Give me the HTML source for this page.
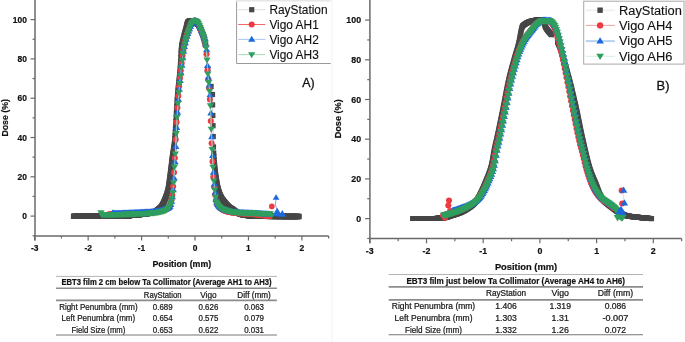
<!DOCTYPE html><html><head><meta charset="utf-8"><style>html,body{margin:0;padding:0;background:#fff;overflow:hidden}svg{display:block;will-change:transform}text{font-family:"Liberation Sans", sans-serif;fill:#111}.tb text{stroke:#222;stroke-width:0.22px}.ax text,.axl{stroke:#111;stroke-width:0.2px}.lb{stroke:#111;stroke-width:0.3px}.lg{stroke:#111;stroke-width:0.12px}</style></head><body>
<svg width="685" height="342" viewBox="0 0 685 342">
<rect width="685" height="342" fill="#fff"/>
<line x1="332" y1="0" x2="332" y2="342" stroke="#f2f2f2" stroke-width="1"/>
<g class="ax"><line x1="35" y1="0" x2="35" y2="240.5" stroke="#6a6a6a" stroke-width="1.5"/><line x1="34.25" y1="236" x2="328.62" y2="236" stroke="#6a6a6a" stroke-width="1.5"/><line x1="30.5" y1="216.1" x2="35" y2="216.1" stroke="#6a6a6a" stroke-width="1.2"/><text x="26.9" y="219.1" font-size="9" font-weight="bold" text-anchor="end" textLength="4.7" lengthAdjust="spacingAndGlyphs">0</text><line x1="30.5" y1="176.8" x2="35" y2="176.8" stroke="#6a6a6a" stroke-width="1.2"/><text x="26.9" y="179.8" font-size="9" font-weight="bold" text-anchor="end" textLength="9.41" lengthAdjust="spacingAndGlyphs">20</text><line x1="30.5" y1="137.5" x2="35" y2="137.5" stroke="#6a6a6a" stroke-width="1.2"/><text x="26.9" y="140.5" font-size="9" font-weight="bold" text-anchor="end" textLength="9.41" lengthAdjust="spacingAndGlyphs">40</text><line x1="30.5" y1="98.2" x2="35" y2="98.2" stroke="#6a6a6a" stroke-width="1.2"/><text x="26.9" y="101.2" font-size="9" font-weight="bold" text-anchor="end" textLength="9.41" lengthAdjust="spacingAndGlyphs">60</text><line x1="30.5" y1="58.9" x2="35" y2="58.9" stroke="#6a6a6a" stroke-width="1.2"/><text x="26.9" y="61.9" font-size="9" font-weight="bold" text-anchor="end" textLength="9.41" lengthAdjust="spacingAndGlyphs">80</text><line x1="30.5" y1="19.6" x2="35" y2="19.6" stroke="#6a6a6a" stroke-width="1.2"/><text x="26.9" y="22.6" font-size="9" font-weight="bold" text-anchor="end" textLength="14.11" lengthAdjust="spacingAndGlyphs">100</text><line x1="32.5" y1="235.75" x2="35" y2="235.75" stroke="#6a6a6a" stroke-width="1.2"/><line x1="32.5" y1="196.45" x2="35" y2="196.45" stroke="#6a6a6a" stroke-width="1.2"/><line x1="32.5" y1="157.15" x2="35" y2="157.15" stroke="#6a6a6a" stroke-width="1.2"/><line x1="32.5" y1="117.85" x2="35" y2="117.85" stroke="#6a6a6a" stroke-width="1.2"/><line x1="32.5" y1="78.55" x2="35" y2="78.55" stroke="#6a6a6a" stroke-width="1.2"/><line x1="32.5" y1="39.25" x2="35" y2="39.25" stroke="#6a6a6a" stroke-width="1.2"/><line x1="34.7" y1="236" x2="34.7" y2="240.5" stroke="#6a6a6a" stroke-width="1.2"/><text x="34.7" y="250.7" font-size="9" font-weight="bold" text-anchor="middle" textLength="7.52" lengthAdjust="spacingAndGlyphs">-3</text><line x1="88.14" y1="236" x2="88.14" y2="240.5" stroke="#6a6a6a" stroke-width="1.2"/><text x="88.14" y="250.7" font-size="9" font-weight="bold" text-anchor="middle" textLength="7.52" lengthAdjust="spacingAndGlyphs">-2</text><line x1="141.58" y1="236" x2="141.58" y2="240.5" stroke="#6a6a6a" stroke-width="1.2"/><text x="141.58" y="250.7" font-size="9" font-weight="bold" text-anchor="middle" textLength="7.52" lengthAdjust="spacingAndGlyphs">-1</text><line x1="195.02" y1="236" x2="195.02" y2="240.5" stroke="#6a6a6a" stroke-width="1.2"/><text x="195.02" y="250.7" font-size="9" font-weight="bold" text-anchor="middle" textLength="4.7" lengthAdjust="spacingAndGlyphs">0</text><line x1="248.46" y1="236" x2="248.46" y2="240.5" stroke="#6a6a6a" stroke-width="1.2"/><text x="248.46" y="250.7" font-size="9" font-weight="bold" text-anchor="middle" textLength="4.7" lengthAdjust="spacingAndGlyphs">1</text><line x1="301.9" y1="236" x2="301.9" y2="240.5" stroke="#6a6a6a" stroke-width="1.2"/><text x="301.9" y="250.7" font-size="9" font-weight="bold" text-anchor="middle" textLength="4.7" lengthAdjust="spacingAndGlyphs">2</text><line x1="61.42" y1="236" x2="61.42" y2="238.5" stroke="#6a6a6a" stroke-width="1.2"/><line x1="114.86" y1="236" x2="114.86" y2="238.5" stroke="#6a6a6a" stroke-width="1.2"/><line x1="168.3" y1="236" x2="168.3" y2="238.5" stroke="#6a6a6a" stroke-width="1.2"/><line x1="221.74" y1="236" x2="221.74" y2="238.5" stroke="#6a6a6a" stroke-width="1.2"/><line x1="275.18" y1="236" x2="275.18" y2="238.5" stroke="#6a6a6a" stroke-width="1.2"/><line x1="328.62" y1="236" x2="328.62" y2="238.5" stroke="#6a6a6a" stroke-width="1.2"/></g>
<path d="M73.5 216.39 L73.71 216.39 L73.92 216.39 L74.14 216.39 L74.35 216.39 L74.57 216.39 L74.78 216.39 L74.99 216.39 L75.21 216.39 L75.42 216.39 L75.64 216.39 L75.85 216.39 L76.06 216.39 L76.28 216.39 L76.49 216.39 L76.7 216.39 L76.92 216.39 L77.13 216.39 L77.35 216.39 L77.56 216.39 L77.77 216.39 L77.99 216.39 L78.2 216.39 L78.41 216.39 L78.63 216.39 L78.84 216.39 L79.06 216.39 L79.27 216.39 L79.48 216.39 L79.7 216.39 L79.91 216.39 L80.12 216.39 L80.34 216.39 L80.55 216.39 L80.77 216.39 L80.98 216.39 L81.19 216.39 L81.41 216.39 L81.62 216.39 L81.83 216.39 L82.05 216.39 L82.26 216.39 L82.48 216.39 L82.69 216.39 L82.9 216.39 L83.12 216.39 L83.33 216.39 L83.54 216.39 L83.76 216.39 L83.97 216.39 L84.19 216.39 L84.4 216.39 L84.61 216.39 L84.83 216.39 L85.04 216.39 L85.25 216.39 L85.47 216.39 L85.68 216.39 L85.9 216.39 L86.11 216.39 L86.32 216.39 L86.54 216.39 L86.75 216.39 L86.96 216.39 L87.18 216.39 L87.39 216.39 L87.61 216.39 L87.82 216.39 L88.03 216.39 L88.25 216.39 L88.46 216.39 L88.67 216.39 L88.89 216.39 L89.1 216.39 L89.32 216.39 L89.53 216.39 L89.74 216.39 L89.96 216.39 L90.17 216.39 L90.38 216.39 L90.6 216.39 L90.81 216.39 L91.03 216.39 L91.24 216.39 L91.45 216.39 L91.67 216.39 L91.88 216.39 L92.09 216.39 L92.31 216.39 L92.52 216.39 L92.74 216.39 L92.95 216.39 L93.16 216.39 L93.38 216.39 L93.59 216.39 L93.8 216.39 L94.02 216.39 L94.23 216.39 L94.45 216.39 L94.66 216.39 L94.87 216.39 L95.09 216.39 L95.3 216.38 L95.51 216.38 L95.73 216.38 L95.94 216.38 L96.16 216.38 L96.37 216.38 L96.58 216.38 L96.8 216.38 L97.01 216.38 L97.22 216.38 L97.44 216.38 L97.65 216.38 L97.87 216.38 L98.08 216.38 L98.29 216.38 L98.51 216.38 L98.72 216.38 L98.93 216.38 L99.15 216.38 L99.36 216.38 L99.58 216.38 L99.79 216.38 L100 216.38 L100.22 216.38 L100.43 216.38 L100.64 216.38 L100.86 216.38 L101.07 216.38 L101.29 216.38 L101.5 216.38 L101.71 216.38 L101.93 216.38 L102.14 216.37 L102.36 216.37 L102.57 216.37 L102.78 216.37 L103 216.37 L103.21 216.37 L103.42 216.37 L103.64 216.37 L103.85 216.37 L104.07 216.37 L104.28 216.37 L104.49 216.37 L104.71 216.37 L104.92 216.37 L105.13 216.37 L105.35 216.37 L105.56 216.37 L105.78 216.37 L105.99 216.37 L106.2 216.37 L106.42 216.37 L106.63 216.37 L106.84 216.36 L107.06 216.36 L107.27 216.36 L107.49 216.36 L107.7 216.36 L107.91 216.36 L108.13 216.36 L108.34 216.36 L108.55 216.36 L108.77 216.36 L108.98 216.36 L109.2 216.36 L109.41 216.36 L109.62 216.36 L109.84 216.36 L110.05 216.36 L110.26 216.36 L110.48 216.36 L110.69 216.36 L110.91 216.35 L111.12 216.35 L111.33 216.35 L111.55 216.35 L111.76 216.35 L111.97 216.35 L112.19 216.35 L112.4 216.35 L112.62 216.35 L112.83 216.35 L113.04 216.35 L113.26 216.35 L113.47 216.35 L113.68 216.35 L113.9 216.35 L114.11 216.34 L114.33 216.34 L114.54 216.34 L114.75 216.34 L114.97 216.34 L115.18 216.34 L115.39 216.34 L115.61 216.34 L115.82 216.34 L116.04 216.34 L116.25 216.34 L116.46 216.34 L116.68 216.34 L116.89 216.33 L117.1 216.33 L117.32 216.33 L117.53 216.33 L117.75 216.33 L117.96 216.33 L118.17 216.33 L118.39 216.33 L118.6 216.33 L118.81 216.33 L119.03 216.33 L119.24 216.33 L119.46 216.32 L119.67 216.32 L119.88 216.32 L120.1 216.32 L120.31 216.32 L120.52 216.32 L120.74 216.32 L120.95 216.32 L121.17 216.32 L121.38 216.32 L121.59 216.32 L121.81 216.31 L122.02 216.31 L122.23 216.31 L122.45 216.31 L122.66 216.31 L122.88 216.31 L123.09 216.31 L123.3 216.31 L123.52 216.31 L123.73 216.31 L123.94 216.3 L124.16 216.3 L124.37 216.3 L124.59 216.3 L124.8 216.3 L125.01 216.3 L125.23 216.3 L125.44 216.3 L125.65 216.29 L125.87 216.29 L126.08 216.27 L126.3 216.25 L126.51 216.22 L126.72 216.19 L126.94 216.15 L127.15 216.11 L127.36 216.07 L127.58 216.02 L127.79 215.97 L128.01 215.92 L128.22 215.87 L128.43 215.82 L128.65 215.77 L128.86 215.72 L129.08 215.67 L129.29 215.63 L129.5 215.59 L129.72 215.55 L129.93 215.52 L130.14 215.49 L130.36 215.46 L130.57 215.43 L130.79 215.4 L131 215.38 L131.21 215.35 L131.43 215.33 L131.64 215.3 L131.85 215.28 L132.07 215.25 L132.28 215.23 L132.5 215.2 L132.71 215.18 L132.92 215.16 L133.14 215.14 L133.35 215.12 L133.56 215.1 L133.78 215.07 L133.99 215.05 L134.21 215.03 L134.42 215.01 L134.63 214.99 L134.85 214.97 L135.06 214.96 L135.27 214.94 L135.49 214.92 L135.7 214.9 L135.92 214.88 L136.13 214.86 L136.34 214.84 L136.56 214.82 L136.77 214.81 L136.98 214.79 L137.2 214.77 L137.41 214.75 L137.63 214.73 L137.84 214.72 L138.05 214.7 L138.27 214.68 L138.48 214.66 L138.69 214.64 L138.91 214.62 L139.12 214.6 L139.34 214.58 L139.55 214.56 L139.76 214.55 L139.98 214.53 L140.19 214.51 L140.4 214.48 L140.62 214.46 L140.83 214.44 L141.05 214.42 L141.26 214.4 L141.47 214.38 L141.69 214.36 L141.9 214.33 L142.11 214.31 L142.33 214.28 L142.54 214.26 L142.76 214.24 L142.97 214.21 L143.18 214.18 L143.4 214.16 L143.61 214.13 L143.82 214.1 L144.04 214.07 L144.25 214.05 L144.47 214.02 L144.68 213.99 L144.89 213.95 L145.11 213.92 L145.32 213.89 L145.53 213.86 L145.75 213.82 L145.96 213.79 L146.18 213.76 L146.39 213.72 L146.6 213.69 L146.82 213.65 L147.03 213.62 L147.24 213.58 L147.46 213.54 L147.67 213.5 L147.89 213.46 L148.1 213.43 L148.31 213.38 L148.53 213.34 L148.74 213.3 L148.95 213.26 L149.17 213.22 L149.38 213.17 L149.6 213.12 L149.81 213.08 L150.02 213.03 L150.24 212.98 L150.45 212.93 L150.66 212.88 L150.88 212.83 L151.09 212.78 L151.31 212.72 L151.52 212.67 L151.73 212.61 L151.95 212.55 L152.16 212.5 L152.37 212.44 L152.59 212.37 L152.8 212.31 L153.02 212.25 L153.23 212.18 L153.44 212.11 L153.66 212.04 L153.87 211.97 L154.08 211.9 L154.3 211.83 L154.51 211.75 L154.73 211.68 L154.94 211.6 L155.15 211.52 L155.37 211.43 L155.58 211.33 L155.8 211.22 L156.01 211.1 L156.22 210.98 L156.44 210.85 L156.65 210.71 L156.86 210.57 L157.08 210.42 L157.29 210.27 L157.51 210.12 L157.72 209.96 L157.93 209.8 L158.15 209.63 L158.36 209.47 L158.57 209.31 L158.79 209.14 L159 208.97 L159.22 208.8 L159.43 208.63 L159.64 208.44 L159.86 208.26 L160.07 208.06 L160.28 207.86 L160.5 207.64 L160.71 207.42 L160.93 207.18 L161.14 206.93 L161.35 206.67 L161.57 206.38 L161.78 206.08 L161.99 205.75 L162.21 205.39 L162.42 205.02 L162.64 204.63 L162.85 204.22 L163.06 203.79 L163.28 203.35 L163.49 202.9 L163.7 202.43 L163.92 201.95 L164.13 201.45 L164.35 200.95 L164.56 200.44 L164.77 199.92 L164.99 199.4 L165.2 198.87 L165.41 198.33 L165.63 197.79 L165.84 197.23 L166.06 196.65 L166.27 196.05 L166.48 195.42 L166.7 194.76 L166.91 194.07 L167.12 193.34 L167.34 192.57 L167.55 191.75 L167.77 190.89 L167.98 189.97 L168.19 188.92 L168.41 187.7 L168.62 186.34 L168.83 184.86 L169.05 183.3 L169.26 181.68 L169.48 180.04 L169.69 178.4 L169.9 176.8 L170.12 175.19 L170.33 173.52 L170.54 171.79 L170.76 170.04 L170.97 168.26 L171.19 166.48 L171.4 164.7 L171.61 162.95 L171.83 161.22 L172.04 159.55 L172.25 157.93 L172.47 156.43 L172.68 155.02 L172.9 153.67 L173.11 152.36 L173.32 151.03 L173.54 149.67 L173.75 148.23 L173.96 146.68 L174.18 144.98 L174.39 143.11 L174.61 140.96 L174.82 138.39 L175.03 135.45 L175.25 132.21 L175.46 128.73 L175.67 125.07 L175.89 121.3 L176.1 117.48 L176.32 113.67 L176.53 109.93 L176.74 106.34 L176.96 102.95 L177.17 99.82 L177.38 97.02 L177.6 94.52 L177.81 92.2 L178.03 90.04 L178.24 88 L178.45 86.03 L178.67 84.1 L178.88 82.17 L179.09 80.21 L179.31 78.17 L179.52 76.02 L179.74 73.72 L179.95 71.23 L180.16 68.43 L180.38 64.93 L180.59 60.99 L180.8 56.99 L181.02 53.29 L181.23 50.28 L181.45 48.27 L181.66 46.77 L181.87 45.45 L182.09 44.29 L182.3 43.26 L182.52 42.32 L182.73 41.45 L182.94 40.62 L183.16 39.79 L183.37 38.94 L183.58 38.04 L183.8 37.14 L184.01 36.26 L184.23 35.4 L184.44 34.57 L184.65 33.75 L184.87 32.94 L185.08 32.15 L185.29 31.37 L185.51 30.59 L185.72 29.82 L185.94 29 L186.15 28.12 L186.36 27.22 L186.58 26.32 L186.79 25.44 L187 24.6 L187.22 23.84 L187.43 23.16 L187.65 22.61 L187.86 22.2 L188.07 21.96 L188.29 21.81 L188.5 21.67 L188.71 21.54 L188.93 21.42 L189.14 21.3 L189.36 21.19 L189.57 21.09 L189.78 21 L190 20.92 L190.21 20.85 L190.42 20.78 L190.64 20.73 L190.85 20.68 L191.07 20.64 L191.28 20.61 L191.49 20.59 L191.71 20.58 L191.92 20.58 L192.13 20.6 L192.35 20.62 L192.56 20.66 L192.78 20.7 L192.99 20.76 L193.2 20.82 L193.42 20.89 L193.63 20.97 L193.84 21.05 L194.06 21.14 L194.27 21.23 L194.49 21.32 L194.7 21.42 L194.91 21.52 L195.13 21.62 L195.34 21.73 L195.55 21.86 L195.77 22 L195.98 22.16 L196.2 22.33 L196.41 22.52 L196.62 22.71 L196.84 22.92 L197.05 23.14 L197.26 23.37 L197.48 23.61 L197.69 23.86 L197.91 24.11 L198.12 24.38 L198.33 24.65 L198.55 24.95 L198.76 25.28 L198.97 25.63 L199.19 26.01 L199.4 26.42 L199.62 26.84 L199.83 27.28 L200.04 27.74 L200.26 28.22 L200.47 28.72 L200.68 29.22 L200.9 29.74 L201.11 30.27 L201.33 30.81 L201.54 31.34 L201.75 31.87 L201.97 32.4 L202.18 32.94 L202.39 33.48 L202.61 34.04 L202.82 34.61 L203.04 35.21 L203.25 35.82 L203.46 36.46 L203.68 37.13 L203.89 37.83 L204.1 38.57 L204.32 39.35 L204.53 40.17 L204.75 41.04 L204.96 41.95 L205.17 42.92 L205.39 43.95 L205.6 45.03 L207.85 68.72 L211.05 86.41 L212.49 94.47 L212.6 104.88 L212.82 115.49 L213.03 125.71 L213.24 136.52 L213.46 146.93 L213.72 152.94 L213.94 156.32 L214.15 159.59 L214.37 162.52 L214.58 165.01 L214.79 167.19 L215.01 169.22 L215.22 171.12 L215.43 172.9 L215.65 174.57 L215.86 176.15 L216.08 177.64 L216.29 179.06 L216.5 180.42 L216.72 181.75 L216.93 183.02 L217.14 184.25 L217.36 185.42 L217.57 186.53 L217.79 187.56 L218 188.51 L218.21 189.37 L218.43 190.15 L218.64 190.88 L218.85 191.59 L219.07 192.26 L219.28 192.9 L219.5 193.51 L219.71 194.09 L219.92 194.64 L220.14 195.17 L220.35 195.67 L220.56 196.15 L220.78 196.6 L220.99 197.03 L221.21 197.43 L221.42 197.82 L221.63 198.19 L221.85 198.54 L222.06 198.87 L222.27 199.19 L222.49 199.5 L222.7 199.8 L222.92 200.08 L223.13 200.36 L223.34 200.64 L223.56 200.9 L223.77 201.17 L223.98 201.43 L224.2 201.69 L224.41 201.95 L224.63 202.21 L224.84 202.48 L225.05 202.74 L225.27 203 L225.48 203.26 L225.69 203.52 L225.91 203.77 L226.12 204.02 L226.34 204.27 L226.55 204.52 L226.76 204.76 L226.98 204.99 L227.19 205.22 L227.4 205.45 L227.62 205.67 L227.83 205.88 L228.05 206.09 L228.26 206.29 L228.47 206.48 L228.69 206.67 L228.9 206.85 L229.11 207.02 L229.33 207.18 L229.54 207.34 L229.76 207.5 L229.97 207.65 L230.18 207.8 L230.4 207.94 L230.61 208.09 L230.82 208.23 L231.04 208.36 L231.25 208.5 L231.47 208.64 L231.68 208.77 L231.89 208.91 L232.11 209.05 L232.32 209.19 L232.53 209.33 L232.75 209.47 L232.96 209.62 L233.18 209.77 L233.39 209.92 L233.6 210.08 L233.82 210.24 L234.03 210.41 L234.24 210.57 L234.46 210.74 L234.67 210.91 L234.89 211.07 L235.1 211.24 L235.31 211.4 L235.53 211.57 L235.74 211.73 L235.96 211.88 L236.17 212.03 L236.38 212.18 L236.6 212.32 L236.81 212.45 L237.02 212.58 L237.24 212.7 L237.45 212.81 L237.67 212.91 L237.88 213 L238.09 213.09 L238.31 213.18 L238.52 213.27 L238.73 213.36 L238.95 213.44 L239.16 213.53 L239.38 213.61 L239.59 213.7 L239.8 213.78 L240.02 213.86 L240.23 213.94 L240.44 214.01 L240.66 214.09 L240.87 214.16 L241.09 214.23 L241.3 214.3 L241.51 214.37 L241.73 214.44 L241.94 214.51 L242.15 214.57 L242.37 214.63 L242.58 214.69 L242.8 214.75 L243.01 214.8 L243.22 214.86 L243.44 214.91 L243.65 214.96 L243.86 215 L244.08 215.05 L244.29 215.09 L244.51 215.13 L244.72 215.17 L244.93 215.2 L245.15 215.23 L245.36 215.26 L245.57 215.29 L245.79 215.31 L246 215.34 L246.22 215.36 L246.43 215.38 L246.64 215.4 L246.86 215.42 L247.07 215.45 L247.28 215.47 L247.5 215.49 L247.71 215.51 L247.93 215.53 L248.14 215.55 L248.35 215.57 L248.57 215.59 L248.78 215.61 L248.99 215.63 L249.21 215.65 L249.42 215.67 L249.64 215.69 L249.85 215.7 L250.06 215.72 L250.28 215.74 L250.49 215.76 L250.7 215.78 L250.92 215.79 L251.13 215.81 L251.35 215.83 L251.56 215.84 L251.77 215.86 L251.99 215.88 L252.2 215.89 L252.41 215.91 L252.63 215.92 L252.84 215.94 L253.06 215.95 L253.27 215.97 L253.48 215.98 L253.7 216 L253.91 216.01 L254.12 216.03 L254.34 216.04 L254.55 216.05 L254.77 216.07 L254.98 216.08 L255.19 216.09 L255.41 216.1 L255.62 216.12 L255.83 216.13 L256.05 216.14 L256.26 216.15 L256.48 216.16 L256.69 216.17 L256.9 216.18 L257.12 216.19 L257.33 216.2 L257.54 216.21 L257.76 216.22 L257.97 216.23 L258.19 216.24 L258.4 216.25 L258.61 216.26 L258.83 216.27 L259.04 216.28 L259.25 216.28 L259.47 216.29 L259.68 216.3 L259.9 216.31 L260.11 216.31 L260.32 216.32 L260.54 216.33 L260.75 216.33 L260.96 216.34 L261.18 216.34 L261.39 216.35 L261.61 216.35 L261.82 216.36 L262.03 216.36 L262.25 216.37 L262.46 216.37 L262.68 216.37 L262.89 216.38 L263.1 216.38 L263.32 216.38 L263.53 216.39 L263.74 216.39 L263.96 216.39 L264.17 216.39 L264.39 216.39 L264.6 216.4 L264.81 216.4 L265.03 216.4 L265.24 216.4 L265.45 216.4 L265.67 216.4 L265.88 216.4 L266.1 216.4 L266.31 216.41 L266.52 216.41 L266.74 216.41 L266.95 216.41 L267.16 216.41 L267.38 216.41 L267.59 216.41 L267.81 216.41 L268.02 216.41 L268.23 216.42 L268.45 216.42 L268.66 216.42 L268.87 216.42 L269.09 216.42 L269.3 216.42 L269.52 216.42 L269.73 216.42 L269.94 216.42 L270.16 216.43 L270.37 216.43 L270.58 216.43 L270.8 216.43 L271.01 216.43 L271.23 216.43 L271.44 216.43 L271.65 216.43 L271.87 216.43 L272.08 216.43 L272.29 216.44 L272.51 216.44 L272.72 216.44 L272.94 216.44 L273.15 216.44 L273.36 216.44 L273.58 216.44 L273.79 216.44 L274 216.44 L274.22 216.44 L274.43 216.44 L274.65 216.45 L274.86 216.45 L275.07 216.45 L275.29 216.45 L275.5 216.45 L275.71 216.45 L275.93 216.45 L276.14 216.45 L276.36 216.45 L276.57 216.45 L276.78 216.45 L277 216.45 L277.21 216.46 L277.42 216.46 L277.64 216.46 L277.85 216.46 L278.07 216.46 L278.28 216.46 L278.49 216.46 L278.71 216.46 L278.92 216.46 L279.13 216.46 L279.35 216.46 L279.56 216.46 L279.78 216.46 L279.99 216.46 L280.2 216.47 L280.42 216.47 L280.63 216.47 L280.84 216.47 L281.06 216.47 L281.27 216.47 L281.49 216.47 L281.7 216.47 L281.91 216.47 L282.13 216.47 L282.34 216.47 L282.55 216.47 L282.77 216.47 L282.98 216.47 L283.2 216.47 L283.41 216.47 L283.62 216.47 L283.84 216.48 L284.05 216.48 L284.26 216.48 L284.48 216.48 L284.69 216.48 L284.91 216.48 L285.12 216.48 L285.33 216.48 L285.55 216.48 L285.76 216.48 L285.97 216.48 L286.19 216.48 L286.4 216.48 L286.62 216.48 L286.83 216.48 L287.04 216.48 L287.26 216.48 L287.47 216.48 L287.68 216.48 L287.9 216.48 L288.11 216.48 L288.33 216.48 L288.54 216.48 L288.75 216.48 L288.97 216.49 L289.18 216.49 L289.4 216.49 L289.61 216.49 L289.82 216.49 L290.04 216.49 L290.25 216.49 L290.46 216.49 L290.68 216.49 L290.89 216.49 L291.11 216.49 L291.32 216.49 L291.53 216.49 L291.75 216.49 L291.96 216.49 L292.17 216.49 L292.39 216.49 L292.6 216.49 L292.82 216.49 L293.03 216.49 L293.24 216.49 L293.46 216.49 L293.67 216.49 L293.88 216.49 L294.1 216.49 L294.31 216.49 L294.53 216.49 L294.74 216.49 L294.95 216.49 L295.17 216.49 L295.38 216.49 L295.59 216.49 L295.81 216.49 L296.02 216.49 L296.24 216.49 L296.45 216.49 L296.66 216.49 L296.88 216.49 L297.09 216.49 L297.3 216.49 L297.52 216.49 L297.73 216.49 L297.95 216.49 L298.16 216.49 L298.37 216.49 L298.59 216.49 L298.8 216.49 L299.01 216.49" fill="none" stroke="#bbbbbb" stroke-width="0.8"/><rect x="70.9" y="213.79" width="5.2" height="5.2" fill="#474747"/><rect x="71.11" y="213.79" width="5.2" height="5.2" fill="#474747"/><rect x="71.32" y="213.79" width="5.2" height="5.2" fill="#474747"/><rect x="71.54" y="213.79" width="5.2" height="5.2" fill="#474747"/><rect x="71.75" y="213.79" width="5.2" height="5.2" fill="#474747"/><rect x="71.97" y="213.79" width="5.2" height="5.2" fill="#474747"/><rect x="72.18" y="213.79" width="5.2" height="5.2" fill="#474747"/><rect x="72.39" y="213.79" width="5.2" height="5.2" fill="#474747"/><rect x="72.61" y="213.79" width="5.2" height="5.2" fill="#474747"/><rect x="72.82" y="213.79" width="5.2" height="5.2" fill="#474747"/><rect x="73.04" y="213.79" width="5.2" height="5.2" fill="#474747"/><rect x="73.25" y="213.79" width="5.2" height="5.2" fill="#474747"/><rect x="73.46" y="213.79" width="5.2" height="5.2" fill="#474747"/><rect x="73.68" y="213.79" width="5.2" height="5.2" fill="#474747"/><rect x="73.89" y="213.79" width="5.2" height="5.2" fill="#474747"/><rect x="74.1" y="213.79" width="5.2" height="5.2" fill="#474747"/><rect x="74.32" y="213.79" width="5.2" height="5.2" fill="#474747"/><rect x="74.53" y="213.79" width="5.2" height="5.2" fill="#474747"/><rect x="74.75" y="213.79" width="5.2" height="5.2" fill="#474747"/><rect x="74.96" y="213.79" width="5.2" height="5.2" fill="#474747"/><rect x="75.17" y="213.79" width="5.2" height="5.2" fill="#474747"/><rect x="75.39" y="213.79" width="5.2" height="5.2" fill="#474747"/><rect x="75.6" y="213.79" width="5.2" height="5.2" fill="#474747"/><rect x="75.81" y="213.79" width="5.2" height="5.2" fill="#474747"/><rect x="76.03" y="213.79" width="5.2" height="5.2" fill="#474747"/><rect x="76.24" y="213.79" width="5.2" height="5.2" fill="#474747"/><rect x="76.46" y="213.79" width="5.2" height="5.2" fill="#474747"/><rect x="76.67" y="213.79" width="5.2" height="5.2" fill="#474747"/><rect x="76.88" y="213.79" width="5.2" height="5.2" fill="#474747"/><rect x="77.1" y="213.79" width="5.2" height="5.2" fill="#474747"/><rect x="77.31" y="213.79" width="5.2" height="5.2" fill="#474747"/><rect x="77.52" y="213.79" width="5.2" height="5.2" fill="#474747"/><rect x="77.74" y="213.79" width="5.2" height="5.2" fill="#474747"/><rect x="77.95" y="213.79" width="5.2" height="5.2" fill="#474747"/><rect x="78.17" y="213.79" width="5.2" height="5.2" fill="#474747"/><rect x="78.38" y="213.79" width="5.2" height="5.2" fill="#474747"/><rect x="78.59" y="213.79" width="5.2" height="5.2" fill="#474747"/><rect x="78.81" y="213.79" width="5.2" height="5.2" fill="#474747"/><rect x="79.02" y="213.79" width="5.2" height="5.2" fill="#474747"/><rect x="79.23" y="213.79" width="5.2" height="5.2" fill="#474747"/><rect x="79.45" y="213.79" width="5.2" height="5.2" fill="#474747"/><rect x="79.66" y="213.79" width="5.2" height="5.2" fill="#474747"/><rect x="79.88" y="213.79" width="5.2" height="5.2" fill="#474747"/><rect x="80.09" y="213.79" width="5.2" height="5.2" fill="#474747"/><rect x="80.3" y="213.79" width="5.2" height="5.2" fill="#474747"/><rect x="80.52" y="213.79" width="5.2" height="5.2" fill="#474747"/><rect x="80.73" y="213.79" width="5.2" height="5.2" fill="#474747"/><rect x="80.94" y="213.79" width="5.2" height="5.2" fill="#474747"/><rect x="81.16" y="213.79" width="5.2" height="5.2" fill="#474747"/><rect x="81.37" y="213.79" width="5.2" height="5.2" fill="#474747"/><rect x="81.59" y="213.79" width="5.2" height="5.2" fill="#474747"/><rect x="81.8" y="213.79" width="5.2" height="5.2" fill="#474747"/><rect x="82.01" y="213.79" width="5.2" height="5.2" fill="#474747"/><rect x="82.23" y="213.79" width="5.2" height="5.2" fill="#474747"/><rect x="82.44" y="213.79" width="5.2" height="5.2" fill="#474747"/><rect x="82.65" y="213.79" width="5.2" height="5.2" fill="#474747"/><rect x="82.87" y="213.79" width="5.2" height="5.2" fill="#474747"/><rect x="83.08" y="213.79" width="5.2" height="5.2" fill="#474747"/><rect x="83.3" y="213.79" width="5.2" height="5.2" fill="#474747"/><rect x="83.51" y="213.79" width="5.2" height="5.2" fill="#474747"/><rect x="83.72" y="213.79" width="5.2" height="5.2" fill="#474747"/><rect x="83.94" y="213.79" width="5.2" height="5.2" fill="#474747"/><rect x="84.15" y="213.79" width="5.2" height="5.2" fill="#474747"/><rect x="84.36" y="213.79" width="5.2" height="5.2" fill="#474747"/><rect x="84.58" y="213.79" width="5.2" height="5.2" fill="#474747"/><rect x="84.79" y="213.79" width="5.2" height="5.2" fill="#474747"/><rect x="85.01" y="213.79" width="5.2" height="5.2" fill="#474747"/><rect x="85.22" y="213.79" width="5.2" height="5.2" fill="#474747"/><rect x="85.43" y="213.79" width="5.2" height="5.2" fill="#474747"/><rect x="85.65" y="213.79" width="5.2" height="5.2" fill="#474747"/><rect x="85.86" y="213.79" width="5.2" height="5.2" fill="#474747"/><rect x="86.07" y="213.79" width="5.2" height="5.2" fill="#474747"/><rect x="86.29" y="213.79" width="5.2" height="5.2" fill="#474747"/><rect x="86.5" y="213.79" width="5.2" height="5.2" fill="#474747"/><rect x="86.72" y="213.79" width="5.2" height="5.2" fill="#474747"/><rect x="86.93" y="213.79" width="5.2" height="5.2" fill="#474747"/><rect x="87.14" y="213.79" width="5.2" height="5.2" fill="#474747"/><rect x="87.36" y="213.79" width="5.2" height="5.2" fill="#474747"/><rect x="87.57" y="213.79" width="5.2" height="5.2" fill="#474747"/><rect x="87.78" y="213.79" width="5.2" height="5.2" fill="#474747"/><rect x="88" y="213.79" width="5.2" height="5.2" fill="#474747"/><rect x="88.21" y="213.79" width="5.2" height="5.2" fill="#474747"/><rect x="88.43" y="213.79" width="5.2" height="5.2" fill="#474747"/><rect x="88.64" y="213.79" width="5.2" height="5.2" fill="#474747"/><rect x="88.85" y="213.79" width="5.2" height="5.2" fill="#474747"/><rect x="89.07" y="213.79" width="5.2" height="5.2" fill="#474747"/><rect x="89.28" y="213.79" width="5.2" height="5.2" fill="#474747"/><rect x="89.49" y="213.79" width="5.2" height="5.2" fill="#474747"/><rect x="89.71" y="213.79" width="5.2" height="5.2" fill="#474747"/><rect x="89.92" y="213.79" width="5.2" height="5.2" fill="#474747"/><rect x="90.14" y="213.79" width="5.2" height="5.2" fill="#474747"/><rect x="90.35" y="213.79" width="5.2" height="5.2" fill="#474747"/><rect x="90.56" y="213.79" width="5.2" height="5.2" fill="#474747"/><rect x="90.78" y="213.79" width="5.2" height="5.2" fill="#474747"/><rect x="90.99" y="213.79" width="5.2" height="5.2" fill="#474747"/><rect x="91.2" y="213.79" width="5.2" height="5.2" fill="#474747"/><rect x="91.42" y="213.79" width="5.2" height="5.2" fill="#474747"/><rect x="91.63" y="213.79" width="5.2" height="5.2" fill="#474747"/><rect x="91.85" y="213.79" width="5.2" height="5.2" fill="#474747"/><rect x="92.06" y="213.79" width="5.2" height="5.2" fill="#474747"/><rect x="92.27" y="213.79" width="5.2" height="5.2" fill="#474747"/><rect x="92.49" y="213.79" width="5.2" height="5.2" fill="#474747"/><rect x="92.7" y="213.78" width="5.2" height="5.2" fill="#474747"/><rect x="92.91" y="213.78" width="5.2" height="5.2" fill="#474747"/><rect x="93.13" y="213.78" width="5.2" height="5.2" fill="#474747"/><rect x="93.34" y="213.78" width="5.2" height="5.2" fill="#474747"/><rect x="93.56" y="213.78" width="5.2" height="5.2" fill="#474747"/><rect x="93.77" y="213.78" width="5.2" height="5.2" fill="#474747"/><rect x="93.98" y="213.78" width="5.2" height="5.2" fill="#474747"/><rect x="94.2" y="213.78" width="5.2" height="5.2" fill="#474747"/><rect x="94.41" y="213.78" width="5.2" height="5.2" fill="#474747"/><rect x="94.62" y="213.78" width="5.2" height="5.2" fill="#474747"/><rect x="94.84" y="213.78" width="5.2" height="5.2" fill="#474747"/><rect x="95.05" y="213.78" width="5.2" height="5.2" fill="#474747"/><rect x="95.27" y="213.78" width="5.2" height="5.2" fill="#474747"/><rect x="95.48" y="213.78" width="5.2" height="5.2" fill="#474747"/><rect x="95.69" y="213.78" width="5.2" height="5.2" fill="#474747"/><rect x="95.91" y="213.78" width="5.2" height="5.2" fill="#474747"/><rect x="96.12" y="213.78" width="5.2" height="5.2" fill="#474747"/><rect x="96.33" y="213.78" width="5.2" height="5.2" fill="#474747"/><rect x="96.55" y="213.78" width="5.2" height="5.2" fill="#474747"/><rect x="96.76" y="213.78" width="5.2" height="5.2" fill="#474747"/><rect x="96.98" y="213.78" width="5.2" height="5.2" fill="#474747"/><rect x="97.19" y="213.78" width="5.2" height="5.2" fill="#474747"/><rect x="97.4" y="213.78" width="5.2" height="5.2" fill="#474747"/><rect x="97.62" y="213.78" width="5.2" height="5.2" fill="#474747"/><rect x="97.83" y="213.78" width="5.2" height="5.2" fill="#474747"/><rect x="98.04" y="213.78" width="5.2" height="5.2" fill="#474747"/><rect x="98.26" y="213.78" width="5.2" height="5.2" fill="#474747"/><rect x="98.47" y="213.78" width="5.2" height="5.2" fill="#474747"/><rect x="98.69" y="213.78" width="5.2" height="5.2" fill="#474747"/><rect x="98.9" y="213.78" width="5.2" height="5.2" fill="#474747"/><rect x="99.11" y="213.78" width="5.2" height="5.2" fill="#474747"/><rect x="99.33" y="213.78" width="5.2" height="5.2" fill="#474747"/><rect x="99.54" y="213.77" width="5.2" height="5.2" fill="#474747"/><rect x="99.76" y="213.77" width="5.2" height="5.2" fill="#474747"/><rect x="99.97" y="213.77" width="5.2" height="5.2" fill="#474747"/><rect x="100.18" y="213.77" width="5.2" height="5.2" fill="#474747"/><rect x="100.4" y="213.77" width="5.2" height="5.2" fill="#474747"/><rect x="100.61" y="213.77" width="5.2" height="5.2" fill="#474747"/><rect x="100.82" y="213.77" width="5.2" height="5.2" fill="#474747"/><rect x="101.04" y="213.77" width="5.2" height="5.2" fill="#474747"/><rect x="101.25" y="213.77" width="5.2" height="5.2" fill="#474747"/><rect x="101.47" y="213.77" width="5.2" height="5.2" fill="#474747"/><rect x="101.68" y="213.77" width="5.2" height="5.2" fill="#474747"/><rect x="101.89" y="213.77" width="5.2" height="5.2" fill="#474747"/><rect x="102.11" y="213.77" width="5.2" height="5.2" fill="#474747"/><rect x="102.32" y="213.77" width="5.2" height="5.2" fill="#474747"/><rect x="102.53" y="213.77" width="5.2" height="5.2" fill="#474747"/><rect x="102.75" y="213.77" width="5.2" height="5.2" fill="#474747"/><rect x="102.96" y="213.77" width="5.2" height="5.2" fill="#474747"/><rect x="103.18" y="213.77" width="5.2" height="5.2" fill="#474747"/><rect x="103.39" y="213.77" width="5.2" height="5.2" fill="#474747"/><rect x="103.6" y="213.77" width="5.2" height="5.2" fill="#474747"/><rect x="103.82" y="213.77" width="5.2" height="5.2" fill="#474747"/><rect x="104.03" y="213.77" width="5.2" height="5.2" fill="#474747"/><rect x="104.24" y="213.76" width="5.2" height="5.2" fill="#474747"/><rect x="104.46" y="213.76" width="5.2" height="5.2" fill="#474747"/><rect x="104.67" y="213.76" width="5.2" height="5.2" fill="#474747"/><rect x="104.89" y="213.76" width="5.2" height="5.2" fill="#474747"/><rect x="105.1" y="213.76" width="5.2" height="5.2" fill="#474747"/><rect x="105.31" y="213.76" width="5.2" height="5.2" fill="#474747"/><rect x="105.53" y="213.76" width="5.2" height="5.2" fill="#474747"/><rect x="105.74" y="213.76" width="5.2" height="5.2" fill="#474747"/><rect x="105.95" y="213.76" width="5.2" height="5.2" fill="#474747"/><rect x="106.17" y="213.76" width="5.2" height="5.2" fill="#474747"/><rect x="106.38" y="213.76" width="5.2" height="5.2" fill="#474747"/><rect x="106.6" y="213.76" width="5.2" height="5.2" fill="#474747"/><rect x="106.81" y="213.76" width="5.2" height="5.2" fill="#474747"/><rect x="107.02" y="213.76" width="5.2" height="5.2" fill="#474747"/><rect x="107.24" y="213.76" width="5.2" height="5.2" fill="#474747"/><rect x="107.45" y="213.76" width="5.2" height="5.2" fill="#474747"/><rect x="107.66" y="213.76" width="5.2" height="5.2" fill="#474747"/><rect x="107.88" y="213.76" width="5.2" height="5.2" fill="#474747"/><rect x="108.09" y="213.76" width="5.2" height="5.2" fill="#474747"/><rect x="108.31" y="213.75" width="5.2" height="5.2" fill="#474747"/><rect x="108.52" y="213.75" width="5.2" height="5.2" fill="#474747"/><rect x="108.73" y="213.75" width="5.2" height="5.2" fill="#474747"/><rect x="108.95" y="213.75" width="5.2" height="5.2" fill="#474747"/><rect x="109.16" y="213.75" width="5.2" height="5.2" fill="#474747"/><rect x="109.37" y="213.75" width="5.2" height="5.2" fill="#474747"/><rect x="109.59" y="213.75" width="5.2" height="5.2" fill="#474747"/><rect x="109.8" y="213.75" width="5.2" height="5.2" fill="#474747"/><rect x="110.02" y="213.75" width="5.2" height="5.2" fill="#474747"/><rect x="110.23" y="213.75" width="5.2" height="5.2" fill="#474747"/><rect x="110.44" y="213.75" width="5.2" height="5.2" fill="#474747"/><rect x="110.66" y="213.75" width="5.2" height="5.2" fill="#474747"/><rect x="110.87" y="213.75" width="5.2" height="5.2" fill="#474747"/><rect x="111.08" y="213.75" width="5.2" height="5.2" fill="#474747"/><rect x="111.3" y="213.75" width="5.2" height="5.2" fill="#474747"/><rect x="111.51" y="213.74" width="5.2" height="5.2" fill="#474747"/><rect x="111.73" y="213.74" width="5.2" height="5.2" fill="#474747"/><rect x="111.94" y="213.74" width="5.2" height="5.2" fill="#474747"/><rect x="112.15" y="213.74" width="5.2" height="5.2" fill="#474747"/><rect x="112.37" y="213.74" width="5.2" height="5.2" fill="#474747"/><rect x="112.58" y="213.74" width="5.2" height="5.2" fill="#474747"/><rect x="112.79" y="213.74" width="5.2" height="5.2" fill="#474747"/><rect x="113.01" y="213.74" width="5.2" height="5.2" fill="#474747"/><rect x="113.22" y="213.74" width="5.2" height="5.2" fill="#474747"/><rect x="113.44" y="213.74" width="5.2" height="5.2" fill="#474747"/><rect x="113.65" y="213.74" width="5.2" height="5.2" fill="#474747"/><rect x="113.86" y="213.74" width="5.2" height="5.2" fill="#474747"/><rect x="114.08" y="213.74" width="5.2" height="5.2" fill="#474747"/><rect x="114.29" y="213.73" width="5.2" height="5.2" fill="#474747"/><rect x="114.5" y="213.73" width="5.2" height="5.2" fill="#474747"/><rect x="114.72" y="213.73" width="5.2" height="5.2" fill="#474747"/><rect x="114.93" y="213.73" width="5.2" height="5.2" fill="#474747"/><rect x="115.15" y="213.73" width="5.2" height="5.2" fill="#474747"/><rect x="115.36" y="213.73" width="5.2" height="5.2" fill="#474747"/><rect x="115.57" y="213.73" width="5.2" height="5.2" fill="#474747"/><rect x="115.79" y="213.73" width="5.2" height="5.2" fill="#474747"/><rect x="116" y="213.73" width="5.2" height="5.2" fill="#474747"/><rect x="116.21" y="213.73" width="5.2" height="5.2" fill="#474747"/><rect x="116.43" y="213.73" width="5.2" height="5.2" fill="#474747"/><rect x="116.64" y="213.73" width="5.2" height="5.2" fill="#474747"/><rect x="116.86" y="213.72" width="5.2" height="5.2" fill="#474747"/><rect x="117.07" y="213.72" width="5.2" height="5.2" fill="#474747"/><rect x="117.28" y="213.72" width="5.2" height="5.2" fill="#474747"/><rect x="117.5" y="213.72" width="5.2" height="5.2" fill="#474747"/><rect x="117.71" y="213.72" width="5.2" height="5.2" fill="#474747"/><rect x="117.92" y="213.72" width="5.2" height="5.2" fill="#474747"/><rect x="118.14" y="213.72" width="5.2" height="5.2" fill="#474747"/><rect x="118.35" y="213.72" width="5.2" height="5.2" fill="#474747"/><rect x="118.57" y="213.72" width="5.2" height="5.2" fill="#474747"/><rect x="118.78" y="213.72" width="5.2" height="5.2" fill="#474747"/><rect x="118.99" y="213.72" width="5.2" height="5.2" fill="#474747"/><rect x="119.21" y="213.71" width="5.2" height="5.2" fill="#474747"/><rect x="119.42" y="213.71" width="5.2" height="5.2" fill="#474747"/><rect x="119.63" y="213.71" width="5.2" height="5.2" fill="#474747"/><rect x="119.85" y="213.71" width="5.2" height="5.2" fill="#474747"/><rect x="120.06" y="213.71" width="5.2" height="5.2" fill="#474747"/><rect x="120.28" y="213.71" width="5.2" height="5.2" fill="#474747"/><rect x="120.49" y="213.71" width="5.2" height="5.2" fill="#474747"/><rect x="120.7" y="213.71" width="5.2" height="5.2" fill="#474747"/><rect x="120.92" y="213.71" width="5.2" height="5.2" fill="#474747"/><rect x="121.13" y="213.71" width="5.2" height="5.2" fill="#474747"/><rect x="121.34" y="213.7" width="5.2" height="5.2" fill="#474747"/><rect x="121.56" y="213.7" width="5.2" height="5.2" fill="#474747"/><rect x="121.77" y="213.7" width="5.2" height="5.2" fill="#474747"/><rect x="121.99" y="213.7" width="5.2" height="5.2" fill="#474747"/><rect x="122.2" y="213.7" width="5.2" height="5.2" fill="#474747"/><rect x="122.41" y="213.7" width="5.2" height="5.2" fill="#474747"/><rect x="122.63" y="213.7" width="5.2" height="5.2" fill="#474747"/><rect x="122.84" y="213.7" width="5.2" height="5.2" fill="#474747"/><rect x="123.05" y="213.69" width="5.2" height="5.2" fill="#474747"/><rect x="123.27" y="213.69" width="5.2" height="5.2" fill="#474747"/><rect x="123.48" y="213.67" width="5.2" height="5.2" fill="#474747"/><rect x="123.7" y="213.65" width="5.2" height="5.2" fill="#474747"/><rect x="123.91" y="213.62" width="5.2" height="5.2" fill="#474747"/><rect x="124.12" y="213.59" width="5.2" height="5.2" fill="#474747"/><rect x="124.34" y="213.55" width="5.2" height="5.2" fill="#474747"/><rect x="124.55" y="213.51" width="5.2" height="5.2" fill="#474747"/><rect x="124.76" y="213.47" width="5.2" height="5.2" fill="#474747"/><rect x="124.98" y="213.42" width="5.2" height="5.2" fill="#474747"/><rect x="125.19" y="213.37" width="5.2" height="5.2" fill="#474747"/><rect x="125.41" y="213.32" width="5.2" height="5.2" fill="#474747"/><rect x="125.62" y="213.27" width="5.2" height="5.2" fill="#474747"/><rect x="125.83" y="213.22" width="5.2" height="5.2" fill="#474747"/><rect x="126.05" y="213.17" width="5.2" height="5.2" fill="#474747"/><rect x="126.26" y="213.12" width="5.2" height="5.2" fill="#474747"/><rect x="126.48" y="213.07" width="5.2" height="5.2" fill="#474747"/><rect x="126.69" y="213.03" width="5.2" height="5.2" fill="#474747"/><rect x="126.9" y="212.99" width="5.2" height="5.2" fill="#474747"/><rect x="127.12" y="212.95" width="5.2" height="5.2" fill="#474747"/><rect x="127.33" y="212.92" width="5.2" height="5.2" fill="#474747"/><rect x="127.54" y="212.89" width="5.2" height="5.2" fill="#474747"/><rect x="127.76" y="212.86" width="5.2" height="5.2" fill="#474747"/><rect x="127.97" y="212.83" width="5.2" height="5.2" fill="#474747"/><rect x="128.19" y="212.8" width="5.2" height="5.2" fill="#474747"/><rect x="128.4" y="212.78" width="5.2" height="5.2" fill="#474747"/><rect x="128.61" y="212.75" width="5.2" height="5.2" fill="#474747"/><rect x="128.83" y="212.73" width="5.2" height="5.2" fill="#474747"/><rect x="129.04" y="212.7" width="5.2" height="5.2" fill="#474747"/><rect x="129.25" y="212.68" width="5.2" height="5.2" fill="#474747"/><rect x="129.47" y="212.65" width="5.2" height="5.2" fill="#474747"/><rect x="129.68" y="212.63" width="5.2" height="5.2" fill="#474747"/><rect x="129.9" y="212.6" width="5.2" height="5.2" fill="#474747"/><rect x="130.11" y="212.58" width="5.2" height="5.2" fill="#474747"/><rect x="130.32" y="212.56" width="5.2" height="5.2" fill="#474747"/><rect x="130.54" y="212.54" width="5.2" height="5.2" fill="#474747"/><rect x="130.75" y="212.52" width="5.2" height="5.2" fill="#474747"/><rect x="130.96" y="212.5" width="5.2" height="5.2" fill="#474747"/><rect x="131.18" y="212.47" width="5.2" height="5.2" fill="#474747"/><rect x="131.39" y="212.45" width="5.2" height="5.2" fill="#474747"/><rect x="131.61" y="212.43" width="5.2" height="5.2" fill="#474747"/><rect x="131.82" y="212.41" width="5.2" height="5.2" fill="#474747"/><rect x="132.03" y="212.39" width="5.2" height="5.2" fill="#474747"/><rect x="132.25" y="212.37" width="5.2" height="5.2" fill="#474747"/><rect x="132.46" y="212.36" width="5.2" height="5.2" fill="#474747"/><rect x="132.67" y="212.34" width="5.2" height="5.2" fill="#474747"/><rect x="132.89" y="212.32" width="5.2" height="5.2" fill="#474747"/><rect x="133.1" y="212.3" width="5.2" height="5.2" fill="#474747"/><rect x="133.32" y="212.28" width="5.2" height="5.2" fill="#474747"/><rect x="133.53" y="212.26" width="5.2" height="5.2" fill="#474747"/><rect x="133.74" y="212.24" width="5.2" height="5.2" fill="#474747"/><rect x="133.96" y="212.22" width="5.2" height="5.2" fill="#474747"/><rect x="134.17" y="212.21" width="5.2" height="5.2" fill="#474747"/><rect x="134.38" y="212.19" width="5.2" height="5.2" fill="#474747"/><rect x="134.6" y="212.17" width="5.2" height="5.2" fill="#474747"/><rect x="134.81" y="212.15" width="5.2" height="5.2" fill="#474747"/><rect x="135.03" y="212.13" width="5.2" height="5.2" fill="#474747"/><rect x="135.24" y="212.12" width="5.2" height="5.2" fill="#474747"/><rect x="135.45" y="212.1" width="5.2" height="5.2" fill="#474747"/><rect x="135.67" y="212.08" width="5.2" height="5.2" fill="#474747"/><rect x="135.88" y="212.06" width="5.2" height="5.2" fill="#474747"/><rect x="136.09" y="212.04" width="5.2" height="5.2" fill="#474747"/><rect x="136.31" y="212.02" width="5.2" height="5.2" fill="#474747"/><rect x="136.52" y="212" width="5.2" height="5.2" fill="#474747"/><rect x="136.74" y="211.98" width="5.2" height="5.2" fill="#474747"/><rect x="136.95" y="211.96" width="5.2" height="5.2" fill="#474747"/><rect x="137.16" y="211.95" width="5.2" height="5.2" fill="#474747"/><rect x="137.38" y="211.93" width="5.2" height="5.2" fill="#474747"/><rect x="137.59" y="211.91" width="5.2" height="5.2" fill="#474747"/><rect x="137.8" y="211.88" width="5.2" height="5.2" fill="#474747"/><rect x="138.02" y="211.86" width="5.2" height="5.2" fill="#474747"/><rect x="138.23" y="211.84" width="5.2" height="5.2" fill="#474747"/><rect x="138.45" y="211.82" width="5.2" height="5.2" fill="#474747"/><rect x="138.66" y="211.8" width="5.2" height="5.2" fill="#474747"/><rect x="138.87" y="211.78" width="5.2" height="5.2" fill="#474747"/><rect x="139.09" y="211.76" width="5.2" height="5.2" fill="#474747"/><rect x="139.3" y="211.73" width="5.2" height="5.2" fill="#474747"/><rect x="139.51" y="211.71" width="5.2" height="5.2" fill="#474747"/><rect x="139.73" y="211.68" width="5.2" height="5.2" fill="#474747"/><rect x="139.94" y="211.66" width="5.2" height="5.2" fill="#474747"/><rect x="140.16" y="211.64" width="5.2" height="5.2" fill="#474747"/><rect x="140.37" y="211.61" width="5.2" height="5.2" fill="#474747"/><rect x="140.58" y="211.58" width="5.2" height="5.2" fill="#474747"/><rect x="140.8" y="211.56" width="5.2" height="5.2" fill="#474747"/><rect x="141.01" y="211.53" width="5.2" height="5.2" fill="#474747"/><rect x="141.22" y="211.5" width="5.2" height="5.2" fill="#474747"/><rect x="141.44" y="211.47" width="5.2" height="5.2" fill="#474747"/><rect x="141.65" y="211.45" width="5.2" height="5.2" fill="#474747"/><rect x="141.87" y="211.42" width="5.2" height="5.2" fill="#474747"/><rect x="142.08" y="211.39" width="5.2" height="5.2" fill="#474747"/><rect x="142.29" y="211.35" width="5.2" height="5.2" fill="#474747"/><rect x="142.51" y="211.32" width="5.2" height="5.2" fill="#474747"/><rect x="142.72" y="211.29" width="5.2" height="5.2" fill="#474747"/><rect x="142.93" y="211.26" width="5.2" height="5.2" fill="#474747"/><rect x="143.15" y="211.22" width="5.2" height="5.2" fill="#474747"/><rect x="143.36" y="211.19" width="5.2" height="5.2" fill="#474747"/><rect x="143.58" y="211.16" width="5.2" height="5.2" fill="#474747"/><rect x="143.79" y="211.12" width="5.2" height="5.2" fill="#474747"/><rect x="144" y="211.09" width="5.2" height="5.2" fill="#474747"/><rect x="144.22" y="211.05" width="5.2" height="5.2" fill="#474747"/><rect x="144.43" y="211.02" width="5.2" height="5.2" fill="#474747"/><rect x="144.64" y="210.98" width="5.2" height="5.2" fill="#474747"/><rect x="144.86" y="210.94" width="5.2" height="5.2" fill="#474747"/><rect x="145.07" y="210.9" width="5.2" height="5.2" fill="#474747"/><rect x="145.29" y="210.86" width="5.2" height="5.2" fill="#474747"/><rect x="145.5" y="210.83" width="5.2" height="5.2" fill="#474747"/><rect x="145.71" y="210.78" width="5.2" height="5.2" fill="#474747"/><rect x="145.93" y="210.74" width="5.2" height="5.2" fill="#474747"/><rect x="146.14" y="210.7" width="5.2" height="5.2" fill="#474747"/><rect x="146.35" y="210.66" width="5.2" height="5.2" fill="#474747"/><rect x="146.57" y="210.62" width="5.2" height="5.2" fill="#474747"/><rect x="146.78" y="210.57" width="5.2" height="5.2" fill="#474747"/><rect x="147" y="210.52" width="5.2" height="5.2" fill="#474747"/><rect x="147.21" y="210.48" width="5.2" height="5.2" fill="#474747"/><rect x="147.42" y="210.43" width="5.2" height="5.2" fill="#474747"/><rect x="147.64" y="210.38" width="5.2" height="5.2" fill="#474747"/><rect x="147.85" y="210.33" width="5.2" height="5.2" fill="#474747"/><rect x="148.06" y="210.28" width="5.2" height="5.2" fill="#474747"/><rect x="148.28" y="210.23" width="5.2" height="5.2" fill="#474747"/><rect x="148.49" y="210.18" width="5.2" height="5.2" fill="#474747"/><rect x="148.71" y="210.12" width="5.2" height="5.2" fill="#474747"/><rect x="148.92" y="210.07" width="5.2" height="5.2" fill="#474747"/><rect x="149.13" y="210.01" width="5.2" height="5.2" fill="#474747"/><rect x="149.35" y="209.95" width="5.2" height="5.2" fill="#474747"/><rect x="149.56" y="209.9" width="5.2" height="5.2" fill="#474747"/><rect x="149.77" y="209.84" width="5.2" height="5.2" fill="#474747"/><rect x="149.99" y="209.77" width="5.2" height="5.2" fill="#474747"/><rect x="150.2" y="209.71" width="5.2" height="5.2" fill="#474747"/><rect x="150.42" y="209.65" width="5.2" height="5.2" fill="#474747"/><rect x="150.63" y="209.58" width="5.2" height="5.2" fill="#474747"/><rect x="150.84" y="209.51" width="5.2" height="5.2" fill="#474747"/><rect x="151.06" y="209.44" width="5.2" height="5.2" fill="#474747"/><rect x="151.27" y="209.37" width="5.2" height="5.2" fill="#474747"/><rect x="151.48" y="209.3" width="5.2" height="5.2" fill="#474747"/><rect x="151.7" y="209.23" width="5.2" height="5.2" fill="#474747"/><rect x="151.91" y="209.15" width="5.2" height="5.2" fill="#474747"/><rect x="152.13" y="209.08" width="5.2" height="5.2" fill="#474747"/><rect x="152.34" y="209" width="5.2" height="5.2" fill="#474747"/><rect x="152.55" y="208.92" width="5.2" height="5.2" fill="#474747"/><rect x="152.77" y="208.83" width="5.2" height="5.2" fill="#474747"/><rect x="152.98" y="208.73" width="5.2" height="5.2" fill="#474747"/><rect x="153.2" y="208.62" width="5.2" height="5.2" fill="#474747"/><rect x="153.41" y="208.5" width="5.2" height="5.2" fill="#474747"/><rect x="153.62" y="208.38" width="5.2" height="5.2" fill="#474747"/><rect x="153.84" y="208.25" width="5.2" height="5.2" fill="#474747"/><rect x="154.05" y="208.11" width="5.2" height="5.2" fill="#474747"/><rect x="154.26" y="207.97" width="5.2" height="5.2" fill="#474747"/><rect x="154.48" y="207.82" width="5.2" height="5.2" fill="#474747"/><rect x="154.69" y="207.67" width="5.2" height="5.2" fill="#474747"/><rect x="154.91" y="207.52" width="5.2" height="5.2" fill="#474747"/><rect x="155.12" y="207.36" width="5.2" height="5.2" fill="#474747"/><rect x="155.33" y="207.2" width="5.2" height="5.2" fill="#474747"/><rect x="155.55" y="207.03" width="5.2" height="5.2" fill="#474747"/><rect x="155.76" y="206.87" width="5.2" height="5.2" fill="#474747"/><rect x="155.97" y="206.71" width="5.2" height="5.2" fill="#474747"/><rect x="156.19" y="206.54" width="5.2" height="5.2" fill="#474747"/><rect x="156.4" y="206.37" width="5.2" height="5.2" fill="#474747"/><rect x="156.62" y="206.2" width="5.2" height="5.2" fill="#474747"/><rect x="156.83" y="206.03" width="5.2" height="5.2" fill="#474747"/><rect x="157.04" y="205.84" width="5.2" height="5.2" fill="#474747"/><rect x="157.26" y="205.66" width="5.2" height="5.2" fill="#474747"/><rect x="157.47" y="205.46" width="5.2" height="5.2" fill="#474747"/><rect x="157.68" y="205.26" width="5.2" height="5.2" fill="#474747"/><rect x="157.9" y="205.04" width="5.2" height="5.2" fill="#474747"/><rect x="158.11" y="204.82" width="5.2" height="5.2" fill="#474747"/><rect x="158.33" y="204.58" width="5.2" height="5.2" fill="#474747"/><rect x="158.54" y="204.33" width="5.2" height="5.2" fill="#474747"/><rect x="158.75" y="204.07" width="5.2" height="5.2" fill="#474747"/><rect x="158.97" y="203.78" width="5.2" height="5.2" fill="#474747"/><rect x="159.18" y="203.48" width="5.2" height="5.2" fill="#474747"/><rect x="159.39" y="203.15" width="5.2" height="5.2" fill="#474747"/><rect x="159.61" y="202.79" width="5.2" height="5.2" fill="#474747"/><rect x="159.82" y="202.42" width="5.2" height="5.2" fill="#474747"/><rect x="160.04" y="202.03" width="5.2" height="5.2" fill="#474747"/><rect x="160.25" y="201.62" width="5.2" height="5.2" fill="#474747"/><rect x="160.46" y="201.19" width="5.2" height="5.2" fill="#474747"/><rect x="160.68" y="200.75" width="5.2" height="5.2" fill="#474747"/><rect x="160.89" y="200.3" width="5.2" height="5.2" fill="#474747"/><rect x="161.1" y="199.83" width="5.2" height="5.2" fill="#474747"/><rect x="161.32" y="199.35" width="5.2" height="5.2" fill="#474747"/><rect x="161.53" y="198.85" width="5.2" height="5.2" fill="#474747"/><rect x="161.75" y="198.35" width="5.2" height="5.2" fill="#474747"/><rect x="161.96" y="197.84" width="5.2" height="5.2" fill="#474747"/><rect x="162.17" y="197.32" width="5.2" height="5.2" fill="#474747"/><rect x="162.39" y="196.8" width="5.2" height="5.2" fill="#474747"/><rect x="162.6" y="196.27" width="5.2" height="5.2" fill="#474747"/><rect x="162.81" y="195.73" width="5.2" height="5.2" fill="#474747"/><rect x="163.03" y="195.19" width="5.2" height="5.2" fill="#474747"/><rect x="163.24" y="194.63" width="5.2" height="5.2" fill="#474747"/><rect x="163.46" y="194.05" width="5.2" height="5.2" fill="#474747"/><rect x="163.67" y="193.45" width="5.2" height="5.2" fill="#474747"/><rect x="163.88" y="192.82" width="5.2" height="5.2" fill="#474747"/><rect x="164.1" y="192.16" width="5.2" height="5.2" fill="#474747"/><rect x="164.31" y="191.47" width="5.2" height="5.2" fill="#474747"/><rect x="164.52" y="190.74" width="5.2" height="5.2" fill="#474747"/><rect x="164.74" y="189.97" width="5.2" height="5.2" fill="#474747"/><rect x="164.95" y="189.15" width="5.2" height="5.2" fill="#474747"/><rect x="165.17" y="188.29" width="5.2" height="5.2" fill="#474747"/><rect x="165.38" y="187.37" width="5.2" height="5.2" fill="#474747"/><rect x="165.59" y="186.32" width="5.2" height="5.2" fill="#474747"/><rect x="165.81" y="185.1" width="5.2" height="5.2" fill="#474747"/><rect x="166.02" y="183.74" width="5.2" height="5.2" fill="#474747"/><rect x="166.23" y="182.26" width="5.2" height="5.2" fill="#474747"/><rect x="166.45" y="180.7" width="5.2" height="5.2" fill="#474747"/><rect x="166.66" y="179.08" width="5.2" height="5.2" fill="#474747"/><rect x="166.88" y="177.44" width="5.2" height="5.2" fill="#474747"/><rect x="167.09" y="175.8" width="5.2" height="5.2" fill="#474747"/><rect x="167.3" y="174.2" width="5.2" height="5.2" fill="#474747"/><rect x="167.52" y="172.59" width="5.2" height="5.2" fill="#474747"/><rect x="167.73" y="170.92" width="5.2" height="5.2" fill="#474747"/><rect x="167.94" y="169.19" width="5.2" height="5.2" fill="#474747"/><rect x="168.16" y="167.44" width="5.2" height="5.2" fill="#474747"/><rect x="168.37" y="165.66" width="5.2" height="5.2" fill="#474747"/><rect x="168.59" y="163.88" width="5.2" height="5.2" fill="#474747"/><rect x="168.8" y="162.1" width="5.2" height="5.2" fill="#474747"/><rect x="169.01" y="160.35" width="5.2" height="5.2" fill="#474747"/><rect x="169.23" y="158.62" width="5.2" height="5.2" fill="#474747"/><rect x="169.44" y="156.95" width="5.2" height="5.2" fill="#474747"/><rect x="169.65" y="155.33" width="5.2" height="5.2" fill="#474747"/><rect x="169.87" y="153.83" width="5.2" height="5.2" fill="#474747"/><rect x="170.08" y="152.42" width="5.2" height="5.2" fill="#474747"/><rect x="170.3" y="151.07" width="5.2" height="5.2" fill="#474747"/><rect x="170.51" y="149.76" width="5.2" height="5.2" fill="#474747"/><rect x="170.72" y="148.43" width="5.2" height="5.2" fill="#474747"/><rect x="170.94" y="147.07" width="5.2" height="5.2" fill="#474747"/><rect x="171.15" y="145.63" width="5.2" height="5.2" fill="#474747"/><rect x="171.36" y="144.08" width="5.2" height="5.2" fill="#474747"/><rect x="171.58" y="142.38" width="5.2" height="5.2" fill="#474747"/><rect x="171.79" y="140.51" width="5.2" height="5.2" fill="#474747"/><rect x="172.01" y="138.36" width="5.2" height="5.2" fill="#474747"/><rect x="172.22" y="135.79" width="5.2" height="5.2" fill="#474747"/><rect x="172.43" y="132.85" width="5.2" height="5.2" fill="#474747"/><rect x="172.65" y="129.61" width="5.2" height="5.2" fill="#474747"/><rect x="172.86" y="126.13" width="5.2" height="5.2" fill="#474747"/><rect x="173.07" y="122.47" width="5.2" height="5.2" fill="#474747"/><rect x="173.29" y="118.7" width="5.2" height="5.2" fill="#474747"/><rect x="173.5" y="114.88" width="5.2" height="5.2" fill="#474747"/><rect x="173.72" y="111.07" width="5.2" height="5.2" fill="#474747"/><rect x="173.93" y="107.33" width="5.2" height="5.2" fill="#474747"/><rect x="174.14" y="103.74" width="5.2" height="5.2" fill="#474747"/><rect x="174.36" y="100.35" width="5.2" height="5.2" fill="#474747"/><rect x="174.57" y="97.22" width="5.2" height="5.2" fill="#474747"/><rect x="174.78" y="94.42" width="5.2" height="5.2" fill="#474747"/><rect x="175" y="91.92" width="5.2" height="5.2" fill="#474747"/><rect x="175.21" y="89.6" width="5.2" height="5.2" fill="#474747"/><rect x="175.43" y="87.44" width="5.2" height="5.2" fill="#474747"/><rect x="175.64" y="85.4" width="5.2" height="5.2" fill="#474747"/><rect x="175.85" y="83.43" width="5.2" height="5.2" fill="#474747"/><rect x="176.07" y="81.5" width="5.2" height="5.2" fill="#474747"/><rect x="176.28" y="79.57" width="5.2" height="5.2" fill="#474747"/><rect x="176.49" y="77.61" width="5.2" height="5.2" fill="#474747"/><rect x="176.71" y="75.57" width="5.2" height="5.2" fill="#474747"/><rect x="176.92" y="73.42" width="5.2" height="5.2" fill="#474747"/><rect x="177.14" y="71.12" width="5.2" height="5.2" fill="#474747"/><rect x="177.35" y="68.63" width="5.2" height="5.2" fill="#474747"/><rect x="177.56" y="65.83" width="5.2" height="5.2" fill="#474747"/><rect x="177.78" y="62.33" width="5.2" height="5.2" fill="#474747"/><rect x="177.99" y="58.39" width="5.2" height="5.2" fill="#474747"/><rect x="178.2" y="54.39" width="5.2" height="5.2" fill="#474747"/><rect x="178.42" y="50.69" width="5.2" height="5.2" fill="#474747"/><rect x="178.63" y="47.68" width="5.2" height="5.2" fill="#474747"/><rect x="178.85" y="45.67" width="5.2" height="5.2" fill="#474747"/><rect x="179.06" y="44.17" width="5.2" height="5.2" fill="#474747"/><rect x="179.27" y="42.85" width="5.2" height="5.2" fill="#474747"/><rect x="179.49" y="41.69" width="5.2" height="5.2" fill="#474747"/><rect x="179.7" y="40.66" width="5.2" height="5.2" fill="#474747"/><rect x="179.92" y="39.72" width="5.2" height="5.2" fill="#474747"/><rect x="180.13" y="38.85" width="5.2" height="5.2" fill="#474747"/><rect x="180.34" y="38.02" width="5.2" height="5.2" fill="#474747"/><rect x="180.56" y="37.19" width="5.2" height="5.2" fill="#474747"/><rect x="180.77" y="36.34" width="5.2" height="5.2" fill="#474747"/><rect x="180.98" y="35.44" width="5.2" height="5.2" fill="#474747"/><rect x="181.2" y="34.54" width="5.2" height="5.2" fill="#474747"/><rect x="181.41" y="33.66" width="5.2" height="5.2" fill="#474747"/><rect x="181.63" y="32.8" width="5.2" height="5.2" fill="#474747"/><rect x="181.84" y="31.97" width="5.2" height="5.2" fill="#474747"/><rect x="182.05" y="31.15" width="5.2" height="5.2" fill="#474747"/><rect x="182.27" y="30.34" width="5.2" height="5.2" fill="#474747"/><rect x="182.48" y="29.55" width="5.2" height="5.2" fill="#474747"/><rect x="182.69" y="28.77" width="5.2" height="5.2" fill="#474747"/><rect x="182.91" y="27.99" width="5.2" height="5.2" fill="#474747"/><rect x="183.12" y="27.22" width="5.2" height="5.2" fill="#474747"/><rect x="183.34" y="26.4" width="5.2" height="5.2" fill="#474747"/><rect x="183.55" y="25.52" width="5.2" height="5.2" fill="#474747"/><rect x="183.76" y="24.62" width="5.2" height="5.2" fill="#474747"/><rect x="183.98" y="23.72" width="5.2" height="5.2" fill="#474747"/><rect x="184.19" y="22.84" width="5.2" height="5.2" fill="#474747"/><rect x="184.4" y="22" width="5.2" height="5.2" fill="#474747"/><rect x="184.62" y="21.24" width="5.2" height="5.2" fill="#474747"/><rect x="184.83" y="20.56" width="5.2" height="5.2" fill="#474747"/><rect x="185.05" y="20.01" width="5.2" height="5.2" fill="#474747"/><rect x="185.26" y="19.6" width="5.2" height="5.2" fill="#474747"/><rect x="185.47" y="19.36" width="5.2" height="5.2" fill="#474747"/><rect x="185.69" y="19.21" width="5.2" height="5.2" fill="#474747"/><rect x="185.9" y="19.07" width="5.2" height="5.2" fill="#474747"/><rect x="186.11" y="18.94" width="5.2" height="5.2" fill="#474747"/><rect x="186.33" y="18.82" width="5.2" height="5.2" fill="#474747"/><rect x="186.54" y="18.7" width="5.2" height="5.2" fill="#474747"/><rect x="186.76" y="18.59" width="5.2" height="5.2" fill="#474747"/><rect x="186.97" y="18.49" width="5.2" height="5.2" fill="#474747"/><rect x="187.18" y="18.4" width="5.2" height="5.2" fill="#474747"/><rect x="187.4" y="18.32" width="5.2" height="5.2" fill="#474747"/><rect x="187.61" y="18.25" width="5.2" height="5.2" fill="#474747"/><rect x="187.82" y="18.18" width="5.2" height="5.2" fill="#474747"/><rect x="188.04" y="18.13" width="5.2" height="5.2" fill="#474747"/><rect x="188.25" y="18.08" width="5.2" height="5.2" fill="#474747"/><rect x="188.47" y="18.04" width="5.2" height="5.2" fill="#474747"/><rect x="188.68" y="18.01" width="5.2" height="5.2" fill="#474747"/><rect x="188.89" y="17.99" width="5.2" height="5.2" fill="#474747"/><rect x="189.11" y="17.98" width="5.2" height="5.2" fill="#474747"/><rect x="189.32" y="17.98" width="5.2" height="5.2" fill="#474747"/><rect x="189.53" y="18" width="5.2" height="5.2" fill="#474747"/><rect x="189.75" y="18.02" width="5.2" height="5.2" fill="#474747"/><rect x="189.96" y="18.06" width="5.2" height="5.2" fill="#474747"/><rect x="190.18" y="18.1" width="5.2" height="5.2" fill="#474747"/><rect x="190.39" y="18.16" width="5.2" height="5.2" fill="#474747"/><rect x="190.6" y="18.22" width="5.2" height="5.2" fill="#474747"/><rect x="190.82" y="18.29" width="5.2" height="5.2" fill="#474747"/><rect x="191.03" y="18.37" width="5.2" height="5.2" fill="#474747"/><rect x="191.24" y="18.45" width="5.2" height="5.2" fill="#474747"/><rect x="191.46" y="18.54" width="5.2" height="5.2" fill="#474747"/><rect x="191.67" y="18.63" width="5.2" height="5.2" fill="#474747"/><rect x="191.89" y="18.72" width="5.2" height="5.2" fill="#474747"/><rect x="192.1" y="18.82" width="5.2" height="5.2" fill="#474747"/><rect x="192.31" y="18.92" width="5.2" height="5.2" fill="#474747"/><rect x="192.53" y="19.02" width="5.2" height="5.2" fill="#474747"/><rect x="192.74" y="19.13" width="5.2" height="5.2" fill="#474747"/><rect x="192.95" y="19.26" width="5.2" height="5.2" fill="#474747"/><rect x="193.17" y="19.4" width="5.2" height="5.2" fill="#474747"/><rect x="193.38" y="19.56" width="5.2" height="5.2" fill="#474747"/><rect x="193.6" y="19.73" width="5.2" height="5.2" fill="#474747"/><rect x="193.81" y="19.92" width="5.2" height="5.2" fill="#474747"/><rect x="194.02" y="20.11" width="5.2" height="5.2" fill="#474747"/><rect x="194.24" y="20.32" width="5.2" height="5.2" fill="#474747"/><rect x="194.45" y="20.54" width="5.2" height="5.2" fill="#474747"/><rect x="194.66" y="20.77" width="5.2" height="5.2" fill="#474747"/><rect x="194.88" y="21.01" width="5.2" height="5.2" fill="#474747"/><rect x="195.09" y="21.26" width="5.2" height="5.2" fill="#474747"/><rect x="195.31" y="21.51" width="5.2" height="5.2" fill="#474747"/><rect x="195.52" y="21.78" width="5.2" height="5.2" fill="#474747"/><rect x="195.73" y="22.05" width="5.2" height="5.2" fill="#474747"/><rect x="195.95" y="22.35" width="5.2" height="5.2" fill="#474747"/><rect x="196.16" y="22.68" width="5.2" height="5.2" fill="#474747"/><rect x="196.37" y="23.03" width="5.2" height="5.2" fill="#474747"/><rect x="196.59" y="23.41" width="5.2" height="5.2" fill="#474747"/><rect x="196.8" y="23.82" width="5.2" height="5.2" fill="#474747"/><rect x="197.02" y="24.24" width="5.2" height="5.2" fill="#474747"/><rect x="197.23" y="24.68" width="5.2" height="5.2" fill="#474747"/><rect x="197.44" y="25.14" width="5.2" height="5.2" fill="#474747"/><rect x="197.66" y="25.62" width="5.2" height="5.2" fill="#474747"/><rect x="197.87" y="26.12" width="5.2" height="5.2" fill="#474747"/><rect x="198.08" y="26.62" width="5.2" height="5.2" fill="#474747"/><rect x="198.3" y="27.14" width="5.2" height="5.2" fill="#474747"/><rect x="198.51" y="27.67" width="5.2" height="5.2" fill="#474747"/><rect x="198.73" y="28.21" width="5.2" height="5.2" fill="#474747"/><rect x="198.94" y="28.74" width="5.2" height="5.2" fill="#474747"/><rect x="199.15" y="29.27" width="5.2" height="5.2" fill="#474747"/><rect x="199.37" y="29.8" width="5.2" height="5.2" fill="#474747"/><rect x="199.58" y="30.34" width="5.2" height="5.2" fill="#474747"/><rect x="199.79" y="30.88" width="5.2" height="5.2" fill="#474747"/><rect x="200.01" y="31.44" width="5.2" height="5.2" fill="#474747"/><rect x="200.22" y="32.01" width="5.2" height="5.2" fill="#474747"/><rect x="200.44" y="32.61" width="5.2" height="5.2" fill="#474747"/><rect x="200.65" y="33.22" width="5.2" height="5.2" fill="#474747"/><rect x="200.86" y="33.86" width="5.2" height="5.2" fill="#474747"/><rect x="201.08" y="34.53" width="5.2" height="5.2" fill="#474747"/><rect x="201.29" y="35.23" width="5.2" height="5.2" fill="#474747"/><rect x="201.5" y="35.97" width="5.2" height="5.2" fill="#474747"/><rect x="201.72" y="36.75" width="5.2" height="5.2" fill="#474747"/><rect x="201.93" y="37.57" width="5.2" height="5.2" fill="#474747"/><rect x="202.15" y="38.44" width="5.2" height="5.2" fill="#474747"/><rect x="202.36" y="39.35" width="5.2" height="5.2" fill="#474747"/><rect x="202.57" y="40.32" width="5.2" height="5.2" fill="#474747"/><rect x="202.79" y="41.35" width="5.2" height="5.2" fill="#474747"/><rect x="203" y="42.43" width="5.2" height="5.2" fill="#474747"/><rect x="205.25" y="66.12" width="5.2" height="5.2" fill="#474747"/><rect x="208.45" y="83.81" width="5.2" height="5.2" fill="#474747"/><rect x="209.89" y="91.87" width="5.2" height="5.2" fill="#474747"/><rect x="210" y="102.28" width="5.2" height="5.2" fill="#474747"/><rect x="210.22" y="112.89" width="5.2" height="5.2" fill="#474747"/><rect x="210.43" y="123.11" width="5.2" height="5.2" fill="#474747"/><rect x="210.64" y="133.92" width="5.2" height="5.2" fill="#474747"/><rect x="210.86" y="144.33" width="5.2" height="5.2" fill="#474747"/><rect x="211.12" y="150.34" width="5.2" height="5.2" fill="#474747"/><rect x="211.34" y="153.72" width="5.2" height="5.2" fill="#474747"/><rect x="211.55" y="156.99" width="5.2" height="5.2" fill="#474747"/><rect x="211.77" y="159.92" width="5.2" height="5.2" fill="#474747"/><rect x="211.98" y="162.41" width="5.2" height="5.2" fill="#474747"/><rect x="212.19" y="164.59" width="5.2" height="5.2" fill="#474747"/><rect x="212.41" y="166.62" width="5.2" height="5.2" fill="#474747"/><rect x="212.62" y="168.52" width="5.2" height="5.2" fill="#474747"/><rect x="212.83" y="170.3" width="5.2" height="5.2" fill="#474747"/><rect x="213.05" y="171.97" width="5.2" height="5.2" fill="#474747"/><rect x="213.26" y="173.55" width="5.2" height="5.2" fill="#474747"/><rect x="213.48" y="175.04" width="5.2" height="5.2" fill="#474747"/><rect x="213.69" y="176.46" width="5.2" height="5.2" fill="#474747"/><rect x="213.9" y="177.82" width="5.2" height="5.2" fill="#474747"/><rect x="214.12" y="179.15" width="5.2" height="5.2" fill="#474747"/><rect x="214.33" y="180.42" width="5.2" height="5.2" fill="#474747"/><rect x="214.54" y="181.65" width="5.2" height="5.2" fill="#474747"/><rect x="214.76" y="182.82" width="5.2" height="5.2" fill="#474747"/><rect x="214.97" y="183.93" width="5.2" height="5.2" fill="#474747"/><rect x="215.19" y="184.96" width="5.2" height="5.2" fill="#474747"/><rect x="215.4" y="185.91" width="5.2" height="5.2" fill="#474747"/><rect x="215.61" y="186.77" width="5.2" height="5.2" fill="#474747"/><rect x="215.83" y="187.55" width="5.2" height="5.2" fill="#474747"/><rect x="216.04" y="188.28" width="5.2" height="5.2" fill="#474747"/><rect x="216.25" y="188.99" width="5.2" height="5.2" fill="#474747"/><rect x="216.47" y="189.66" width="5.2" height="5.2" fill="#474747"/><rect x="216.68" y="190.3" width="5.2" height="5.2" fill="#474747"/><rect x="216.9" y="190.91" width="5.2" height="5.2" fill="#474747"/><rect x="217.11" y="191.49" width="5.2" height="5.2" fill="#474747"/><rect x="217.32" y="192.04" width="5.2" height="5.2" fill="#474747"/><rect x="217.54" y="192.57" width="5.2" height="5.2" fill="#474747"/><rect x="217.75" y="193.07" width="5.2" height="5.2" fill="#474747"/><rect x="217.96" y="193.55" width="5.2" height="5.2" fill="#474747"/><rect x="218.18" y="194" width="5.2" height="5.2" fill="#474747"/><rect x="218.39" y="194.43" width="5.2" height="5.2" fill="#474747"/><rect x="218.61" y="194.83" width="5.2" height="5.2" fill="#474747"/><rect x="218.82" y="195.22" width="5.2" height="5.2" fill="#474747"/><rect x="219.03" y="195.59" width="5.2" height="5.2" fill="#474747"/><rect x="219.25" y="195.94" width="5.2" height="5.2" fill="#474747"/><rect x="219.46" y="196.27" width="5.2" height="5.2" fill="#474747"/><rect x="219.67" y="196.59" width="5.2" height="5.2" fill="#474747"/><rect x="219.89" y="196.9" width="5.2" height="5.2" fill="#474747"/><rect x="220.1" y="197.2" width="5.2" height="5.2" fill="#474747"/><rect x="220.32" y="197.48" width="5.2" height="5.2" fill="#474747"/><rect x="220.53" y="197.76" width="5.2" height="5.2" fill="#474747"/><rect x="220.74" y="198.04" width="5.2" height="5.2" fill="#474747"/><rect x="220.96" y="198.3" width="5.2" height="5.2" fill="#474747"/><rect x="221.17" y="198.57" width="5.2" height="5.2" fill="#474747"/><rect x="221.38" y="198.83" width="5.2" height="5.2" fill="#474747"/><rect x="221.6" y="199.09" width="5.2" height="5.2" fill="#474747"/><rect x="221.81" y="199.35" width="5.2" height="5.2" fill="#474747"/><rect x="222.03" y="199.61" width="5.2" height="5.2" fill="#474747"/><rect x="222.24" y="199.88" width="5.2" height="5.2" fill="#474747"/><rect x="222.45" y="200.14" width="5.2" height="5.2" fill="#474747"/><rect x="222.67" y="200.4" width="5.2" height="5.2" fill="#474747"/><rect x="222.88" y="200.66" width="5.2" height="5.2" fill="#474747"/><rect x="223.09" y="200.92" width="5.2" height="5.2" fill="#474747"/><rect x="223.31" y="201.17" width="5.2" height="5.2" fill="#474747"/><rect x="223.52" y="201.42" width="5.2" height="5.2" fill="#474747"/><rect x="223.74" y="201.67" width="5.2" height="5.2" fill="#474747"/><rect x="223.95" y="201.92" width="5.2" height="5.2" fill="#474747"/><rect x="224.16" y="202.16" width="5.2" height="5.2" fill="#474747"/><rect x="224.38" y="202.39" width="5.2" height="5.2" fill="#474747"/><rect x="224.59" y="202.62" width="5.2" height="5.2" fill="#474747"/><rect x="224.8" y="202.85" width="5.2" height="5.2" fill="#474747"/><rect x="225.02" y="203.07" width="5.2" height="5.2" fill="#474747"/><rect x="225.23" y="203.28" width="5.2" height="5.2" fill="#474747"/><rect x="225.45" y="203.49" width="5.2" height="5.2" fill="#474747"/><rect x="225.66" y="203.69" width="5.2" height="5.2" fill="#474747"/><rect x="225.87" y="203.88" width="5.2" height="5.2" fill="#474747"/><rect x="226.09" y="204.07" width="5.2" height="5.2" fill="#474747"/><rect x="226.3" y="204.25" width="5.2" height="5.2" fill="#474747"/><rect x="226.51" y="204.42" width="5.2" height="5.2" fill="#474747"/><rect x="226.73" y="204.58" width="5.2" height="5.2" fill="#474747"/><rect x="226.94" y="204.74" width="5.2" height="5.2" fill="#474747"/><rect x="227.16" y="204.9" width="5.2" height="5.2" fill="#474747"/><rect x="227.37" y="205.05" width="5.2" height="5.2" fill="#474747"/><rect x="227.58" y="205.2" width="5.2" height="5.2" fill="#474747"/><rect x="227.8" y="205.34" width="5.2" height="5.2" fill="#474747"/><rect x="228.01" y="205.49" width="5.2" height="5.2" fill="#474747"/><rect x="228.22" y="205.63" width="5.2" height="5.2" fill="#474747"/><rect x="228.44" y="205.76" width="5.2" height="5.2" fill="#474747"/><rect x="228.65" y="205.9" width="5.2" height="5.2" fill="#474747"/><rect x="228.87" y="206.04" width="5.2" height="5.2" fill="#474747"/><rect x="229.08" y="206.17" width="5.2" height="5.2" fill="#474747"/><rect x="229.29" y="206.31" width="5.2" height="5.2" fill="#474747"/><rect x="229.51" y="206.45" width="5.2" height="5.2" fill="#474747"/><rect x="229.72" y="206.59" width="5.2" height="5.2" fill="#474747"/><rect x="229.93" y="206.73" width="5.2" height="5.2" fill="#474747"/><rect x="230.15" y="206.87" width="5.2" height="5.2" fill="#474747"/><rect x="230.36" y="207.02" width="5.2" height="5.2" fill="#474747"/><rect x="230.58" y="207.17" width="5.2" height="5.2" fill="#474747"/><rect x="230.79" y="207.32" width="5.2" height="5.2" fill="#474747"/><rect x="231" y="207.48" width="5.2" height="5.2" fill="#474747"/><rect x="231.22" y="207.64" width="5.2" height="5.2" fill="#474747"/><rect x="231.43" y="207.81" width="5.2" height="5.2" fill="#474747"/><rect x="231.64" y="207.97" width="5.2" height="5.2" fill="#474747"/><rect x="231.86" y="208.14" width="5.2" height="5.2" fill="#474747"/><rect x="232.07" y="208.31" width="5.2" height="5.2" fill="#474747"/><rect x="232.29" y="208.47" width="5.2" height="5.2" fill="#474747"/><rect x="232.5" y="208.64" width="5.2" height="5.2" fill="#474747"/><rect x="232.71" y="208.8" width="5.2" height="5.2" fill="#474747"/><rect x="232.93" y="208.97" width="5.2" height="5.2" fill="#474747"/><rect x="233.14" y="209.13" width="5.2" height="5.2" fill="#474747"/><rect x="233.36" y="209.28" width="5.2" height="5.2" fill="#474747"/><rect x="233.57" y="209.43" width="5.2" height="5.2" fill="#474747"/><rect x="233.78" y="209.58" width="5.2" height="5.2" fill="#474747"/><rect x="234" y="209.72" width="5.2" height="5.2" fill="#474747"/><rect x="234.21" y="209.85" width="5.2" height="5.2" fill="#474747"/><rect x="234.42" y="209.98" width="5.2" height="5.2" fill="#474747"/><rect x="234.64" y="210.1" width="5.2" height="5.2" fill="#474747"/><rect x="234.85" y="210.21" width="5.2" height="5.2" fill="#474747"/><rect x="235.07" y="210.31" width="5.2" height="5.2" fill="#474747"/><rect x="235.28" y="210.4" width="5.2" height="5.2" fill="#474747"/><rect x="235.49" y="210.49" width="5.2" height="5.2" fill="#474747"/><rect x="235.71" y="210.58" width="5.2" height="5.2" fill="#474747"/><rect x="235.92" y="210.67" width="5.2" height="5.2" fill="#474747"/><rect x="236.13" y="210.76" width="5.2" height="5.2" fill="#474747"/><rect x="236.35" y="210.84" width="5.2" height="5.2" fill="#474747"/><rect x="236.56" y="210.93" width="5.2" height="5.2" fill="#474747"/><rect x="236.78" y="211.01" width="5.2" height="5.2" fill="#474747"/><rect x="236.99" y="211.1" width="5.2" height="5.2" fill="#474747"/><rect x="237.2" y="211.18" width="5.2" height="5.2" fill="#474747"/><rect x="237.42" y="211.26" width="5.2" height="5.2" fill="#474747"/><rect x="237.63" y="211.34" width="5.2" height="5.2" fill="#474747"/><rect x="237.84" y="211.41" width="5.2" height="5.2" fill="#474747"/><rect x="238.06" y="211.49" width="5.2" height="5.2" fill="#474747"/><rect x="238.27" y="211.56" width="5.2" height="5.2" fill="#474747"/><rect x="238.49" y="211.63" width="5.2" height="5.2" fill="#474747"/><rect x="238.7" y="211.7" width="5.2" height="5.2" fill="#474747"/><rect x="238.91" y="211.77" width="5.2" height="5.2" fill="#474747"/><rect x="239.13" y="211.84" width="5.2" height="5.2" fill="#474747"/><rect x="239.34" y="211.91" width="5.2" height="5.2" fill="#474747"/><rect x="239.55" y="211.97" width="5.2" height="5.2" fill="#474747"/><rect x="239.77" y="212.03" width="5.2" height="5.2" fill="#474747"/><rect x="239.98" y="212.09" width="5.2" height="5.2" fill="#474747"/><rect x="240.2" y="212.15" width="5.2" height="5.2" fill="#474747"/><rect x="240.41" y="212.2" width="5.2" height="5.2" fill="#474747"/><rect x="240.62" y="212.26" width="5.2" height="5.2" fill="#474747"/><rect x="240.84" y="212.31" width="5.2" height="5.2" fill="#474747"/><rect x="241.05" y="212.36" width="5.2" height="5.2" fill="#474747"/><rect x="241.26" y="212.4" width="5.2" height="5.2" fill="#474747"/><rect x="241.48" y="212.45" width="5.2" height="5.2" fill="#474747"/><rect x="241.69" y="212.49" width="5.2" height="5.2" fill="#474747"/><rect x="241.91" y="212.53" width="5.2" height="5.2" fill="#474747"/><rect x="242.12" y="212.57" width="5.2" height="5.2" fill="#474747"/><rect x="242.33" y="212.6" width="5.2" height="5.2" fill="#474747"/><rect x="242.55" y="212.63" width="5.2" height="5.2" fill="#474747"/><rect x="242.76" y="212.66" width="5.2" height="5.2" fill="#474747"/><rect x="242.97" y="212.69" width="5.2" height="5.2" fill="#474747"/><rect x="243.19" y="212.71" width="5.2" height="5.2" fill="#474747"/><rect x="243.4" y="212.74" width="5.2" height="5.2" fill="#474747"/><rect x="243.62" y="212.76" width="5.2" height="5.2" fill="#474747"/><rect x="243.83" y="212.78" width="5.2" height="5.2" fill="#474747"/><rect x="244.04" y="212.8" width="5.2" height="5.2" fill="#474747"/><rect x="244.26" y="212.82" width="5.2" height="5.2" fill="#474747"/><rect x="244.47" y="212.85" width="5.2" height="5.2" fill="#474747"/><rect x="244.68" y="212.87" width="5.2" height="5.2" fill="#474747"/><rect x="244.9" y="212.89" width="5.2" height="5.2" fill="#474747"/><rect x="245.11" y="212.91" width="5.2" height="5.2" fill="#474747"/><rect x="245.33" y="212.93" width="5.2" height="5.2" fill="#474747"/><rect x="245.54" y="212.95" width="5.2" height="5.2" fill="#474747"/><rect x="245.75" y="212.97" width="5.2" height="5.2" fill="#474747"/><rect x="245.97" y="212.99" width="5.2" height="5.2" fill="#474747"/><rect x="246.18" y="213.01" width="5.2" height="5.2" fill="#474747"/><rect x="246.39" y="213.03" width="5.2" height="5.2" fill="#474747"/><rect x="246.61" y="213.05" width="5.2" height="5.2" fill="#474747"/><rect x="246.82" y="213.07" width="5.2" height="5.2" fill="#474747"/><rect x="247.04" y="213.09" width="5.2" height="5.2" fill="#474747"/><rect x="247.25" y="213.1" width="5.2" height="5.2" fill="#474747"/><rect x="247.46" y="213.12" width="5.2" height="5.2" fill="#474747"/><rect x="247.68" y="213.14" width="5.2" height="5.2" fill="#474747"/><rect x="247.89" y="213.16" width="5.2" height="5.2" fill="#474747"/><rect x="248.1" y="213.18" width="5.2" height="5.2" fill="#474747"/><rect x="248.32" y="213.19" width="5.2" height="5.2" fill="#474747"/><rect x="248.53" y="213.21" width="5.2" height="5.2" fill="#474747"/><rect x="248.75" y="213.23" width="5.2" height="5.2" fill="#474747"/><rect x="248.96" y="213.24" width="5.2" height="5.2" fill="#474747"/><rect x="249.17" y="213.26" width="5.2" height="5.2" fill="#474747"/><rect x="249.39" y="213.28" width="5.2" height="5.2" fill="#474747"/><rect x="249.6" y="213.29" width="5.2" height="5.2" fill="#474747"/><rect x="249.81" y="213.31" width="5.2" height="5.2" fill="#474747"/><rect x="250.03" y="213.32" width="5.2" height="5.2" fill="#474747"/><rect x="250.24" y="213.34" width="5.2" height="5.2" fill="#474747"/><rect x="250.46" y="213.35" width="5.2" height="5.2" fill="#474747"/><rect x="250.67" y="213.37" width="5.2" height="5.2" fill="#474747"/><rect x="250.88" y="213.38" width="5.2" height="5.2" fill="#474747"/><rect x="251.1" y="213.4" width="5.2" height="5.2" fill="#474747"/><rect x="251.31" y="213.41" width="5.2" height="5.2" fill="#474747"/><rect x="251.52" y="213.43" width="5.2" height="5.2" fill="#474747"/><rect x="251.74" y="213.44" width="5.2" height="5.2" fill="#474747"/><rect x="251.95" y="213.45" width="5.2" height="5.2" fill="#474747"/><rect x="252.17" y="213.47" width="5.2" height="5.2" fill="#474747"/><rect x="252.38" y="213.48" width="5.2" height="5.2" fill="#474747"/><rect x="252.59" y="213.49" width="5.2" height="5.2" fill="#474747"/><rect x="252.81" y="213.5" width="5.2" height="5.2" fill="#474747"/><rect x="253.02" y="213.52" width="5.2" height="5.2" fill="#474747"/><rect x="253.23" y="213.53" width="5.2" height="5.2" fill="#474747"/><rect x="253.45" y="213.54" width="5.2" height="5.2" fill="#474747"/><rect x="253.66" y="213.55" width="5.2" height="5.2" fill="#474747"/><rect x="253.88" y="213.56" width="5.2" height="5.2" fill="#474747"/><rect x="254.09" y="213.57" width="5.2" height="5.2" fill="#474747"/><rect x="254.3" y="213.58" width="5.2" height="5.2" fill="#474747"/><rect x="254.52" y="213.59" width="5.2" height="5.2" fill="#474747"/><rect x="254.73" y="213.6" width="5.2" height="5.2" fill="#474747"/><rect x="254.94" y="213.61" width="5.2" height="5.2" fill="#474747"/><rect x="255.16" y="213.62" width="5.2" height="5.2" fill="#474747"/><rect x="255.37" y="213.63" width="5.2" height="5.2" fill="#474747"/><rect x="255.59" y="213.64" width="5.2" height="5.2" fill="#474747"/><rect x="255.8" y="213.65" width="5.2" height="5.2" fill="#474747"/><rect x="256.01" y="213.66" width="5.2" height="5.2" fill="#474747"/><rect x="256.23" y="213.67" width="5.2" height="5.2" fill="#474747"/><rect x="256.44" y="213.68" width="5.2" height="5.2" fill="#474747"/><rect x="256.65" y="213.68" width="5.2" height="5.2" fill="#474747"/><rect x="256.87" y="213.69" width="5.2" height="5.2" fill="#474747"/><rect x="257.08" y="213.7" width="5.2" height="5.2" fill="#474747"/><rect x="257.3" y="213.71" width="5.2" height="5.2" fill="#474747"/><rect x="257.51" y="213.71" width="5.2" height="5.2" fill="#474747"/><rect x="257.72" y="213.72" width="5.2" height="5.2" fill="#474747"/><rect x="257.94" y="213.73" width="5.2" height="5.2" fill="#474747"/><rect x="258.15" y="213.73" width="5.2" height="5.2" fill="#474747"/><rect x="258.36" y="213.74" width="5.2" height="5.2" fill="#474747"/><rect x="258.58" y="213.74" width="5.2" height="5.2" fill="#474747"/><rect x="258.79" y="213.75" width="5.2" height="5.2" fill="#474747"/><rect x="259.01" y="213.75" width="5.2" height="5.2" fill="#474747"/><rect x="259.22" y="213.76" width="5.2" height="5.2" fill="#474747"/><rect x="259.43" y="213.76" width="5.2" height="5.2" fill="#474747"/><rect x="259.65" y="213.77" width="5.2" height="5.2" fill="#474747"/><rect x="259.86" y="213.77" width="5.2" height="5.2" fill="#474747"/><rect x="260.08" y="213.77" width="5.2" height="5.2" fill="#474747"/><rect x="260.29" y="213.78" width="5.2" height="5.2" fill="#474747"/><rect x="260.5" y="213.78" width="5.2" height="5.2" fill="#474747"/><rect x="260.72" y="213.78" width="5.2" height="5.2" fill="#474747"/><rect x="260.93" y="213.79" width="5.2" height="5.2" fill="#474747"/><rect x="261.14" y="213.79" width="5.2" height="5.2" fill="#474747"/><rect x="261.36" y="213.79" width="5.2" height="5.2" fill="#474747"/><rect x="261.57" y="213.79" width="5.2" height="5.2" fill="#474747"/><rect x="261.79" y="213.79" width="5.2" height="5.2" fill="#474747"/><rect x="262" y="213.8" width="5.2" height="5.2" fill="#474747"/><rect x="262.21" y="213.8" width="5.2" height="5.2" fill="#474747"/><rect x="262.43" y="213.8" width="5.2" height="5.2" fill="#474747"/><rect x="262.64" y="213.8" width="5.2" height="5.2" fill="#474747"/><rect x="262.85" y="213.8" width="5.2" height="5.2" fill="#474747"/><rect x="263.07" y="213.8" width="5.2" height="5.2" fill="#474747"/><rect x="263.28" y="213.8" width="5.2" height="5.2" fill="#474747"/><rect x="263.5" y="213.8" width="5.2" height="5.2" fill="#474747"/><rect x="263.71" y="213.81" width="5.2" height="5.2" fill="#474747"/><rect x="263.92" y="213.81" width="5.2" height="5.2" fill="#474747"/><rect x="264.14" y="213.81" width="5.2" height="5.2" fill="#474747"/><rect x="264.35" y="213.81" width="5.2" height="5.2" fill="#474747"/><rect x="264.56" y="213.81" width="5.2" height="5.2" fill="#474747"/><rect x="264.78" y="213.81" width="5.2" height="5.2" fill="#474747"/><rect x="264.99" y="213.81" width="5.2" height="5.2" fill="#474747"/><rect x="265.21" y="213.81" width="5.2" height="5.2" fill="#474747"/><rect x="265.42" y="213.81" width="5.2" height="5.2" fill="#474747"/><rect x="265.63" y="213.82" width="5.2" height="5.2" fill="#474747"/><rect x="265.85" y="213.82" width="5.2" height="5.2" fill="#474747"/><rect x="266.06" y="213.82" width="5.2" height="5.2" fill="#474747"/><rect x="266.27" y="213.82" width="5.2" height="5.2" fill="#474747"/><rect x="266.49" y="213.82" width="5.2" height="5.2" fill="#474747"/><rect x="266.7" y="213.82" width="5.2" height="5.2" fill="#474747"/><rect x="266.92" y="213.82" width="5.2" height="5.2" fill="#474747"/><rect x="267.13" y="213.82" width="5.2" height="5.2" fill="#474747"/><rect x="267.34" y="213.82" width="5.2" height="5.2" fill="#474747"/><rect x="267.56" y="213.83" width="5.2" height="5.2" fill="#474747"/><rect x="267.77" y="213.83" width="5.2" height="5.2" fill="#474747"/><rect x="267.98" y="213.83" width="5.2" height="5.2" fill="#474747"/><rect x="268.2" y="213.83" width="5.2" height="5.2" fill="#474747"/><rect x="268.41" y="213.83" width="5.2" height="5.2" fill="#474747"/><rect x="268.63" y="213.83" width="5.2" height="5.2" fill="#474747"/><rect x="268.84" y="213.83" width="5.2" height="5.2" fill="#474747"/><rect x="269.05" y="213.83" width="5.2" height="5.2" fill="#474747"/><rect x="269.27" y="213.83" width="5.2" height="5.2" fill="#474747"/><rect x="269.48" y="213.83" width="5.2" height="5.2" fill="#474747"/><rect x="269.69" y="213.84" width="5.2" height="5.2" fill="#474747"/><rect x="269.91" y="213.84" width="5.2" height="5.2" fill="#474747"/><rect x="270.12" y="213.84" width="5.2" height="5.2" fill="#474747"/><rect x="270.34" y="213.84" width="5.2" height="5.2" fill="#474747"/><rect x="270.55" y="213.84" width="5.2" height="5.2" fill="#474747"/><rect x="270.76" y="213.84" width="5.2" height="5.2" fill="#474747"/><rect x="270.98" y="213.84" width="5.2" height="5.2" fill="#474747"/><rect x="271.19" y="213.84" width="5.2" height="5.2" fill="#474747"/><rect x="271.4" y="213.84" width="5.2" height="5.2" fill="#474747"/><rect x="271.62" y="213.84" width="5.2" height="5.2" fill="#474747"/><rect x="271.83" y="213.84" width="5.2" height="5.2" fill="#474747"/><rect x="272.05" y="213.85" width="5.2" height="5.2" fill="#474747"/><rect x="272.26" y="213.85" width="5.2" height="5.2" fill="#474747"/><rect x="272.47" y="213.85" width="5.2" height="5.2" fill="#474747"/><rect x="272.69" y="213.85" width="5.2" height="5.2" fill="#474747"/><rect x="272.9" y="213.85" width="5.2" height="5.2" fill="#474747"/><rect x="273.11" y="213.85" width="5.2" height="5.2" fill="#474747"/><rect x="273.33" y="213.85" width="5.2" height="5.2" fill="#474747"/><rect x="273.54" y="213.85" width="5.2" height="5.2" fill="#474747"/><rect x="273.76" y="213.85" width="5.2" height="5.2" fill="#474747"/><rect x="273.97" y="213.85" width="5.2" height="5.2" fill="#474747"/><rect x="274.18" y="213.85" width="5.2" height="5.2" fill="#474747"/><rect x="274.4" y="213.85" width="5.2" height="5.2" fill="#474747"/><rect x="274.61" y="213.86" width="5.2" height="5.2" fill="#474747"/><rect x="274.82" y="213.86" width="5.2" height="5.2" fill="#474747"/><rect x="275.04" y="213.86" width="5.2" height="5.2" fill="#474747"/><rect x="275.25" y="213.86" width="5.2" height="5.2" fill="#474747"/><rect x="275.47" y="213.86" width="5.2" height="5.2" fill="#474747"/><rect x="275.68" y="213.86" width="5.2" height="5.2" fill="#474747"/><rect x="275.89" y="213.86" width="5.2" height="5.2" fill="#474747"/><rect x="276.11" y="213.86" width="5.2" height="5.2" fill="#474747"/><rect x="276.32" y="213.86" width="5.2" height="5.2" fill="#474747"/><rect x="276.53" y="213.86" width="5.2" height="5.2" fill="#474747"/><rect x="276.75" y="213.86" width="5.2" height="5.2" fill="#474747"/><rect x="276.96" y="213.86" width="5.2" height="5.2" fill="#474747"/><rect x="277.18" y="213.86" width="5.2" height="5.2" fill="#474747"/><rect x="277.39" y="213.86" width="5.2" height="5.2" fill="#474747"/><rect x="277.6" y="213.87" width="5.2" height="5.2" fill="#474747"/><rect x="277.82" y="213.87" width="5.2" height="5.2" fill="#474747"/><rect x="278.03" y="213.87" width="5.2" height="5.2" fill="#474747"/><rect x="278.24" y="213.87" width="5.2" height="5.2" fill="#474747"/><rect x="278.46" y="213.87" width="5.2" height="5.2" fill="#474747"/><rect x="278.67" y="213.87" width="5.2" height="5.2" fill="#474747"/><rect x="278.89" y="213.87" width="5.2" height="5.2" fill="#474747"/><rect x="279.1" y="213.87" width="5.2" height="5.2" fill="#474747"/><rect x="279.31" y="213.87" width="5.2" height="5.2" fill="#474747"/><rect x="279.53" y="213.87" width="5.2" height="5.2" fill="#474747"/><rect x="279.74" y="213.87" width="5.2" height="5.2" fill="#474747"/><rect x="279.95" y="213.87" width="5.2" height="5.2" fill="#474747"/><rect x="280.17" y="213.87" width="5.2" height="5.2" fill="#474747"/><rect x="280.38" y="213.87" width="5.2" height="5.2" fill="#474747"/><rect x="280.6" y="213.87" width="5.2" height="5.2" fill="#474747"/><rect x="280.81" y="213.87" width="5.2" height="5.2" fill="#474747"/><rect x="281.02" y="213.87" width="5.2" height="5.2" fill="#474747"/><rect x="281.24" y="213.88" width="5.2" height="5.2" fill="#474747"/><rect x="281.45" y="213.88" width="5.2" height="5.2" fill="#474747"/><rect x="281.66" y="213.88" width="5.2" height="5.2" fill="#474747"/><rect x="281.88" y="213.88" width="5.2" height="5.2" fill="#474747"/><rect x="282.09" y="213.88" width="5.2" height="5.2" fill="#474747"/><rect x="282.31" y="213.88" width="5.2" height="5.2" fill="#474747"/><rect x="282.52" y="213.88" width="5.2" height="5.2" fill="#474747"/><rect x="282.73" y="213.88" width="5.2" height="5.2" fill="#474747"/><rect x="282.95" y="213.88" width="5.2" height="5.2" fill="#474747"/><rect x="283.16" y="213.88" width="5.2" height="5.2" fill="#474747"/><rect x="283.37" y="213.88" width="5.2" height="5.2" fill="#474747"/><rect x="283.59" y="213.88" width="5.2" height="5.2" fill="#474747"/><rect x="283.8" y="213.88" width="5.2" height="5.2" fill="#474747"/><rect x="284.02" y="213.88" width="5.2" height="5.2" fill="#474747"/><rect x="284.23" y="213.88" width="5.2" height="5.2" fill="#474747"/><rect x="284.44" y="213.88" width="5.2" height="5.2" fill="#474747"/><rect x="284.66" y="213.88" width="5.2" height="5.2" fill="#474747"/><rect x="284.87" y="213.88" width="5.2" height="5.2" fill="#474747"/><rect x="285.08" y="213.88" width="5.2" height="5.2" fill="#474747"/><rect x="285.3" y="213.88" width="5.2" height="5.2" fill="#474747"/><rect x="285.51" y="213.88" width="5.2" height="5.2" fill="#474747"/><rect x="285.73" y="213.88" width="5.2" height="5.2" fill="#474747"/><rect x="285.94" y="213.88" width="5.2" height="5.2" fill="#474747"/><rect x="286.15" y="213.88" width="5.2" height="5.2" fill="#474747"/><rect x="286.37" y="213.89" width="5.2" height="5.2" fill="#474747"/><rect x="286.58" y="213.89" width="5.2" height="5.2" fill="#474747"/><rect x="286.8" y="213.89" width="5.2" height="5.2" fill="#474747"/><rect x="287.01" y="213.89" width="5.2" height="5.2" fill="#474747"/><rect x="287.22" y="213.89" width="5.2" height="5.2" fill="#474747"/><rect x="287.44" y="213.89" width="5.2" height="5.2" fill="#474747"/><rect x="287.65" y="213.89" width="5.2" height="5.2" fill="#474747"/><rect x="287.86" y="213.89" width="5.2" height="5.2" fill="#474747"/><rect x="288.08" y="213.89" width="5.2" height="5.2" fill="#474747"/><rect x="288.29" y="213.89" width="5.2" height="5.2" fill="#474747"/><rect x="288.51" y="213.89" width="5.2" height="5.2" fill="#474747"/><rect x="288.72" y="213.89" width="5.2" height="5.2" fill="#474747"/><rect x="288.93" y="213.89" width="5.2" height="5.2" fill="#474747"/><rect x="289.15" y="213.89" width="5.2" height="5.2" fill="#474747"/><rect x="289.36" y="213.89" width="5.2" height="5.2" fill="#474747"/><rect x="289.57" y="213.89" width="5.2" height="5.2" fill="#474747"/><rect x="289.79" y="213.89" width="5.2" height="5.2" fill="#474747"/><rect x="290" y="213.89" width="5.2" height="5.2" fill="#474747"/><rect x="290.22" y="213.89" width="5.2" height="5.2" fill="#474747"/><rect x="290.43" y="213.89" width="5.2" height="5.2" fill="#474747"/><rect x="290.64" y="213.89" width="5.2" height="5.2" fill="#474747"/><rect x="290.86" y="213.89" width="5.2" height="5.2" fill="#474747"/><rect x="291.07" y="213.89" width="5.2" height="5.2" fill="#474747"/><rect x="291.28" y="213.89" width="5.2" height="5.2" fill="#474747"/><rect x="291.5" y="213.89" width="5.2" height="5.2" fill="#474747"/><rect x="291.71" y="213.89" width="5.2" height="5.2" fill="#474747"/><rect x="291.93" y="213.89" width="5.2" height="5.2" fill="#474747"/><rect x="292.14" y="213.89" width="5.2" height="5.2" fill="#474747"/><rect x="292.35" y="213.89" width="5.2" height="5.2" fill="#474747"/><rect x="292.57" y="213.89" width="5.2" height="5.2" fill="#474747"/><rect x="292.78" y="213.89" width="5.2" height="5.2" fill="#474747"/><rect x="292.99" y="213.89" width="5.2" height="5.2" fill="#474747"/><rect x="293.21" y="213.89" width="5.2" height="5.2" fill="#474747"/><rect x="293.42" y="213.89" width="5.2" height="5.2" fill="#474747"/><rect x="293.64" y="213.89" width="5.2" height="5.2" fill="#474747"/><rect x="293.85" y="213.89" width="5.2" height="5.2" fill="#474747"/><rect x="294.06" y="213.89" width="5.2" height="5.2" fill="#474747"/><rect x="294.28" y="213.89" width="5.2" height="5.2" fill="#474747"/><rect x="294.49" y="213.89" width="5.2" height="5.2" fill="#474747"/><rect x="294.7" y="213.89" width="5.2" height="5.2" fill="#474747"/><rect x="294.92" y="213.89" width="5.2" height="5.2" fill="#474747"/><rect x="295.13" y="213.89" width="5.2" height="5.2" fill="#474747"/><rect x="295.35" y="213.89" width="5.2" height="5.2" fill="#474747"/><rect x="295.56" y="213.89" width="5.2" height="5.2" fill="#474747"/><rect x="295.77" y="213.89" width="5.2" height="5.2" fill="#474747"/><rect x="295.99" y="213.89" width="5.2" height="5.2" fill="#474747"/><rect x="296.2" y="213.89" width="5.2" height="5.2" fill="#474747"/><rect x="296.41" y="213.89" width="5.2" height="5.2" fill="#474747"/>
<path d="M109.02 214.29 L109.87 214.23 L110.73 214.17 L111.58 214.12 L112.44 214.06 L113.29 214.01 L114.15 213.96 L115 213.92 L115.86 213.88 L116.71 213.84 L117.57 213.8 L118.42 213.77 L119.28 213.73 L120.13 213.7 L120.99 213.67 L121.84 213.64 L122.7 213.61 L123.55 213.58 L124.41 213.55 L125.26 213.52 L126.12 213.49 L126.97 213.47 L127.83 213.44 L128.68 213.41 L129.54 213.39 L130.39 213.36 L131.25 213.33 L132.1 213.3 L132.96 213.28 L133.81 213.25 L134.67 213.22 L135.52 213.19 L136.38 213.16 L137.23 213.13 L138.09 213.09 L138.94 213.06 L139.8 213.02 L140.65 212.99 L141.51 212.95 L142.36 212.91 L143.22 212.87 L144.07 212.84 L144.93 212.8 L145.78 212.76 L146.64 212.71 L147.49 212.67 L148.35 212.62 L149.2 212.57 L150.06 212.51 L150.91 212.45 L151.77 212.39 L152.62 212.32 L153.48 212.23 L154.33 212.13 L155.19 212.02 L156.04 211.9 L156.9 211.77 L157.75 211.62 L158.61 211.47 L159.46 211.31 L160.32 211.14 L161.17 210.95 L162.03 210.74 L162.88 210.51 L163.74 210.24 L164.59 209.94 L165.45 209.6 L166.3 209.22 L167.16 208.77 L168.01 208.17 L168.87 207.38 L169.73 206.04 L170.58 203.54 L171.44 200.11 L172.29 195 L173.15 186.47 L174 172.48 L174.86 158.12 L175.71 139.44 L176.57 122.18 L177.42 107.74 L178.28 95.9 L179.13 86.28 L179.99 78.1 L180.84 70.53 L181.7 62.89 L182.55 55.61 L183.41 49.67 L184.26 45.33 L185.12 41.58 L185.97 38.3 L186.83 35.39 L187.68 32.77 L188.54 30.35 L189.39 28.02 L190.25 25.8 L191.1 23.9 L191.96 22.55 L192.81 21.69 L193.67 21 L194.52 20.61 L195.38 20.69 L196.23 21.2 L197.09 21.96 L197.94 22.95 L198.8 24.64 L199.65 26.83 L200.51 29.22 L201.36 31.49 L202.22 33.54 L203.07 35.66 L203.93 38.2 L204.78 41.49 L205.64 45.87 L206.49 54.16 L207.35 70.39 L208.2 79.79 L209.06 87.91 L209.91 99.49 L210.77 121.08 L211.62 143.37 L212.48 161.46 L213.33 176.9 L214.19 186.98 L215.04 194.86 L215.9 200.62 L216.75 203.5 L217.61 205.02 L218.46 206.09 L219.32 206.98 L220.17 207.88 L221.03 208.69 L221.88 209.37 L222.74 209.89 L223.59 210.29 L224.45 210.63 L225.3 210.93 L226.16 211.19 L227.01 211.42 L227.87 211.64 L228.72 211.85 L229.58 212.06 L230.43 212.25 L231.29 212.42 L232.14 212.58 L233 212.72 L233.85 212.84 L234.71 212.94 L235.56 213.02 L236.42 213.09 L237.27 213.15 L238.13 213.2 L238.98 213.25 L239.84 213.3 L240.69 213.34 L241.55 213.38 L242.4 213.42 L243.26 213.46 L244.11 213.5 L244.97 213.54 L245.82 213.59 L246.68 213.64 L247.53 213.69 L248.39 213.75 L249.24 213.82 L250.1 213.89 L250.95 213.96 L251.81 214.03 L252.66 214.11 L253.52 214.18 L254.37 214.26 L255.23 214.35 L256.08 214.43 L256.94 214.52 L257.79 214.61 L258.65 214.7 L259.5 214.8 L260.36 214.89 L261.21 214.99 L262.07 215.09 L262.92 215.19 L263.78 215.3 L264.63 215.41 L265.49 215.51 L266.34 215.63 L267.2 215.74 L268.05 215.85 L268.91 215.97 L269.76 216.09" fill="none" stroke="#f08080" stroke-width="0.8"/><circle cx="109.02" cy="214.29" r="3" fill="#ec3a40"/><circle cx="109.87" cy="214.23" r="3" fill="#ec3a40"/><circle cx="110.73" cy="214.17" r="3" fill="#ec3a40"/><circle cx="111.58" cy="214.12" r="3" fill="#ec3a40"/><circle cx="112.44" cy="214.06" r="3" fill="#ec3a40"/><circle cx="113.29" cy="214.01" r="3" fill="#ec3a40"/><circle cx="114.15" cy="213.96" r="3" fill="#ec3a40"/><circle cx="115" cy="213.92" r="3" fill="#ec3a40"/><circle cx="115.86" cy="213.88" r="3" fill="#ec3a40"/><circle cx="116.71" cy="213.84" r="3" fill="#ec3a40"/><circle cx="117.57" cy="213.8" r="3" fill="#ec3a40"/><circle cx="118.42" cy="213.77" r="3" fill="#ec3a40"/><circle cx="119.28" cy="213.73" r="3" fill="#ec3a40"/><circle cx="120.13" cy="213.7" r="3" fill="#ec3a40"/><circle cx="120.99" cy="213.67" r="3" fill="#ec3a40"/><circle cx="121.84" cy="213.64" r="3" fill="#ec3a40"/><circle cx="122.7" cy="213.61" r="3" fill="#ec3a40"/><circle cx="123.55" cy="213.58" r="3" fill="#ec3a40"/><circle cx="124.41" cy="213.55" r="3" fill="#ec3a40"/><circle cx="125.26" cy="213.52" r="3" fill="#ec3a40"/><circle cx="126.12" cy="213.49" r="3" fill="#ec3a40"/><circle cx="126.97" cy="213.47" r="3" fill="#ec3a40"/><circle cx="127.83" cy="213.44" r="3" fill="#ec3a40"/><circle cx="128.68" cy="213.41" r="3" fill="#ec3a40"/><circle cx="129.54" cy="213.39" r="3" fill="#ec3a40"/><circle cx="130.39" cy="213.36" r="3" fill="#ec3a40"/><circle cx="131.25" cy="213.33" r="3" fill="#ec3a40"/><circle cx="132.1" cy="213.3" r="3" fill="#ec3a40"/><circle cx="132.96" cy="213.28" r="3" fill="#ec3a40"/><circle cx="133.81" cy="213.25" r="3" fill="#ec3a40"/><circle cx="134.67" cy="213.22" r="3" fill="#ec3a40"/><circle cx="135.52" cy="213.19" r="3" fill="#ec3a40"/><circle cx="136.38" cy="213.16" r="3" fill="#ec3a40"/><circle cx="137.23" cy="213.13" r="3" fill="#ec3a40"/><circle cx="138.09" cy="213.09" r="3" fill="#ec3a40"/><circle cx="138.94" cy="213.06" r="3" fill="#ec3a40"/><circle cx="139.8" cy="213.02" r="3" fill="#ec3a40"/><circle cx="140.65" cy="212.99" r="3" fill="#ec3a40"/><circle cx="141.51" cy="212.95" r="3" fill="#ec3a40"/><circle cx="142.36" cy="212.91" r="3" fill="#ec3a40"/><circle cx="143.22" cy="212.87" r="3" fill="#ec3a40"/><circle cx="144.07" cy="212.84" r="3" fill="#ec3a40"/><circle cx="144.93" cy="212.8" r="3" fill="#ec3a40"/><circle cx="145.78" cy="212.76" r="3" fill="#ec3a40"/><circle cx="146.64" cy="212.71" r="3" fill="#ec3a40"/><circle cx="147.49" cy="212.67" r="3" fill="#ec3a40"/><circle cx="148.35" cy="212.62" r="3" fill="#ec3a40"/><circle cx="149.2" cy="212.57" r="3" fill="#ec3a40"/><circle cx="150.06" cy="212.51" r="3" fill="#ec3a40"/><circle cx="150.91" cy="212.45" r="3" fill="#ec3a40"/><circle cx="151.77" cy="212.39" r="3" fill="#ec3a40"/><circle cx="152.62" cy="212.32" r="3" fill="#ec3a40"/><circle cx="153.48" cy="212.23" r="3" fill="#ec3a40"/><circle cx="154.33" cy="212.13" r="3" fill="#ec3a40"/><circle cx="155.19" cy="212.02" r="3" fill="#ec3a40"/><circle cx="156.04" cy="211.9" r="3" fill="#ec3a40"/><circle cx="156.9" cy="211.77" r="3" fill="#ec3a40"/><circle cx="157.75" cy="211.62" r="3" fill="#ec3a40"/><circle cx="158.61" cy="211.47" r="3" fill="#ec3a40"/><circle cx="159.46" cy="211.31" r="3" fill="#ec3a40"/><circle cx="160.32" cy="211.14" r="3" fill="#ec3a40"/><circle cx="161.17" cy="210.95" r="3" fill="#ec3a40"/><circle cx="162.03" cy="210.74" r="3" fill="#ec3a40"/><circle cx="162.88" cy="210.51" r="3" fill="#ec3a40"/><circle cx="163.74" cy="210.24" r="3" fill="#ec3a40"/><circle cx="164.59" cy="209.94" r="3" fill="#ec3a40"/><circle cx="165.45" cy="209.6" r="3" fill="#ec3a40"/><circle cx="166.3" cy="209.22" r="3" fill="#ec3a40"/><circle cx="167.16" cy="208.77" r="3" fill="#ec3a40"/><circle cx="168.01" cy="208.17" r="3" fill="#ec3a40"/><circle cx="168.87" cy="207.38" r="3" fill="#ec3a40"/><circle cx="169.73" cy="206.04" r="3" fill="#ec3a40"/><circle cx="170.58" cy="203.54" r="3" fill="#ec3a40"/><circle cx="171.44" cy="200.11" r="3" fill="#ec3a40"/><circle cx="172.29" cy="195" r="3" fill="#ec3a40"/><circle cx="173.15" cy="186.47" r="3" fill="#ec3a40"/><circle cx="174" cy="172.48" r="3" fill="#ec3a40"/><circle cx="174.86" cy="158.12" r="3" fill="#ec3a40"/><circle cx="175.71" cy="139.44" r="3" fill="#ec3a40"/><circle cx="176.57" cy="122.18" r="3" fill="#ec3a40"/><circle cx="177.42" cy="107.74" r="3" fill="#ec3a40"/><circle cx="178.28" cy="95.9" r="3" fill="#ec3a40"/><circle cx="179.13" cy="86.28" r="3" fill="#ec3a40"/><circle cx="179.99" cy="78.1" r="3" fill="#ec3a40"/><circle cx="180.84" cy="70.53" r="3" fill="#ec3a40"/><circle cx="181.7" cy="62.89" r="3" fill="#ec3a40"/><circle cx="182.55" cy="55.61" r="3" fill="#ec3a40"/><circle cx="183.41" cy="49.67" r="3" fill="#ec3a40"/><circle cx="184.26" cy="45.33" r="3" fill="#ec3a40"/><circle cx="185.12" cy="41.58" r="3" fill="#ec3a40"/><circle cx="185.97" cy="38.3" r="3" fill="#ec3a40"/><circle cx="186.83" cy="35.39" r="3" fill="#ec3a40"/><circle cx="187.68" cy="32.77" r="3" fill="#ec3a40"/><circle cx="188.54" cy="30.35" r="3" fill="#ec3a40"/><circle cx="189.39" cy="28.02" r="3" fill="#ec3a40"/><circle cx="190.25" cy="25.8" r="3" fill="#ec3a40"/><circle cx="191.1" cy="23.9" r="3" fill="#ec3a40"/><circle cx="191.96" cy="22.55" r="3" fill="#ec3a40"/><circle cx="192.81" cy="21.69" r="3" fill="#ec3a40"/><circle cx="193.67" cy="21" r="3" fill="#ec3a40"/><circle cx="194.52" cy="20.61" r="3" fill="#ec3a40"/><circle cx="195.38" cy="20.69" r="3" fill="#ec3a40"/><circle cx="196.23" cy="21.2" r="3" fill="#ec3a40"/><circle cx="197.09" cy="21.96" r="3" fill="#ec3a40"/><circle cx="197.94" cy="22.95" r="3" fill="#ec3a40"/><circle cx="198.8" cy="24.64" r="3" fill="#ec3a40"/><circle cx="199.65" cy="26.83" r="3" fill="#ec3a40"/><circle cx="200.51" cy="29.22" r="3" fill="#ec3a40"/><circle cx="201.36" cy="31.49" r="3" fill="#ec3a40"/><circle cx="202.22" cy="33.54" r="3" fill="#ec3a40"/><circle cx="203.07" cy="35.66" r="3" fill="#ec3a40"/><circle cx="203.93" cy="38.2" r="3" fill="#ec3a40"/><circle cx="204.78" cy="41.49" r="3" fill="#ec3a40"/><circle cx="205.64" cy="45.87" r="3" fill="#ec3a40"/><circle cx="206.49" cy="54.16" r="3" fill="#ec3a40"/><circle cx="207.35" cy="70.39" r="3" fill="#ec3a40"/><circle cx="208.2" cy="79.79" r="3" fill="#ec3a40"/><circle cx="209.06" cy="87.91" r="3" fill="#ec3a40"/><circle cx="209.91" cy="99.49" r="3" fill="#ec3a40"/><circle cx="210.77" cy="121.08" r="3" fill="#ec3a40"/><circle cx="211.62" cy="143.37" r="3" fill="#ec3a40"/><circle cx="212.48" cy="161.46" r="3" fill="#ec3a40"/><circle cx="213.33" cy="176.9" r="3" fill="#ec3a40"/><circle cx="214.19" cy="186.98" r="3" fill="#ec3a40"/><circle cx="215.04" cy="194.86" r="3" fill="#ec3a40"/><circle cx="215.9" cy="200.62" r="3" fill="#ec3a40"/><circle cx="216.75" cy="203.5" r="3" fill="#ec3a40"/><circle cx="217.61" cy="205.02" r="3" fill="#ec3a40"/><circle cx="218.46" cy="206.09" r="3" fill="#ec3a40"/><circle cx="219.32" cy="206.98" r="3" fill="#ec3a40"/><circle cx="220.17" cy="207.88" r="3" fill="#ec3a40"/><circle cx="221.03" cy="208.69" r="3" fill="#ec3a40"/><circle cx="221.88" cy="209.37" r="3" fill="#ec3a40"/><circle cx="222.74" cy="209.89" r="3" fill="#ec3a40"/><circle cx="223.59" cy="210.29" r="3" fill="#ec3a40"/><circle cx="224.45" cy="210.63" r="3" fill="#ec3a40"/><circle cx="225.3" cy="210.93" r="3" fill="#ec3a40"/><circle cx="226.16" cy="211.19" r="3" fill="#ec3a40"/><circle cx="227.01" cy="211.42" r="3" fill="#ec3a40"/><circle cx="227.87" cy="211.64" r="3" fill="#ec3a40"/><circle cx="228.72" cy="211.85" r="3" fill="#ec3a40"/><circle cx="229.58" cy="212.06" r="3" fill="#ec3a40"/><circle cx="230.43" cy="212.25" r="3" fill="#ec3a40"/><circle cx="231.29" cy="212.42" r="3" fill="#ec3a40"/><circle cx="232.14" cy="212.58" r="3" fill="#ec3a40"/><circle cx="233" cy="212.72" r="3" fill="#ec3a40"/><circle cx="233.85" cy="212.84" r="3" fill="#ec3a40"/><circle cx="234.71" cy="212.94" r="3" fill="#ec3a40"/><circle cx="235.56" cy="213.02" r="3" fill="#ec3a40"/><circle cx="236.42" cy="213.09" r="3" fill="#ec3a40"/><circle cx="237.27" cy="213.15" r="3" fill="#ec3a40"/><circle cx="238.13" cy="213.2" r="3" fill="#ec3a40"/><circle cx="238.98" cy="213.25" r="3" fill="#ec3a40"/><circle cx="239.84" cy="213.3" r="3" fill="#ec3a40"/><circle cx="240.69" cy="213.34" r="3" fill="#ec3a40"/><circle cx="241.55" cy="213.38" r="3" fill="#ec3a40"/><circle cx="242.4" cy="213.42" r="3" fill="#ec3a40"/><circle cx="243.26" cy="213.46" r="3" fill="#ec3a40"/><circle cx="244.11" cy="213.5" r="3" fill="#ec3a40"/><circle cx="244.97" cy="213.54" r="3" fill="#ec3a40"/><circle cx="245.82" cy="213.59" r="3" fill="#ec3a40"/><circle cx="246.68" cy="213.64" r="3" fill="#ec3a40"/><circle cx="247.53" cy="213.69" r="3" fill="#ec3a40"/><circle cx="248.39" cy="213.75" r="3" fill="#ec3a40"/><circle cx="249.24" cy="213.82" r="3" fill="#ec3a40"/><circle cx="250.1" cy="213.89" r="3" fill="#ec3a40"/><circle cx="250.95" cy="213.96" r="3" fill="#ec3a40"/><circle cx="251.81" cy="214.03" r="3" fill="#ec3a40"/><circle cx="252.66" cy="214.11" r="3" fill="#ec3a40"/><circle cx="253.52" cy="214.18" r="3" fill="#ec3a40"/><circle cx="254.37" cy="214.26" r="3" fill="#ec3a40"/><circle cx="255.23" cy="214.35" r="3" fill="#ec3a40"/><circle cx="256.08" cy="214.43" r="3" fill="#ec3a40"/><circle cx="256.94" cy="214.52" r="3" fill="#ec3a40"/><circle cx="257.79" cy="214.61" r="3" fill="#ec3a40"/><circle cx="258.65" cy="214.7" r="3" fill="#ec3a40"/><circle cx="259.5" cy="214.8" r="3" fill="#ec3a40"/><circle cx="260.36" cy="214.89" r="3" fill="#ec3a40"/><circle cx="261.21" cy="214.99" r="3" fill="#ec3a40"/><circle cx="262.07" cy="215.09" r="3" fill="#ec3a40"/><circle cx="262.92" cy="215.19" r="3" fill="#ec3a40"/><circle cx="263.78" cy="215.3" r="3" fill="#ec3a40"/><circle cx="264.63" cy="215.41" r="3" fill="#ec3a40"/><circle cx="265.49" cy="215.51" r="3" fill="#ec3a40"/><circle cx="266.34" cy="215.63" r="3" fill="#ec3a40"/><circle cx="267.2" cy="215.74" r="3" fill="#ec3a40"/><circle cx="268.05" cy="215.85" r="3" fill="#ec3a40"/><circle cx="268.91" cy="215.97" r="3" fill="#ec3a40"/><circle cx="269.76" cy="216.09" r="3" fill="#ec3a40"/>
<path d="M112.58 213.02 L113.43 213.17 L114.29 213.3 L115.15 213.35 L116 213.35 L116.86 213.34 L117.71 213.33 L118.57 213.32 L119.42 213.31 L120.28 213.29 L121.13 213.27 L121.99 213.25 L122.84 213.22 L123.7 213.19 L124.55 213.16 L125.41 213.13 L126.26 213.1 L127.12 213.07 L127.97 213.03 L128.83 212.99 L129.68 212.95 L130.54 212.91 L131.39 212.87 L132.25 212.83 L133.1 212.79 L133.96 212.75 L134.81 212.71 L135.67 212.66 L136.52 212.62 L137.38 212.58 L138.23 212.54 L139.09 212.49 L139.94 212.45 L140.8 212.41 L141.65 212.37 L142.51 212.33 L143.36 212.3 L144.22 212.26 L145.07 212.22 L145.93 212.18 L146.78 212.14 L147.64 212.09 L148.49 212.05 L149.35 212 L150.2 211.94 L151.06 211.89 L151.91 211.82 L152.77 211.75 L153.62 211.67 L154.48 211.58 L155.33 211.47 L156.19 211.35 L157.04 211.22 L157.9 211.08 L158.75 210.93 L159.61 210.77 L160.46 210.61 L161.32 210.42 L162.17 210.21 L163.03 209.98 L163.88 209.72 L164.74 209.43 L165.59 209.12 L166.45 208.8 L167.3 208.49 L168.16 208.09 L169.01 207.55 L169.87 206.68 L170.72 204.49 L171.58 201.42 L172.43 196.91 L173.29 189.85 L174.14 178.04 L175 161.94 L175.85 146.49 L176.71 127.61 L177.56 112.25 L178.42 99.57 L179.27 89.29 L180.13 80.72 L180.98 73.04 L181.84 65.44 L182.69 57.94 L183.55 51.44 L184.4 46.7 L185.26 42.78 L186.11 39.35 L186.97 36.32 L187.82 33.61 L188.68 31.14 L189.53 28.8 L190.39 26.52 L191.24 24.49 L192.1 22.92 L192.95 21.96 L193.81 21.2 L194.66 20.69 L195.52 20.61 L196.37 20.99 L197.23 21.69 L198.08 22.55 L198.94 24.01 L199.79 26.06 L200.65 28.42 L201.5 30.77 L202.36 32.86 L203.21 34.92 L204.07 37.29 L204.92 40.29 L205.78 44.27 L206.63 49.82 L207.49 65.72 L208.34 77.02 L209.2 85.06 L210.05 94.89 L210.91 113.06 L211.76 136.78 L212.62 155.55 L213.47 172.27 L214.33 184.02 L215.18 192.43 L216.04 198.99 L216.89 202.85 L217.75 204.61 L218.6 205.85 L219.46 206.74 L220.31 207.47 L221.17 208.05 L222.03 208.54 L222.88 208.96 L223.74 209.35 L224.59 209.7 L225.45 210.02 L226.3 210.31 L227.16 210.56 L228.01 210.78 L228.87 211 L229.72 211.2 L230.58 211.4 L231.43 211.58 L232.29 211.74 L233.14 211.89 L234 212.02 L234.85 212.12 L235.71 212.21 L236.56 212.28 L237.42 212.35 L238.27 212.41 L239.13 212.47 L239.98 212.52 L240.84 212.57 L241.69 212.61 L242.55 212.65 L243.4 212.69 L244.26 212.73 L245.11 212.77 L245.97 212.81 L246.82 212.86 L247.68 212.9 L248.53 212.95 L249.39 213 L250.24 213.05 L251.1 213.09 L251.95 213.14 L252.81 213.19 L253.66 213.24 L254.52 213.29 L255.37 213.34 L256.23 213.39 L257.08 213.43 L257.94 213.48 L258.79 213.53 L259.65 213.58 L260.5 213.62 L261.36 213.67 L262.21 213.72 L263.07 213.77 L263.92 213.81 L264.78 213.86 L265.63 213.91 L266.49 213.95 L267.34 214 L268.2 214.05 L269.05 214.09" fill="none" stroke="#9cc0f0" stroke-width="0.8"/><path d="M112.58 209.42L116.18 215.42L108.98 215.42Z" fill="#1d68de"/><path d="M113.43 209.57L117.03 215.57L109.83 215.57Z" fill="#1d68de"/><path d="M114.29 209.7L117.89 215.7L110.69 215.7Z" fill="#1d68de"/><path d="M115.15 209.75L118.75 215.75L111.55 215.75Z" fill="#1d68de"/><path d="M116 209.75L119.6 215.75L112.4 215.75Z" fill="#1d68de"/><path d="M116.86 209.74L120.46 215.74L113.26 215.74Z" fill="#1d68de"/><path d="M117.71 209.73L121.31 215.73L114.11 215.73Z" fill="#1d68de"/><path d="M118.57 209.72L122.17 215.72L114.97 215.72Z" fill="#1d68de"/><path d="M119.42 209.71L123.02 215.71L115.82 215.71Z" fill="#1d68de"/><path d="M120.28 209.69L123.88 215.69L116.68 215.69Z" fill="#1d68de"/><path d="M121.13 209.67L124.73 215.67L117.53 215.67Z" fill="#1d68de"/><path d="M121.99 209.65L125.59 215.65L118.39 215.65Z" fill="#1d68de"/><path d="M122.84 209.62L126.44 215.62L119.24 215.62Z" fill="#1d68de"/><path d="M123.7 209.59L127.3 215.59L120.1 215.59Z" fill="#1d68de"/><path d="M124.55 209.56L128.15 215.56L120.95 215.56Z" fill="#1d68de"/><path d="M125.41 209.53L129.01 215.53L121.81 215.53Z" fill="#1d68de"/><path d="M126.26 209.5L129.86 215.5L122.66 215.5Z" fill="#1d68de"/><path d="M127.12 209.47L130.72 215.47L123.52 215.47Z" fill="#1d68de"/><path d="M127.97 209.43L131.57 215.43L124.37 215.43Z" fill="#1d68de"/><path d="M128.83 209.39L132.43 215.39L125.23 215.39Z" fill="#1d68de"/><path d="M129.68 209.35L133.28 215.35L126.08 215.35Z" fill="#1d68de"/><path d="M130.54 209.31L134.14 215.31L126.94 215.31Z" fill="#1d68de"/><path d="M131.39 209.27L134.99 215.27L127.79 215.27Z" fill="#1d68de"/><path d="M132.25 209.23L135.85 215.23L128.65 215.23Z" fill="#1d68de"/><path d="M133.1 209.19L136.7 215.19L129.5 215.19Z" fill="#1d68de"/><path d="M133.96 209.15L137.56 215.15L130.36 215.15Z" fill="#1d68de"/><path d="M134.81 209.11L138.41 215.11L131.21 215.11Z" fill="#1d68de"/><path d="M135.67 209.06L139.27 215.06L132.07 215.06Z" fill="#1d68de"/><path d="M136.52 209.02L140.12 215.02L132.92 215.02Z" fill="#1d68de"/><path d="M137.38 208.98L140.98 214.98L133.78 214.98Z" fill="#1d68de"/><path d="M138.23 208.94L141.83 214.94L134.63 214.94Z" fill="#1d68de"/><path d="M139.09 208.89L142.69 214.89L135.49 214.89Z" fill="#1d68de"/><path d="M139.94 208.85L143.54 214.85L136.34 214.85Z" fill="#1d68de"/><path d="M140.8 208.81L144.4 214.81L137.2 214.81Z" fill="#1d68de"/><path d="M141.65 208.77L145.25 214.77L138.05 214.77Z" fill="#1d68de"/><path d="M142.51 208.73L146.11 214.73L138.91 214.73Z" fill="#1d68de"/><path d="M143.36 208.7L146.96 214.7L139.76 214.7Z" fill="#1d68de"/><path d="M144.22 208.66L147.82 214.66L140.62 214.66Z" fill="#1d68de"/><path d="M145.07 208.62L148.67 214.62L141.47 214.62Z" fill="#1d68de"/><path d="M145.93 208.58L149.53 214.58L142.33 214.58Z" fill="#1d68de"/><path d="M146.78 208.54L150.38 214.54L143.18 214.54Z" fill="#1d68de"/><path d="M147.64 208.49L151.24 214.49L144.04 214.49Z" fill="#1d68de"/><path d="M148.49 208.45L152.09 214.45L144.89 214.45Z" fill="#1d68de"/><path d="M149.35 208.4L152.95 214.4L145.75 214.4Z" fill="#1d68de"/><path d="M150.2 208.34L153.8 214.34L146.6 214.34Z" fill="#1d68de"/><path d="M151.06 208.29L154.66 214.29L147.46 214.29Z" fill="#1d68de"/><path d="M151.91 208.22L155.51 214.22L148.31 214.22Z" fill="#1d68de"/><path d="M152.77 208.15L156.37 214.15L149.17 214.15Z" fill="#1d68de"/><path d="M153.62 208.07L157.22 214.07L150.02 214.07Z" fill="#1d68de"/><path d="M154.48 207.98L158.08 213.98L150.88 213.98Z" fill="#1d68de"/><path d="M155.33 207.87L158.93 213.87L151.73 213.87Z" fill="#1d68de"/><path d="M156.19 207.75L159.79 213.75L152.59 213.75Z" fill="#1d68de"/><path d="M157.04 207.62L160.64 213.62L153.44 213.62Z" fill="#1d68de"/><path d="M157.9 207.48L161.5 213.48L154.3 213.48Z" fill="#1d68de"/><path d="M158.75 207.33L162.35 213.33L155.15 213.33Z" fill="#1d68de"/><path d="M159.61 207.17L163.21 213.17L156.01 213.17Z" fill="#1d68de"/><path d="M160.46 207.01L164.06 213.01L156.86 213.01Z" fill="#1d68de"/><path d="M161.32 206.82L164.92 212.82L157.72 212.82Z" fill="#1d68de"/><path d="M162.17 206.61L165.77 212.61L158.57 212.61Z" fill="#1d68de"/><path d="M163.03 206.38L166.63 212.38L159.43 212.38Z" fill="#1d68de"/><path d="M163.88 206.12L167.48 212.12L160.28 212.12Z" fill="#1d68de"/><path d="M164.74 205.83L168.34 211.83L161.14 211.83Z" fill="#1d68de"/><path d="M165.59 205.52L169.19 211.52L161.99 211.52Z" fill="#1d68de"/><path d="M166.45 205.2L170.05 211.2L162.85 211.2Z" fill="#1d68de"/><path d="M167.3 204.89L170.9 210.89L163.7 210.89Z" fill="#1d68de"/><path d="M168.16 204.49L171.76 210.49L164.56 210.49Z" fill="#1d68de"/><path d="M169.01 203.95L172.61 209.95L165.41 209.95Z" fill="#1d68de"/><path d="M169.87 203.08L173.47 209.08L166.27 209.08Z" fill="#1d68de"/><path d="M170.72 200.89L174.32 206.89L167.12 206.89Z" fill="#1d68de"/><path d="M171.58 197.82L175.18 203.82L167.98 203.82Z" fill="#1d68de"/><path d="M172.43 193.31L176.03 199.31L168.83 199.31Z" fill="#1d68de"/><path d="M173.29 186.25L176.89 192.25L169.69 192.25Z" fill="#1d68de"/><path d="M174.14 174.44L177.74 180.44L170.54 180.44Z" fill="#1d68de"/><path d="M175 158.34L178.6 164.34L171.4 164.34Z" fill="#1d68de"/><path d="M175.85 142.89L179.45 148.89L172.25 148.89Z" fill="#1d68de"/><path d="M176.71 124.01L180.31 130.01L173.11 130.01Z" fill="#1d68de"/><path d="M177.56 108.65L181.16 114.65L173.96 114.65Z" fill="#1d68de"/><path d="M178.42 95.97L182.02 101.97L174.82 101.97Z" fill="#1d68de"/><path d="M179.27 85.69L182.87 91.69L175.67 91.69Z" fill="#1d68de"/><path d="M180.13 77.12L183.73 83.12L176.53 83.12Z" fill="#1d68de"/><path d="M180.98 69.44L184.58 75.44L177.38 75.44Z" fill="#1d68de"/><path d="M181.84 61.84L185.44 67.84L178.24 67.84Z" fill="#1d68de"/><path d="M182.69 54.34L186.29 60.34L179.09 60.34Z" fill="#1d68de"/><path d="M183.55 47.84L187.15 53.84L179.95 53.84Z" fill="#1d68de"/><path d="M184.4 43.1L188 49.1L180.8 49.1Z" fill="#1d68de"/><path d="M185.26 39.18L188.86 45.18L181.66 45.18Z" fill="#1d68de"/><path d="M186.11 35.75L189.71 41.75L182.51 41.75Z" fill="#1d68de"/><path d="M186.97 32.72L190.57 38.72L183.37 38.72Z" fill="#1d68de"/><path d="M187.82 30.01L191.42 36.01L184.22 36.01Z" fill="#1d68de"/><path d="M188.68 27.54L192.28 33.54L185.08 33.54Z" fill="#1d68de"/><path d="M189.53 25.2L193.13 31.2L185.93 31.2Z" fill="#1d68de"/><path d="M190.39 22.92L193.99 28.92L186.79 28.92Z" fill="#1d68de"/><path d="M191.24 20.89L194.84 26.89L187.64 26.89Z" fill="#1d68de"/><path d="M192.1 19.32L195.7 25.32L188.5 25.32Z" fill="#1d68de"/><path d="M192.95 18.36L196.55 24.36L189.35 24.36Z" fill="#1d68de"/><path d="M193.81 17.6L197.41 23.6L190.21 23.6Z" fill="#1d68de"/><path d="M194.66 17.09L198.26 23.09L191.06 23.09Z" fill="#1d68de"/><path d="M195.52 17.01L199.12 23.01L191.92 23.01Z" fill="#1d68de"/><path d="M196.37 17.39L199.97 23.39L192.77 23.39Z" fill="#1d68de"/><path d="M197.23 18.09L200.83 24.09L193.63 24.09Z" fill="#1d68de"/><path d="M198.08 18.95L201.68 24.95L194.48 24.95Z" fill="#1d68de"/><path d="M198.94 20.41L202.54 26.41L195.34 26.41Z" fill="#1d68de"/><path d="M199.79 22.46L203.39 28.46L196.19 28.46Z" fill="#1d68de"/><path d="M200.65 24.82L204.25 30.82L197.05 30.82Z" fill="#1d68de"/><path d="M201.5 27.17L205.1 33.17L197.9 33.17Z" fill="#1d68de"/><path d="M202.36 29.26L205.96 35.26L198.76 35.26Z" fill="#1d68de"/><path d="M203.21 31.32L206.81 37.32L199.61 37.32Z" fill="#1d68de"/><path d="M204.07 33.69L207.67 39.69L200.47 39.69Z" fill="#1d68de"/><path d="M204.92 36.69L208.52 42.69L201.32 42.69Z" fill="#1d68de"/><path d="M205.78 40.67L209.38 46.67L202.18 46.67Z" fill="#1d68de"/><path d="M206.63 46.22L210.23 52.22L203.03 52.22Z" fill="#1d68de"/><path d="M207.49 62.12L211.09 68.12L203.89 68.12Z" fill="#1d68de"/><path d="M208.34 73.42L211.94 79.42L204.74 79.42Z" fill="#1d68de"/><path d="M209.2 81.46L212.8 87.46L205.6 87.46Z" fill="#1d68de"/><path d="M210.05 91.29L213.65 97.29L206.45 97.29Z" fill="#1d68de"/><path d="M210.91 109.46L214.51 115.46L207.31 115.46Z" fill="#1d68de"/><path d="M211.76 133.18L215.36 139.18L208.16 139.18Z" fill="#1d68de"/><path d="M212.62 151.95L216.22 157.95L209.02 157.95Z" fill="#1d68de"/><path d="M213.47 168.67L217.07 174.67L209.87 174.67Z" fill="#1d68de"/><path d="M214.33 180.42L217.93 186.42L210.73 186.42Z" fill="#1d68de"/><path d="M215.18 188.83L218.78 194.83L211.58 194.83Z" fill="#1d68de"/><path d="M216.04 195.39L219.64 201.39L212.44 201.39Z" fill="#1d68de"/><path d="M216.89 199.25L220.49 205.25L213.29 205.25Z" fill="#1d68de"/><path d="M217.75 201.01L221.35 207.01L214.15 207.01Z" fill="#1d68de"/><path d="M218.6 202.25L222.2 208.25L215 208.25Z" fill="#1d68de"/><path d="M219.46 203.14L223.06 209.14L215.86 209.14Z" fill="#1d68de"/><path d="M220.31 203.87L223.91 209.87L216.71 209.87Z" fill="#1d68de"/><path d="M221.17 204.45L224.77 210.45L217.57 210.45Z" fill="#1d68de"/><path d="M222.03 204.94L225.63 210.94L218.43 210.94Z" fill="#1d68de"/><path d="M222.88 205.36L226.48 211.36L219.28 211.36Z" fill="#1d68de"/><path d="M223.74 205.75L227.34 211.75L220.14 211.75Z" fill="#1d68de"/><path d="M224.59 206.1L228.19 212.1L220.99 212.1Z" fill="#1d68de"/><path d="M225.45 206.42L229.05 212.42L221.85 212.42Z" fill="#1d68de"/><path d="M226.3 206.71L229.9 212.71L222.7 212.71Z" fill="#1d68de"/><path d="M227.16 206.96L230.76 212.96L223.56 212.96Z" fill="#1d68de"/><path d="M228.01 207.18L231.61 213.18L224.41 213.18Z" fill="#1d68de"/><path d="M228.87 207.4L232.47 213.4L225.27 213.4Z" fill="#1d68de"/><path d="M229.72 207.6L233.32 213.6L226.12 213.6Z" fill="#1d68de"/><path d="M230.58 207.8L234.18 213.8L226.98 213.8Z" fill="#1d68de"/><path d="M231.43 207.98L235.03 213.98L227.83 213.98Z" fill="#1d68de"/><path d="M232.29 208.14L235.89 214.14L228.69 214.14Z" fill="#1d68de"/><path d="M233.14 208.29L236.74 214.29L229.54 214.29Z" fill="#1d68de"/><path d="M234 208.42L237.6 214.42L230.4 214.42Z" fill="#1d68de"/><path d="M234.85 208.52L238.45 214.52L231.25 214.52Z" fill="#1d68de"/><path d="M235.71 208.61L239.31 214.61L232.11 214.61Z" fill="#1d68de"/><path d="M236.56 208.68L240.16 214.68L232.96 214.68Z" fill="#1d68de"/><path d="M237.42 208.75L241.02 214.75L233.82 214.75Z" fill="#1d68de"/><path d="M238.27 208.81L241.87 214.81L234.67 214.81Z" fill="#1d68de"/><path d="M239.13 208.87L242.73 214.87L235.53 214.87Z" fill="#1d68de"/><path d="M239.98 208.92L243.58 214.92L236.38 214.92Z" fill="#1d68de"/><path d="M240.84 208.97L244.44 214.97L237.24 214.97Z" fill="#1d68de"/><path d="M241.69 209.01L245.29 215.01L238.09 215.01Z" fill="#1d68de"/><path d="M242.55 209.05L246.15 215.05L238.95 215.05Z" fill="#1d68de"/><path d="M243.4 209.09L247 215.09L239.8 215.09Z" fill="#1d68de"/><path d="M244.26 209.13L247.86 215.13L240.66 215.13Z" fill="#1d68de"/><path d="M245.11 209.17L248.71 215.17L241.51 215.17Z" fill="#1d68de"/><path d="M245.97 209.21L249.57 215.21L242.37 215.21Z" fill="#1d68de"/><path d="M246.82 209.26L250.42 215.26L243.22 215.26Z" fill="#1d68de"/><path d="M247.68 209.3L251.28 215.3L244.08 215.3Z" fill="#1d68de"/><path d="M248.53 209.35L252.13 215.35L244.93 215.35Z" fill="#1d68de"/><path d="M249.39 209.4L252.99 215.4L245.79 215.4Z" fill="#1d68de"/><path d="M250.24 209.45L253.84 215.45L246.64 215.45Z" fill="#1d68de"/><path d="M251.1 209.49L254.7 215.49L247.5 215.49Z" fill="#1d68de"/><path d="M251.95 209.54L255.55 215.54L248.35 215.54Z" fill="#1d68de"/><path d="M252.81 209.59L256.41 215.59L249.21 215.59Z" fill="#1d68de"/><path d="M253.66 209.64L257.26 215.64L250.06 215.64Z" fill="#1d68de"/><path d="M254.52 209.69L258.12 215.69L250.92 215.69Z" fill="#1d68de"/><path d="M255.37 209.74L258.97 215.74L251.77 215.74Z" fill="#1d68de"/><path d="M256.23 209.79L259.83 215.79L252.63 215.79Z" fill="#1d68de"/><path d="M257.08 209.83L260.68 215.83L253.48 215.83Z" fill="#1d68de"/><path d="M257.94 209.88L261.54 215.88L254.34 215.88Z" fill="#1d68de"/><path d="M258.79 209.93L262.39 215.93L255.19 215.93Z" fill="#1d68de"/><path d="M259.65 209.98L263.25 215.98L256.05 215.98Z" fill="#1d68de"/><path d="M260.5 210.02L264.1 216.02L256.9 216.02Z" fill="#1d68de"/><path d="M261.36 210.07L264.96 216.07L257.76 216.07Z" fill="#1d68de"/><path d="M262.21 210.12L265.81 216.12L258.61 216.12Z" fill="#1d68de"/><path d="M263.07 210.17L266.67 216.17L259.47 216.17Z" fill="#1d68de"/><path d="M263.92 210.21L267.52 216.21L260.32 216.21Z" fill="#1d68de"/><path d="M264.78 210.26L268.38 216.26L261.18 216.26Z" fill="#1d68de"/><path d="M265.63 210.31L269.23 216.31L262.03 216.31Z" fill="#1d68de"/><path d="M266.49 210.35L270.09 216.35L262.89 216.35Z" fill="#1d68de"/><path d="M267.34 210.4L270.94 216.4L263.74 216.4Z" fill="#1d68de"/><path d="M268.2 210.45L271.8 216.45L264.6 216.45Z" fill="#1d68de"/><path d="M269.05 210.49L272.65 216.49L265.45 216.49Z" fill="#1d68de"/>
<path d="M100.97 212.68 L101.82 214.72 L102.68 214.72 L103.53 214.72 L104.39 214.71 L105.24 214.7 L106.1 214.69 L106.95 214.68 L107.81 214.67 L108.66 214.65 L109.52 214.64 L110.37 214.62 L111.23 214.6 L112.08 214.59 L112.94 214.57 L113.79 214.55 L114.65 214.53 L115.5 214.51 L116.36 214.5 L117.21 214.48 L118.07 214.45 L118.92 214.43 L119.78 214.41 L120.63 214.38 L121.49 214.36 L122.34 214.33 L123.2 214.3 L124.05 214.27 L124.91 214.24 L125.76 214.21 L126.62 214.18 L127.47 214.15 L128.33 214.12 L129.18 214.08 L130.04 214.05 L130.89 214.01 L131.75 213.98 L132.6 213.94 L133.46 213.91 L134.31 213.87 L135.17 213.83 L136.02 213.8 L136.88 213.76 L137.73 213.72 L138.59 213.68 L139.44 213.64 L140.3 213.6 L141.15 213.56 L142.01 213.53 L142.86 213.49 L143.72 213.45 L144.57 213.41 L145.43 213.37 L146.28 213.33 L147.14 213.29 L147.99 213.24 L148.85 213.19 L149.7 213.14 L150.56 213.08 L151.41 213.02 L152.27 212.96 L153.12 212.88 L153.98 212.79 L154.83 212.69 L155.69 212.57 L156.54 212.44 L157.4 212.31 L158.25 212.16 L159.11 212.01 L159.96 211.84 L160.82 211.67 L161.67 211.48 L162.53 211.27 L163.38 211.03 L164.24 210.76 L165.09 210.43 L165.95 210.05 L166.8 209.56 L167.66 208.93 L168.51 208.1 L169.37 207.06 L170.22 205.27 L171.08 202.55 L171.93 198.61 L172.79 192.73 L173.64 182.69 L174.5 166.84 L175.35 153.84 L176.21 133.36 L177.06 117.06 L177.92 103.51 L178.77 92.49 L179.63 83.44 L180.48 75.55 L181.34 68 L182.19 60.38 L183.05 53.44 L183.9 48.13 L184.76 44.02 L185.61 40.44 L186.47 37.29 L187.32 34.48 L188.18 31.94 L189.03 29.58 L189.89 27.26 L190.74 25.12 L191.6 23.38 L192.45 22.24 L193.31 21.44 L194.16 20.82 L195.02 20.58 L195.88 20.82 L196.73 21.43 L197.59 22.24 L198.44 23.44 L199.3 25.33 L200.15 27.62 L201.01 30.01 L201.86 32.19 L202.72 34.22 L203.57 36.45 L204.43 39.2 L205.28 42.81 L206.14 47.62 L206.99 59.89 L207.85 73.94 L208.7 82.41 L209.56 91.13 L210.41 105.68 L211.27 129.17 L212.12 149.47 L212.98 167.08 L213.83 180.84 L214.69 189.79 L215.54 197.06 L216.4 201.91 L217.25 204.09 L218.11 205.49 L218.96 206.47 L219.82 207.24 L220.67 207.87 L221.53 208.39 L222.38 208.82 L223.24 209.22 L224.09 209.59 L224.95 209.92 L225.8 210.22 L226.66 210.48 L227.51 210.71 L228.37 210.93 L229.22 211.14 L230.08 211.34 L230.93 211.52 L231.79 211.69 L232.64 211.84 L233.5 211.98 L234.35 212.09 L235.21 212.18 L236.06 212.26 L236.92 212.33 L237.77 212.4 L238.63 212.46 L239.48 212.52 L240.34 212.57 L241.19 212.63 L242.05 212.67 L242.9 212.72 L243.76 212.76 L244.61 212.8 L245.47 212.84 L246.32 212.87 L247.18 212.91 L248.03 212.94 L248.89 212.97 L249.74 213 L250.6 213.04 L251.45 213.07 L252.31 213.1 L253.16 213.13 L254.02 213.16 L254.87 213.19 L255.73 213.22 L256.58 213.24 L257.44 213.27 L258.29 213.3 L259.15 213.32 L260 213.35 L260.86 213.37 L261.71 213.39 L262.57 213.42 L263.42 213.44 L264.28 213.45 L265.13 213.47 L265.99 213.49 L266.84 213.5 L267.7 213.51 L268.55 213.52 L269.41 213.53 L270.26 213.54" fill="none" stroke="#a8dcb8" stroke-width="0.8"/><path d="M100.97 216.28L104.57 210.28L97.37 210.28Z" fill="#2f9e5e"/><path d="M101.82 218.32L105.42 212.32L98.22 212.32Z" fill="#2f9e5e"/><path d="M102.68 218.32L106.28 212.32L99.08 212.32Z" fill="#2f9e5e"/><path d="M103.53 218.32L107.13 212.32L99.93 212.32Z" fill="#2f9e5e"/><path d="M104.39 218.31L107.99 212.31L100.79 212.31Z" fill="#2f9e5e"/><path d="M105.24 218.3L108.84 212.3L101.64 212.3Z" fill="#2f9e5e"/><path d="M106.1 218.29L109.7 212.29L102.5 212.29Z" fill="#2f9e5e"/><path d="M106.95 218.28L110.55 212.28L103.35 212.28Z" fill="#2f9e5e"/><path d="M107.81 218.27L111.41 212.27L104.21 212.27Z" fill="#2f9e5e"/><path d="M108.66 218.25L112.26 212.25L105.06 212.25Z" fill="#2f9e5e"/><path d="M109.52 218.24L113.12 212.24L105.92 212.24Z" fill="#2f9e5e"/><path d="M110.37 218.22L113.97 212.22L106.77 212.22Z" fill="#2f9e5e"/><path d="M111.23 218.2L114.83 212.2L107.63 212.2Z" fill="#2f9e5e"/><path d="M112.08 218.19L115.68 212.19L108.48 212.19Z" fill="#2f9e5e"/><path d="M112.94 218.17L116.54 212.17L109.34 212.17Z" fill="#2f9e5e"/><path d="M113.79 218.15L117.39 212.15L110.19 212.15Z" fill="#2f9e5e"/><path d="M114.65 218.13L118.25 212.13L111.05 212.13Z" fill="#2f9e5e"/><path d="M115.5 218.11L119.1 212.11L111.9 212.11Z" fill="#2f9e5e"/><path d="M116.36 218.1L119.96 212.1L112.76 212.1Z" fill="#2f9e5e"/><path d="M117.21 218.08L120.81 212.08L113.61 212.08Z" fill="#2f9e5e"/><path d="M118.07 218.05L121.67 212.05L114.47 212.05Z" fill="#2f9e5e"/><path d="M118.92 218.03L122.52 212.03L115.32 212.03Z" fill="#2f9e5e"/><path d="M119.78 218.01L123.38 212.01L116.18 212.01Z" fill="#2f9e5e"/><path d="M120.63 217.98L124.23 211.98L117.03 211.98Z" fill="#2f9e5e"/><path d="M121.49 217.96L125.09 211.96L117.89 211.96Z" fill="#2f9e5e"/><path d="M122.34 217.93L125.94 211.93L118.74 211.93Z" fill="#2f9e5e"/><path d="M123.2 217.9L126.8 211.9L119.6 211.9Z" fill="#2f9e5e"/><path d="M124.05 217.87L127.65 211.87L120.45 211.87Z" fill="#2f9e5e"/><path d="M124.91 217.84L128.51 211.84L121.31 211.84Z" fill="#2f9e5e"/><path d="M125.76 217.81L129.36 211.81L122.16 211.81Z" fill="#2f9e5e"/><path d="M126.62 217.78L130.22 211.78L123.02 211.78Z" fill="#2f9e5e"/><path d="M127.47 217.75L131.07 211.75L123.87 211.75Z" fill="#2f9e5e"/><path d="M128.33 217.72L131.93 211.72L124.73 211.72Z" fill="#2f9e5e"/><path d="M129.18 217.68L132.78 211.68L125.58 211.68Z" fill="#2f9e5e"/><path d="M130.04 217.65L133.64 211.65L126.44 211.65Z" fill="#2f9e5e"/><path d="M130.89 217.61L134.49 211.61L127.29 211.61Z" fill="#2f9e5e"/><path d="M131.75 217.58L135.35 211.58L128.15 211.58Z" fill="#2f9e5e"/><path d="M132.6 217.54L136.2 211.54L129 211.54Z" fill="#2f9e5e"/><path d="M133.46 217.51L137.06 211.51L129.86 211.51Z" fill="#2f9e5e"/><path d="M134.31 217.47L137.91 211.47L130.71 211.47Z" fill="#2f9e5e"/><path d="M135.17 217.43L138.77 211.43L131.57 211.43Z" fill="#2f9e5e"/><path d="M136.02 217.4L139.62 211.4L132.42 211.4Z" fill="#2f9e5e"/><path d="M136.88 217.36L140.48 211.36L133.28 211.36Z" fill="#2f9e5e"/><path d="M137.73 217.32L141.33 211.32L134.13 211.32Z" fill="#2f9e5e"/><path d="M138.59 217.28L142.19 211.28L134.99 211.28Z" fill="#2f9e5e"/><path d="M139.44 217.24L143.04 211.24L135.84 211.24Z" fill="#2f9e5e"/><path d="M140.3 217.2L143.9 211.2L136.7 211.2Z" fill="#2f9e5e"/><path d="M141.15 217.16L144.75 211.16L137.55 211.16Z" fill="#2f9e5e"/><path d="M142.01 217.13L145.61 211.13L138.41 211.13Z" fill="#2f9e5e"/><path d="M142.86 217.09L146.46 211.09L139.26 211.09Z" fill="#2f9e5e"/><path d="M143.72 217.05L147.32 211.05L140.12 211.05Z" fill="#2f9e5e"/><path d="M144.57 217.01L148.17 211.01L140.97 211.01Z" fill="#2f9e5e"/><path d="M145.43 216.97L149.03 210.97L141.83 210.97Z" fill="#2f9e5e"/><path d="M146.28 216.93L149.88 210.93L142.68 210.93Z" fill="#2f9e5e"/><path d="M147.14 216.89L150.74 210.89L143.54 210.89Z" fill="#2f9e5e"/><path d="M147.99 216.84L151.59 210.84L144.39 210.84Z" fill="#2f9e5e"/><path d="M148.85 216.79L152.45 210.79L145.25 210.79Z" fill="#2f9e5e"/><path d="M149.7 216.74L153.3 210.74L146.1 210.74Z" fill="#2f9e5e"/><path d="M150.56 216.68L154.16 210.68L146.96 210.68Z" fill="#2f9e5e"/><path d="M151.41 216.62L155.01 210.62L147.81 210.62Z" fill="#2f9e5e"/><path d="M152.27 216.56L155.87 210.56L148.67 210.56Z" fill="#2f9e5e"/><path d="M153.12 216.48L156.72 210.48L149.52 210.48Z" fill="#2f9e5e"/><path d="M153.98 216.39L157.58 210.39L150.38 210.39Z" fill="#2f9e5e"/><path d="M154.83 216.29L158.43 210.29L151.23 210.29Z" fill="#2f9e5e"/><path d="M155.69 216.17L159.29 210.17L152.09 210.17Z" fill="#2f9e5e"/><path d="M156.54 216.04L160.14 210.04L152.94 210.04Z" fill="#2f9e5e"/><path d="M157.4 215.91L161 209.91L153.8 209.91Z" fill="#2f9e5e"/><path d="M158.25 215.76L161.85 209.76L154.65 209.76Z" fill="#2f9e5e"/><path d="M159.11 215.61L162.71 209.61L155.51 209.61Z" fill="#2f9e5e"/><path d="M159.96 215.44L163.56 209.44L156.36 209.44Z" fill="#2f9e5e"/><path d="M160.82 215.27L164.42 209.27L157.22 209.27Z" fill="#2f9e5e"/><path d="M161.67 215.08L165.27 209.08L158.07 209.08Z" fill="#2f9e5e"/><path d="M162.53 214.87L166.13 208.87L158.93 208.87Z" fill="#2f9e5e"/><path d="M163.38 214.63L166.98 208.63L159.78 208.63Z" fill="#2f9e5e"/><path d="M164.24 214.36L167.84 208.36L160.64 208.36Z" fill="#2f9e5e"/><path d="M165.09 214.03L168.69 208.03L161.49 208.03Z" fill="#2f9e5e"/><path d="M165.95 213.65L169.55 207.65L162.35 207.65Z" fill="#2f9e5e"/><path d="M166.8 213.16L170.4 207.16L163.2 207.16Z" fill="#2f9e5e"/><path d="M167.66 212.53L171.26 206.53L164.06 206.53Z" fill="#2f9e5e"/><path d="M168.51 211.7L172.11 205.7L164.91 205.7Z" fill="#2f9e5e"/><path d="M169.37 210.66L172.97 204.66L165.77 204.66Z" fill="#2f9e5e"/><path d="M170.22 208.87L173.82 202.87L166.62 202.87Z" fill="#2f9e5e"/><path d="M171.08 206.15L174.68 200.15L167.48 200.15Z" fill="#2f9e5e"/><path d="M171.93 202.21L175.53 196.21L168.33 196.21Z" fill="#2f9e5e"/><path d="M172.79 196.33L176.39 190.33L169.19 190.33Z" fill="#2f9e5e"/><path d="M173.64 186.29L177.24 180.29L170.04 180.29Z" fill="#2f9e5e"/><path d="M174.5 170.44L178.1 164.44L170.9 164.44Z" fill="#2f9e5e"/><path d="M175.35 157.44L178.95 151.44L171.75 151.44Z" fill="#2f9e5e"/><path d="M176.21 136.96L179.81 130.96L172.61 130.96Z" fill="#2f9e5e"/><path d="M177.06 120.66L180.66 114.66L173.46 114.66Z" fill="#2f9e5e"/><path d="M177.92 107.11L181.52 101.11L174.32 101.11Z" fill="#2f9e5e"/><path d="M178.77 96.09L182.37 90.09L175.17 90.09Z" fill="#2f9e5e"/><path d="M179.63 87.04L183.23 81.04L176.03 81.04Z" fill="#2f9e5e"/><path d="M180.48 79.15L184.08 73.15L176.88 73.15Z" fill="#2f9e5e"/><path d="M181.34 71.6L184.94 65.6L177.74 65.6Z" fill="#2f9e5e"/><path d="M182.19 63.98L185.79 57.98L178.59 57.98Z" fill="#2f9e5e"/><path d="M183.05 57.04L186.65 51.04L179.45 51.04Z" fill="#2f9e5e"/><path d="M183.9 51.73L187.5 45.73L180.3 45.73Z" fill="#2f9e5e"/><path d="M184.76 47.62L188.36 41.62L181.16 41.62Z" fill="#2f9e5e"/><path d="M185.61 44.04L189.21 38.04L182.01 38.04Z" fill="#2f9e5e"/><path d="M186.47 40.89L190.07 34.89L182.87 34.89Z" fill="#2f9e5e"/><path d="M187.32 38.08L190.92 32.08L183.72 32.08Z" fill="#2f9e5e"/><path d="M188.18 35.54L191.78 29.54L184.58 29.54Z" fill="#2f9e5e"/><path d="M189.03 33.18L192.63 27.18L185.43 27.18Z" fill="#2f9e5e"/><path d="M189.89 30.86L193.49 24.86L186.29 24.86Z" fill="#2f9e5e"/><path d="M190.74 28.72L194.34 22.72L187.14 22.72Z" fill="#2f9e5e"/><path d="M191.6 26.98L195.2 20.98L188 20.98Z" fill="#2f9e5e"/><path d="M192.45 25.84L196.05 19.84L188.85 19.84Z" fill="#2f9e5e"/><path d="M193.31 25.04L196.91 19.04L189.71 19.04Z" fill="#2f9e5e"/><path d="M194.16 24.42L197.76 18.42L190.56 18.42Z" fill="#2f9e5e"/><path d="M195.02 24.18L198.62 18.18L191.42 18.18Z" fill="#2f9e5e"/><path d="M195.88 24.42L199.48 18.42L192.28 18.42Z" fill="#2f9e5e"/><path d="M196.73 25.03L200.33 19.03L193.13 19.03Z" fill="#2f9e5e"/><path d="M197.59 25.84L201.19 19.84L193.99 19.84Z" fill="#2f9e5e"/><path d="M198.44 27.04L202.04 21.04L194.84 21.04Z" fill="#2f9e5e"/><path d="M199.3 28.93L202.9 22.93L195.7 22.93Z" fill="#2f9e5e"/><path d="M200.15 31.22L203.75 25.22L196.55 25.22Z" fill="#2f9e5e"/><path d="M201.01 33.61L204.61 27.61L197.41 27.61Z" fill="#2f9e5e"/><path d="M201.86 35.79L205.46 29.79L198.26 29.79Z" fill="#2f9e5e"/><path d="M202.72 37.82L206.32 31.82L199.12 31.82Z" fill="#2f9e5e"/><path d="M203.57 40.05L207.17 34.05L199.97 34.05Z" fill="#2f9e5e"/><path d="M204.43 42.8L208.03 36.8L200.83 36.8Z" fill="#2f9e5e"/><path d="M205.28 46.41L208.88 40.41L201.68 40.41Z" fill="#2f9e5e"/><path d="M206.14 51.22L209.74 45.22L202.54 45.22Z" fill="#2f9e5e"/><path d="M206.99 63.49L210.59 57.49L203.39 57.49Z" fill="#2f9e5e"/><path d="M207.85 77.54L211.45 71.54L204.25 71.54Z" fill="#2f9e5e"/><path d="M208.7 86.01L212.3 80.01L205.1 80.01Z" fill="#2f9e5e"/><path d="M209.56 94.73L213.16 88.73L205.96 88.73Z" fill="#2f9e5e"/><path d="M210.41 109.28L214.01 103.28L206.81 103.28Z" fill="#2f9e5e"/><path d="M211.27 132.77L214.87 126.77L207.67 126.77Z" fill="#2f9e5e"/><path d="M212.12 153.07L215.72 147.07L208.52 147.07Z" fill="#2f9e5e"/><path d="M212.98 170.68L216.58 164.68L209.38 164.68Z" fill="#2f9e5e"/><path d="M213.83 184.44L217.43 178.44L210.23 178.44Z" fill="#2f9e5e"/><path d="M214.69 193.39L218.29 187.39L211.09 187.39Z" fill="#2f9e5e"/><path d="M215.54 200.66L219.14 194.66L211.94 194.66Z" fill="#2f9e5e"/><path d="M216.4 205.51L220 199.51L212.8 199.51Z" fill="#2f9e5e"/><path d="M217.25 207.69L220.85 201.69L213.65 201.69Z" fill="#2f9e5e"/><path d="M218.11 209.09L221.71 203.09L214.51 203.09Z" fill="#2f9e5e"/><path d="M218.96 210.07L222.56 204.07L215.36 204.07Z" fill="#2f9e5e"/><path d="M219.82 210.84L223.42 204.84L216.22 204.84Z" fill="#2f9e5e"/><path d="M220.67 211.47L224.27 205.47L217.07 205.47Z" fill="#2f9e5e"/><path d="M221.53 211.99L225.13 205.99L217.93 205.99Z" fill="#2f9e5e"/><path d="M222.38 212.42L225.98 206.42L218.78 206.42Z" fill="#2f9e5e"/><path d="M223.24 212.82L226.84 206.82L219.64 206.82Z" fill="#2f9e5e"/><path d="M224.09 213.19L227.69 207.19L220.49 207.19Z" fill="#2f9e5e"/><path d="M224.95 213.52L228.55 207.52L221.35 207.52Z" fill="#2f9e5e"/><path d="M225.8 213.82L229.4 207.82L222.2 207.82Z" fill="#2f9e5e"/><path d="M226.66 214.08L230.26 208.08L223.06 208.08Z" fill="#2f9e5e"/><path d="M227.51 214.31L231.11 208.31L223.91 208.31Z" fill="#2f9e5e"/><path d="M228.37 214.53L231.97 208.53L224.77 208.53Z" fill="#2f9e5e"/><path d="M229.22 214.74L232.82 208.74L225.62 208.74Z" fill="#2f9e5e"/><path d="M230.08 214.94L233.68 208.94L226.48 208.94Z" fill="#2f9e5e"/><path d="M230.93 215.12L234.53 209.12L227.33 209.12Z" fill="#2f9e5e"/><path d="M231.79 215.29L235.39 209.29L228.19 209.29Z" fill="#2f9e5e"/><path d="M232.64 215.44L236.24 209.44L229.04 209.44Z" fill="#2f9e5e"/><path d="M233.5 215.58L237.1 209.58L229.9 209.58Z" fill="#2f9e5e"/><path d="M234.35 215.69L237.95 209.69L230.75 209.69Z" fill="#2f9e5e"/><path d="M235.21 215.78L238.81 209.78L231.61 209.78Z" fill="#2f9e5e"/><path d="M236.06 215.86L239.66 209.86L232.46 209.86Z" fill="#2f9e5e"/><path d="M236.92 215.93L240.52 209.93L233.32 209.93Z" fill="#2f9e5e"/><path d="M237.77 216L241.37 210L234.17 210Z" fill="#2f9e5e"/><path d="M238.63 216.06L242.23 210.06L235.03 210.06Z" fill="#2f9e5e"/><path d="M239.48 216.12L243.08 210.12L235.88 210.12Z" fill="#2f9e5e"/><path d="M240.34 216.17L243.94 210.17L236.74 210.17Z" fill="#2f9e5e"/><path d="M241.19 216.23L244.79 210.23L237.59 210.23Z" fill="#2f9e5e"/><path d="M242.05 216.27L245.65 210.27L238.45 210.27Z" fill="#2f9e5e"/><path d="M242.9 216.32L246.5 210.32L239.3 210.32Z" fill="#2f9e5e"/><path d="M243.76 216.36L247.36 210.36L240.16 210.36Z" fill="#2f9e5e"/><path d="M244.61 216.4L248.21 210.4L241.01 210.4Z" fill="#2f9e5e"/><path d="M245.47 216.44L249.07 210.44L241.87 210.44Z" fill="#2f9e5e"/><path d="M246.32 216.47L249.92 210.47L242.72 210.47Z" fill="#2f9e5e"/><path d="M247.18 216.51L250.78 210.51L243.58 210.51Z" fill="#2f9e5e"/><path d="M248.03 216.54L251.63 210.54L244.43 210.54Z" fill="#2f9e5e"/><path d="M248.89 216.57L252.49 210.57L245.29 210.57Z" fill="#2f9e5e"/><path d="M249.74 216.6L253.34 210.6L246.14 210.6Z" fill="#2f9e5e"/><path d="M250.6 216.64L254.2 210.64L247 210.64Z" fill="#2f9e5e"/><path d="M251.45 216.67L255.05 210.67L247.85 210.67Z" fill="#2f9e5e"/><path d="M252.31 216.7L255.91 210.7L248.71 210.7Z" fill="#2f9e5e"/><path d="M253.16 216.73L256.76 210.73L249.56 210.73Z" fill="#2f9e5e"/><path d="M254.02 216.76L257.62 210.76L250.42 210.76Z" fill="#2f9e5e"/><path d="M254.87 216.79L258.47 210.79L251.27 210.79Z" fill="#2f9e5e"/><path d="M255.73 216.82L259.33 210.82L252.13 210.82Z" fill="#2f9e5e"/><path d="M256.58 216.84L260.18 210.84L252.98 210.84Z" fill="#2f9e5e"/><path d="M257.44 216.87L261.04 210.87L253.84 210.87Z" fill="#2f9e5e"/><path d="M258.29 216.9L261.89 210.9L254.69 210.9Z" fill="#2f9e5e"/><path d="M259.15 216.92L262.75 210.92L255.55 210.92Z" fill="#2f9e5e"/><path d="M260 216.95L263.6 210.95L256.4 210.95Z" fill="#2f9e5e"/><path d="M260.86 216.97L264.46 210.97L257.26 210.97Z" fill="#2f9e5e"/><path d="M261.71 216.99L265.31 210.99L258.11 210.99Z" fill="#2f9e5e"/><path d="M262.57 217.02L266.17 211.02L258.97 211.02Z" fill="#2f9e5e"/><path d="M263.42 217.04L267.02 211.04L259.82 211.04Z" fill="#2f9e5e"/><path d="M264.28 217.05L267.88 211.05L260.68 211.05Z" fill="#2f9e5e"/><path d="M265.13 217.07L268.73 211.07L261.53 211.07Z" fill="#2f9e5e"/><path d="M265.99 217.09L269.59 211.09L262.39 211.09Z" fill="#2f9e5e"/><path d="M266.84 217.1L270.44 211.1L263.24 211.1Z" fill="#2f9e5e"/><path d="M267.7 217.11L271.3 211.11L264.1 211.11Z" fill="#2f9e5e"/><path d="M268.55 217.12L272.15 211.12L264.95 211.12Z" fill="#2f9e5e"/><path d="M269.41 217.13L273.01 211.13L265.81 211.13Z" fill="#2f9e5e"/><path d="M270.26 217.14L273.86 211.14L266.66 211.14Z" fill="#2f9e5e"/>
<path d="M276 199 Q 274.5 204 276.5 209" fill="none" stroke="#7fa9ec" stroke-width="1"/>
<circle cx="271.8" cy="206.4" r="2.8" fill="#ec3a40"/>
<path d="M276.1 194.14L279.46 199.74L272.74 199.74Z" fill="#1d68de"/>
<path d="M277.2 207.64L282.36 216.24L272.04 216.24Z" fill="#1d68de"/>
<path d="M282.3 210.04L286.26 216.64L278.34 216.64Z" fill="#1d68de"/>
<path d="M271.8 218.5L274.8 213.5L268.8 213.5Z" fill="#2f9e5e"/>
<text x="152.5" y="266.8" font-size="9.2" font-weight="bold" textLength="58.7" lengthAdjust="spacingAndGlyphs" class="axl">Position (mm)</text>
<text x="0" y="0" font-size="9.6" font-weight="bold" textLength="37.6" lengthAdjust="spacingAndGlyphs" class="axl" transform="translate(8.3,136.6) rotate(-90)">Dose (%)</text>
<text x="302.3" y="86.5" font-size="12.4" class="lb">A)</text>
<rect x="236.5" y="0" width="94.5" height="63.5" fill="#fff"/>
<path d="M236.6 1.2 V63.5 H330.7" fill="none" stroke="#9a9a9a" stroke-width="1"/>
<rect x="236.1" y="0" width="94.6" height="1.5" fill="#e6e6e6"/>
<line x1="238.2" y1="9.7" x2="265.3" y2="9.7" stroke="#dcdcdc" stroke-width="1"/>
<rect x="249.1" y="7.1" width="5.2" height="5.2" fill="#474747"/>
<text x="269.4" y="13.9" font-size="11.9" class="lg">RayStation</text>
<line x1="238.2" y1="24.5" x2="265.3" y2="24.5" stroke="#f06868" stroke-width="1"/>
<circle cx="251.7" cy="24.5" r="3" fill="#ec3a40"/>
<text x="269.4" y="28.7" font-size="11.9" class="lg">Vigo AH1</text>
<line x1="238.2" y1="39.4" x2="265.3" y2="39.4" stroke="#a9c6f2" stroke-width="1"/>
<path d="M251.7 35.8L255.3 41.8L248.1 41.8Z" fill="#1d68de"/>
<text x="269.4" y="43.6" font-size="11.9" class="lg">Vigo AH2</text>
<line x1="238.2" y1="54.6" x2="265.3" y2="54.6" stroke="#a8dcb8" stroke-width="1"/>
<path d="M251.7 58.2L255.3 52.2L248.1 52.2Z" fill="#2f9e5e"/>
<text x="269.4" y="58.8" font-size="11.9" class="lg">Vigo AH3</text>
<g class="ax"><line x1="369.9" y1="0" x2="369.9" y2="243.37" stroke="#6a6a6a" stroke-width="1.5"/><line x1="369.15" y1="238.6" x2="681.65" y2="238.6" stroke="#6a6a6a" stroke-width="1.5"/><line x1="365.13" y1="218.6" x2="369.9" y2="218.6" stroke="#6a6a6a" stroke-width="1.2"/><text x="361.1" y="221.78" font-size="9.4" font-weight="bold" text-anchor="end" textLength="4.91" lengthAdjust="spacingAndGlyphs">0</text><line x1="365.13" y1="178.9" x2="369.9" y2="178.9" stroke="#6a6a6a" stroke-width="1.2"/><text x="361.1" y="182.08" font-size="9.4" font-weight="bold" text-anchor="end" textLength="9.83" lengthAdjust="spacingAndGlyphs">20</text><line x1="365.13" y1="139.2" x2="369.9" y2="139.2" stroke="#6a6a6a" stroke-width="1.2"/><text x="361.1" y="142.38" font-size="9.4" font-weight="bold" text-anchor="end" textLength="9.83" lengthAdjust="spacingAndGlyphs">40</text><line x1="365.13" y1="99.5" x2="369.9" y2="99.5" stroke="#6a6a6a" stroke-width="1.2"/><text x="361.1" y="102.68" font-size="9.4" font-weight="bold" text-anchor="end" textLength="9.83" lengthAdjust="spacingAndGlyphs">60</text><line x1="365.13" y1="59.8" x2="369.9" y2="59.8" stroke="#6a6a6a" stroke-width="1.2"/><text x="361.1" y="62.98" font-size="9.4" font-weight="bold" text-anchor="end" textLength="9.83" lengthAdjust="spacingAndGlyphs">80</text><line x1="365.13" y1="20.1" x2="369.9" y2="20.1" stroke="#6a6a6a" stroke-width="1.2"/><text x="361.1" y="23.28" font-size="9.4" font-weight="bold" text-anchor="end" textLength="14.74" lengthAdjust="spacingAndGlyphs">100</text><line x1="367.25" y1="238.45" x2="369.9" y2="238.45" stroke="#6a6a6a" stroke-width="1.2"/><line x1="367.25" y1="198.75" x2="369.9" y2="198.75" stroke="#6a6a6a" stroke-width="1.2"/><line x1="367.25" y1="159.05" x2="369.9" y2="159.05" stroke="#6a6a6a" stroke-width="1.2"/><line x1="367.25" y1="119.35" x2="369.9" y2="119.35" stroke="#6a6a6a" stroke-width="1.2"/><line x1="367.25" y1="79.65" x2="369.9" y2="79.65" stroke="#6a6a6a" stroke-width="1.2"/><line x1="367.25" y1="39.95" x2="369.9" y2="39.95" stroke="#6a6a6a" stroke-width="1.2"/><line x1="369.8" y1="238.6" x2="369.8" y2="243.37" stroke="#6a6a6a" stroke-width="1.2"/><text x="369.8" y="253.9" font-size="9.4" font-weight="bold" text-anchor="middle" textLength="7.86" lengthAdjust="spacingAndGlyphs">-3</text><line x1="426.5" y1="238.6" x2="426.5" y2="243.37" stroke="#6a6a6a" stroke-width="1.2"/><text x="426.5" y="253.9" font-size="9.4" font-weight="bold" text-anchor="middle" textLength="7.86" lengthAdjust="spacingAndGlyphs">-2</text><line x1="483.2" y1="238.6" x2="483.2" y2="243.37" stroke="#6a6a6a" stroke-width="1.2"/><text x="483.2" y="253.9" font-size="9.4" font-weight="bold" text-anchor="middle" textLength="7.86" lengthAdjust="spacingAndGlyphs">-1</text><line x1="539.9" y1="238.6" x2="539.9" y2="243.37" stroke="#6a6a6a" stroke-width="1.2"/><text x="539.9" y="253.9" font-size="9.4" font-weight="bold" text-anchor="middle" textLength="4.91" lengthAdjust="spacingAndGlyphs">0</text><line x1="596.6" y1="238.6" x2="596.6" y2="243.37" stroke="#6a6a6a" stroke-width="1.2"/><text x="596.6" y="253.9" font-size="9.4" font-weight="bold" text-anchor="middle" textLength="4.91" lengthAdjust="spacingAndGlyphs">1</text><line x1="653.3" y1="238.6" x2="653.3" y2="243.37" stroke="#6a6a6a" stroke-width="1.2"/><text x="653.3" y="253.9" font-size="9.4" font-weight="bold" text-anchor="middle" textLength="4.91" lengthAdjust="spacingAndGlyphs">2</text><line x1="398.15" y1="238.6" x2="398.15" y2="241.25" stroke="#6a6a6a" stroke-width="1.2"/><line x1="454.85" y1="238.6" x2="454.85" y2="241.25" stroke="#6a6a6a" stroke-width="1.2"/><line x1="511.55" y1="238.6" x2="511.55" y2="241.25" stroke="#6a6a6a" stroke-width="1.2"/><line x1="568.25" y1="238.6" x2="568.25" y2="241.25" stroke="#6a6a6a" stroke-width="1.2"/><line x1="624.95" y1="238.6" x2="624.95" y2="241.25" stroke="#6a6a6a" stroke-width="1.2"/><line x1="681.65" y1="238.6" x2="681.65" y2="241.25" stroke="#6a6a6a" stroke-width="1.2"/></g>
<path d="M412.61 218.5 L412.89 218.5 L413.18 218.5 L413.46 218.5 L413.74 218.5 L414.03 218.5 L414.31 218.5 L414.59 218.5 L414.88 218.5 L415.16 218.5 L415.44 218.5 L415.73 218.5 L416.01 218.5 L416.29 218.5 L416.58 218.5 L416.86 218.5 L417.14 218.5 L417.43 218.5 L417.71 218.5 L417.99 218.5 L418.28 218.5 L418.56 218.5 L418.85 218.5 L419.13 218.5 L419.41 218.5 L419.7 218.5 L419.98 218.5 L420.26 218.5 L420.55 218.5 L420.83 218.5 L421.11 218.5 L421.4 218.5 L421.68 218.5 L421.96 218.5 L422.25 218.5 L422.53 218.5 L422.81 218.5 L423.1 218.5 L423.38 218.5 L423.66 218.5 L423.95 218.5 L424.23 218.5 L424.52 218.5 L424.8 218.5 L425.08 218.5 L425.37 218.5 L425.65 218.5 L425.93 218.5 L426.22 218.5 L426.5 218.5 L426.78 218.5 L427.07 218.5 L427.35 218.5 L427.63 218.5 L427.92 218.5 L428.2 218.5 L428.48 218.5 L428.77 218.5 L429.05 218.5 L429.33 218.5 L429.62 218.5 L429.9 218.5 L430.19 218.5 L430.47 218.5 L430.75 218.5 L431.04 218.5 L431.32 218.5 L431.6 218.5 L431.89 218.5 L432.17 218.5 L432.45 218.5 L432.74 218.5 L433.02 218.5 L433.3 218.5 L433.59 218.5 L433.87 218.5 L434.15 218.5 L434.44 218.5 L434.72 218.5 L435 218.5 L435.29 218.5 L435.57 218.49 L435.86 218.47 L436.14 218.45 L436.42 218.43 L436.71 218.4 L436.99 218.37 L437.27 218.33 L437.56 218.3 L437.84 218.26 L438.12 218.22 L438.41 218.19 L438.69 218.15 L438.97 218.12 L439.26 218.08 L439.54 218.05 L439.82 218.03 L440.11 218 L440.39 217.99 L440.67 217.97 L440.96 217.95 L441.24 217.94 L441.53 217.93 L441.81 217.91 L442.09 217.9 L442.38 217.88 L442.66 217.87 L442.94 217.85 L443.23 217.83 L443.51 217.81 L443.79 217.78 L444.08 217.74 L444.36 217.7 L444.64 217.66 L444.93 217.6 L445.21 217.55 L445.49 217.48 L445.78 217.42 L446.06 217.35 L446.34 217.27 L446.63 217.2 L446.91 217.11 L447.2 217.03 L447.48 216.94 L447.76 216.85 L448.05 216.76 L448.33 216.67 L448.61 216.57 L448.9 216.48 L449.18 216.38 L449.46 216.28 L449.75 216.18 L450.03 216.08 L450.31 215.99 L450.6 215.89 L450.88 215.79 L451.16 215.7 L451.45 215.61 L451.73 215.51 L452.01 215.42 L452.3 215.34 L452.58 215.25 L452.87 215.16 L453.15 215.07 L453.43 214.98 L453.72 214.89 L454 214.81 L454.28 214.72 L454.57 214.63 L454.85 214.54 L455.13 214.44 L455.42 214.35 L455.7 214.26 L455.98 214.17 L456.27 214.07 L456.55 213.98 L456.83 213.88 L457.12 213.78 L457.4 213.68 L457.68 213.58 L457.97 213.48 L458.25 213.37 L458.54 213.27 L458.82 213.16 L459.1 213.05 L459.39 212.94 L459.67 212.82 L459.95 212.71 L460.24 212.59 L460.52 212.47 L460.8 212.35 L461.09 212.22 L461.37 212.09 L461.65 211.96 L461.94 211.83 L462.22 211.69 L462.5 211.55 L462.79 211.41 L463.07 211.27 L463.35 211.12 L463.64 210.98 L463.92 210.82 L464.21 210.67 L464.49 210.51 L464.77 210.35 L465.06 210.19 L465.34 210.03 L465.62 209.86 L465.91 209.69 L466.19 209.52 L466.47 209.35 L466.76 209.17 L467.04 208.99 L467.32 208.81 L467.61 208.63 L467.89 208.44 L468.17 208.25 L468.46 208.06 L468.74 207.86 L469.02 207.67 L469.31 207.47 L469.59 207.27 L469.88 207.06 L470.16 206.86 L470.44 206.65 L470.73 206.44 L471.01 206.22 L471.29 206.01 L471.58 205.78 L471.86 205.56 L472.14 205.33 L472.43 205.09 L472.71 204.85 L472.99 204.6 L473.28 204.35 L473.56 204.09 L473.84 203.82 L474.13 203.54 L474.41 203.26 L474.69 202.96 L474.98 202.66 L475.26 202.35 L475.55 202.02 L475.83 201.69 L476.11 201.34 L476.4 200.98 L476.68 200.58 L476.96 200.16 L477.25 199.71 L477.53 199.24 L477.81 198.75 L478.1 198.24 L478.38 197.72 L478.66 197.19 L478.95 196.65 L479.23 196.1 L479.51 195.55 L479.8 194.99 L480.08 194.44 L480.36 193.88 L480.65 193.32 L480.93 192.74 L481.22 192.16 L481.5 191.56 L481.78 190.96 L482.07 190.35 L482.35 189.73 L482.63 189.11 L482.92 188.47 L483.2 187.83 L483.48 187.19 L483.77 186.53 L484.05 185.87 L484.33 185.2 L484.62 184.53 L484.9 183.84 L485.18 183.16 L485.47 182.46 L485.75 181.76 L486.03 181.06 L486.32 180.37 L486.6 179.68 L486.89 178.99 L487.17 178.31 L487.45 177.62 L487.74 176.93 L488.02 176.22 L488.3 175.5 L488.59 174.77 L488.87 174.01 L489.15 173.23 L489.44 172.42 L489.72 171.58 L490 170.7 L490.29 169.79 L490.57 168.84 L490.85 167.84 L491.14 166.79 L491.42 165.63 L491.7 164.29 L491.99 162.82 L492.27 161.25 L492.56 159.6 L492.84 157.91 L493.12 156.21 L493.41 154.53 L493.69 152.9 L493.97 151.35 L494.26 149.92 L494.54 148.59 L494.82 147.32 L495.11 146.09 L495.39 144.88 L495.67 143.69 L495.96 142.48 L496.24 141.26 L496.52 139.99 L496.81 138.7 L497.09 137.4 L497.37 136.08 L497.66 134.76 L497.94 133.43 L498.23 132.09 L498.51 130.74 L498.79 129.39 L499.08 128.03 L499.36 126.67 L499.64 125.3 L499.93 123.92 L500.21 122.54 L500.49 121.16 L500.78 119.77 L501.06 118.38 L501.34 116.99 L501.63 115.6 L501.91 114.21 L502.19 112.81 L502.48 111.42 L502.76 110.02 L503.04 108.61 L503.33 107.18 L503.61 105.73 L503.9 104.27 L504.18 102.79 L504.46 101.3 L504.75 99.8 L505.03 98.31 L505.31 96.81 L505.6 95.31 L505.88 93.82 L506.16 92.35 L506.45 90.88 L506.73 89.43 L507.01 88.01 L507.3 86.6 L507.58 85.22 L507.86 83.88 L508.15 82.56 L508.43 81.28 L508.71 80.05 L509 78.84 L509.28 77.66 L509.57 76.51 L509.85 75.37 L510.13 74.26 L510.42 73.16 L510.7 72.08 L510.98 71.02 L511.27 69.96 L511.55 68.92 L511.83 67.89 L512.12 66.87 L512.4 65.86 L512.68 64.85 L512.97 63.84 L513.25 62.84 L513.53 61.83 L513.82 60.83 L514.1 59.82 L514.38 58.81 L514.67 57.8 L514.95 56.82 L515.24 55.86 L515.52 54.91 L515.8 53.97 L516.09 53.03 L516.37 52.09 L516.65 51.14 L516.94 50.18 L517.22 49.21 L517.5 48.21 L517.79 47.19 L518.07 46.14 L518.35 45.03 L518.64 43.79 L518.92 42.44 L519.2 41 L519.49 39.5 L519.77 37.96 L520.05 36.41 L520.34 34.87 L520.62 33.37 L520.91 31.93 L521.19 30.58 L521.47 29.34 L521.76 28.25 L522.04 27.32 L522.32 26.58 L522.61 26.06 L522.89 25.75 L523.17 25.5 L523.46 25.26 L523.74 25.03 L524.02 24.8 L524.31 24.58 L524.59 24.37 L524.87 24.17 L525.16 23.97 L525.44 23.78 L525.72 23.6 L526.01 23.43 L526.29 23.26 L526.58 23.1 L526.86 22.94 L527.14 22.79 L527.43 22.65 L527.71 22.51 L527.99 22.38 L528.28 22.25 L528.56 22.13 L528.84 22.01 L529.13 21.9 L529.41 21.79 L529.69 21.69 L529.98 21.59 L530.26 21.5 L530.54 21.4 L530.83 21.32 L531.11 21.24 L531.39 21.16 L531.68 21.08 L531.96 21.01 L532.25 20.94 L532.53 20.87 L532.81 20.81 L533.1 20.74 L533.38 20.69 L533.66 20.63 L533.95 20.57 L534.23 20.52 L534.51 20.47 L534.8 20.42 L535.08 20.37 L535.36 20.32 L535.65 20.27 L535.93 20.22 L536.21 20.18 L536.5 20.13 L536.78 20.08 L537.06 20.04 L537.35 19.99 L537.63 19.95 L537.92 19.91 L538.2 19.87 L538.48 19.83 L538.77 19.79 L539.05 19.75 L539.33 19.72 L539.62 19.68 L539.9 19.65 L540.18 19.63 L540.47 19.6 L540.75 19.58 L541.03 19.56 L541.32 19.54 L541.6 19.53 L541.88 19.52 L542.17 19.51 L542.45 19.51 L542.73 19.53 L543.02 19.81 L543.3 20.34 L543.59 21.08 L543.87 21.95 L544.15 22.92 L544.44 23.93 L544.72 24.9 L545 25.8 L545.29 26.57 L545.57 27.15 L545.85 27.64 L546.14 28.11 L546.42 28.56 L546.7 28.98 L546.99 29.39 L547.27 29.79 L547.55 30.16 L547.84 30.53 L548.12 30.88 L548.4 31.22 L548.69 31.56 L548.97 31.89 L549.26 32.21 L549.54 32.53 L549.82 32.84 L550.11 33.16 L550.39 33.48 L550.67 33.8 L550.96 34.12 L551.24 34.45 L551.52 34.79 L557.48 41.89 L557.76 42.42 L558.04 42.97 L558.33 43.56 L558.61 44.18 L558.89 44.82 L559.18 45.49 L559.46 46.17 L559.75 46.88 L560.03 47.61 L560.31 48.35 L560.6 49.11 L560.88 49.88 L561.16 50.67 L561.45 51.52 L561.73 52.42 L562.01 53.35 L562.3 54.32 L562.58 55.32 L562.86 56.34 L563.15 57.38 L563.43 58.43 L563.71 59.49 L564 60.56 L564.28 61.62 L564.56 62.68 L564.85 63.72 L565.13 64.75 L565.41 65.76 L565.7 66.74 L565.98 67.72 L566.27 68.69 L566.55 69.66 L566.83 70.63 L567.12 71.59 L567.4 72.56 L567.68 73.54 L567.97 74.52 L568.25 75.52 L568.53 76.53 L568.82 77.55 L569.1 78.59 L569.38 79.65 L569.67 80.73 L569.95 81.82 L570.23 82.91 L570.52 84.02 L570.8 85.14 L571.09 86.27 L571.37 87.41 L571.65 88.56 L571.94 89.72 L572.22 90.89 L572.5 92.06 L572.79 93.25 L573.07 94.44 L573.35 95.64 L573.64 96.84 L573.92 98.06 L574.2 99.28 L574.49 100.51 L574.77 101.74 L575.05 102.98 L575.34 104.22 L575.62 105.48 L575.9 106.73 L576.19 107.99 L576.47 109.26 L576.76 110.53 L577.04 111.82 L577.32 113.14 L577.61 114.48 L577.89 115.84 L578.17 117.21 L578.46 118.6 L578.74 119.99 L579.02 121.4 L579.31 122.81 L579.59 124.22 L579.87 125.64 L580.16 127.05 L580.44 128.46 L580.72 129.86 L581.01 131.25 L581.29 132.63 L581.57 133.99 L581.86 135.33 L582.14 136.66 L582.43 137.96 L582.71 139.24 L582.99 140.49 L583.28 141.74 L583.56 143 L583.84 144.25 L584.13 145.51 L584.41 146.76 L584.69 148.01 L584.98 149.26 L585.26 150.5 L585.54 151.73 L585.83 152.95 L586.11 154.16 L586.39 155.37 L586.68 156.55 L586.96 157.73 L587.24 158.89 L587.53 160.03 L587.81 161.15 L588.1 162.25 L588.38 163.33 L588.66 164.38 L588.95 165.41 L589.23 166.42 L589.51 167.39 L589.8 168.34 L590.08 169.26 L590.36 170.14 L590.65 171 L590.93 171.83 L591.21 172.63 L591.5 173.41 L591.78 174.17 L592.06 174.91 L592.35 175.64 L592.63 176.35 L592.91 177.05 L593.2 177.73 L593.48 178.41 L593.77 179.08 L594.05 179.75 L594.33 180.41 L594.62 181.07 L594.9 181.74 L595.18 182.4 L595.47 183.07 L595.75 183.75 L596.03 184.44 L596.32 185.14 L596.6 185.85 L596.88 186.58 L597.17 187.33 L597.45 188.09 L597.73 188.86 L598.02 189.64 L598.3 190.42 L598.58 191.18 L598.87 191.94 L599.15 192.67 L599.44 193.38 L599.72 194.07 L600 194.71 L600.29 195.32 L600.57 195.88 L600.85 196.42 L601.14 196.93 L601.42 197.44 L601.7 197.92 L601.99 198.38 L602.27 198.82 L602.55 199.24 L602.84 199.63 L603.12 200 L603.4 200.34 L603.69 200.66 L603.97 200.96 L604.25 201.24 L604.54 201.52 L604.82 201.78 L605.11 202.03 L605.39 202.27 L605.67 202.51 L605.96 202.74 L606.24 202.96 L606.52 203.19 L606.81 203.41 L607.09 203.63 L607.37 203.85 L607.66 204.08 L607.94 204.31 L608.22 204.54 L608.51 204.77 L608.79 205 L609.07 205.23 L609.36 205.45 L609.64 205.67 L609.92 205.9 L610.21 206.12 L610.49 206.34 L610.78 206.55 L611.06 206.77 L611.34 206.99 L611.63 207.2 L611.91 207.41 L612.19 207.63 L612.48 207.84 L612.76 208.05 L613.04 208.26 L613.33 208.47 L613.61 208.68 L613.89 208.88 L614.18 209.1 L614.46 209.31 L614.74 209.53 L615.03 209.74 L615.31 209.96 L615.59 210.17 L615.88 210.39 L616.16 210.6 L616.45 210.81 L616.73 211.02 L617.01 211.22 L617.3 211.42 L617.58 211.61 L617.86 211.8 L618.15 211.99 L618.43 212.16 L618.71 212.33 L619 212.49 L619.28 212.65 L619.56 212.79 L619.85 212.94 L620.13 213.09 L620.41 213.23 L620.7 213.38 L620.98 213.52 L621.26 213.66 L621.55 213.8 L621.83 213.93 L622.12 214.07 L622.4 214.2 L622.68 214.33 L622.97 214.45 L623.25 214.58 L623.53 214.69 L623.82 214.81 L624.1 214.92 L624.38 215.03 L624.67 215.13 L624.95 215.23 L625.23 215.33 L625.52 215.42 L625.8 215.5 L626.08 215.58 L626.37 215.66 L626.65 215.73 L626.93 215.79 L627.22 215.85 L627.5 215.9 L627.79 215.96 L628.07 216.01 L628.35 216.07 L628.64 216.12 L628.92 216.17 L629.2 216.21 L629.49 216.26 L629.77 216.3 L630.05 216.35 L630.34 216.39 L630.62 216.43 L630.9 216.47 L631.19 216.51 L631.47 216.55 L631.75 216.59 L632.04 216.63 L632.32 216.66 L632.6 216.7 L632.89 216.73 L633.17 216.77 L633.46 216.8 L633.74 216.83 L634.02 216.86 L634.31 216.9 L634.59 216.93 L634.87 216.96 L635.16 216.99 L635.44 217.02 L635.72 217.05 L636.01 217.08 L636.29 217.11 L636.57 217.14 L636.86 217.17 L637.14 217.2 L637.42 217.23 L637.71 217.26 L637.99 217.29 L638.27 217.32 L638.56 217.35 L638.84 217.38 L639.13 217.41 L639.41 217.44 L639.69 217.47 L639.98 217.5 L640.26 217.53 L640.54 217.56 L640.83 217.59 L641.11 217.63 L641.39 217.66 L641.68 217.69 L641.96 217.72 L642.24 217.75 L642.53 217.77 L642.81 217.8 L643.09 217.83 L643.38 217.86 L643.66 217.89 L643.94 217.92 L644.23 217.95 L644.51 217.98 L644.8 218 L645.08 218.03 L645.36 218.06 L645.65 218.09 L645.93 218.11 L646.21 218.14 L646.5 218.17 L646.78 218.19 L647.06 218.22 L647.35 218.24 L647.63 218.27 L647.91 218.29 L648.2 218.32 L648.48 218.34 L648.76 218.37 L649.05 218.39 L649.33 218.42 L649.61 218.44 L649.9 218.46 L650.18 218.49 L650.47 218.51 L650.75 218.53 L651.03 218.56 L651.32 218.58 L651.6 218.6" fill="none" stroke="#bbbbbb" stroke-width="0.8"/><rect x="410.11" y="216" width="5" height="5" fill="#474747"/><rect x="410.39" y="216" width="5" height="5" fill="#474747"/><rect x="410.68" y="216" width="5" height="5" fill="#474747"/><rect x="410.96" y="216" width="5" height="5" fill="#474747"/><rect x="411.24" y="216" width="5" height="5" fill="#474747"/><rect x="411.53" y="216" width="5" height="5" fill="#474747"/><rect x="411.81" y="216" width="5" height="5" fill="#474747"/><rect x="412.09" y="216" width="5" height="5" fill="#474747"/><rect x="412.38" y="216" width="5" height="5" fill="#474747"/><rect x="412.66" y="216" width="5" height="5" fill="#474747"/><rect x="412.94" y="216" width="5" height="5" fill="#474747"/><rect x="413.23" y="216" width="5" height="5" fill="#474747"/><rect x="413.51" y="216" width="5" height="5" fill="#474747"/><rect x="413.79" y="216" width="5" height="5" fill="#474747"/><rect x="414.08" y="216" width="5" height="5" fill="#474747"/><rect x="414.36" y="216" width="5" height="5" fill="#474747"/><rect x="414.64" y="216" width="5" height="5" fill="#474747"/><rect x="414.93" y="216" width="5" height="5" fill="#474747"/><rect x="415.21" y="216" width="5" height="5" fill="#474747"/><rect x="415.49" y="216" width="5" height="5" fill="#474747"/><rect x="415.78" y="216" width="5" height="5" fill="#474747"/><rect x="416.06" y="216" width="5" height="5" fill="#474747"/><rect x="416.35" y="216" width="5" height="5" fill="#474747"/><rect x="416.63" y="216" width="5" height="5" fill="#474747"/><rect x="416.91" y="216" width="5" height="5" fill="#474747"/><rect x="417.2" y="216" width="5" height="5" fill="#474747"/><rect x="417.48" y="216" width="5" height="5" fill="#474747"/><rect x="417.76" y="216" width="5" height="5" fill="#474747"/><rect x="418.05" y="216" width="5" height="5" fill="#474747"/><rect x="418.33" y="216" width="5" height="5" fill="#474747"/><rect x="418.61" y="216" width="5" height="5" fill="#474747"/><rect x="418.9" y="216" width="5" height="5" fill="#474747"/><rect x="419.18" y="216" width="5" height="5" fill="#474747"/><rect x="419.46" y="216" width="5" height="5" fill="#474747"/><rect x="419.75" y="216" width="5" height="5" fill="#474747"/><rect x="420.03" y="216" width="5" height="5" fill="#474747"/><rect x="420.31" y="216" width="5" height="5" fill="#474747"/><rect x="420.6" y="216" width="5" height="5" fill="#474747"/><rect x="420.88" y="216" width="5" height="5" fill="#474747"/><rect x="421.16" y="216" width="5" height="5" fill="#474747"/><rect x="421.45" y="216" width="5" height="5" fill="#474747"/><rect x="421.73" y="216" width="5" height="5" fill="#474747"/><rect x="422.02" y="216" width="5" height="5" fill="#474747"/><rect x="422.3" y="216" width="5" height="5" fill="#474747"/><rect x="422.58" y="216" width="5" height="5" fill="#474747"/><rect x="422.87" y="216" width="5" height="5" fill="#474747"/><rect x="423.15" y="216" width="5" height="5" fill="#474747"/><rect x="423.43" y="216" width="5" height="5" fill="#474747"/><rect x="423.72" y="216" width="5" height="5" fill="#474747"/><rect x="424" y="216" width="5" height="5" fill="#474747"/><rect x="424.28" y="216" width="5" height="5" fill="#474747"/><rect x="424.57" y="216" width="5" height="5" fill="#474747"/><rect x="424.85" y="216" width="5" height="5" fill="#474747"/><rect x="425.13" y="216" width="5" height="5" fill="#474747"/><rect x="425.42" y="216" width="5" height="5" fill="#474747"/><rect x="425.7" y="216" width="5" height="5" fill="#474747"/><rect x="425.98" y="216" width="5" height="5" fill="#474747"/><rect x="426.27" y="216" width="5" height="5" fill="#474747"/><rect x="426.55" y="216" width="5" height="5" fill="#474747"/><rect x="426.83" y="216" width="5" height="5" fill="#474747"/><rect x="427.12" y="216" width="5" height="5" fill="#474747"/><rect x="427.4" y="216" width="5" height="5" fill="#474747"/><rect x="427.69" y="216" width="5" height="5" fill="#474747"/><rect x="427.97" y="216" width="5" height="5" fill="#474747"/><rect x="428.25" y="216" width="5" height="5" fill="#474747"/><rect x="428.54" y="216" width="5" height="5" fill="#474747"/><rect x="428.82" y="216" width="5" height="5" fill="#474747"/><rect x="429.1" y="216" width="5" height="5" fill="#474747"/><rect x="429.39" y="216" width="5" height="5" fill="#474747"/><rect x="429.67" y="216" width="5" height="5" fill="#474747"/><rect x="429.95" y="216" width="5" height="5" fill="#474747"/><rect x="430.24" y="216" width="5" height="5" fill="#474747"/><rect x="430.52" y="216" width="5" height="5" fill="#474747"/><rect x="430.8" y="216" width="5" height="5" fill="#474747"/><rect x="431.09" y="216" width="5" height="5" fill="#474747"/><rect x="431.37" y="216" width="5" height="5" fill="#474747"/><rect x="431.65" y="216" width="5" height="5" fill="#474747"/><rect x="431.94" y="216" width="5" height="5" fill="#474747"/><rect x="432.22" y="216" width="5" height="5" fill="#474747"/><rect x="432.5" y="216" width="5" height="5" fill="#474747"/><rect x="432.79" y="216" width="5" height="5" fill="#474747"/><rect x="433.07" y="215.99" width="5" height="5" fill="#474747"/><rect x="433.36" y="215.97" width="5" height="5" fill="#474747"/><rect x="433.64" y="215.95" width="5" height="5" fill="#474747"/><rect x="433.92" y="215.93" width="5" height="5" fill="#474747"/><rect x="434.21" y="215.9" width="5" height="5" fill="#474747"/><rect x="434.49" y="215.87" width="5" height="5" fill="#474747"/><rect x="434.77" y="215.83" width="5" height="5" fill="#474747"/><rect x="435.06" y="215.8" width="5" height="5" fill="#474747"/><rect x="435.34" y="215.76" width="5" height="5" fill="#474747"/><rect x="435.62" y="215.72" width="5" height="5" fill="#474747"/><rect x="435.91" y="215.69" width="5" height="5" fill="#474747"/><rect x="436.19" y="215.65" width="5" height="5" fill="#474747"/><rect x="436.47" y="215.62" width="5" height="5" fill="#474747"/><rect x="436.76" y="215.58" width="5" height="5" fill="#474747"/><rect x="437.04" y="215.55" width="5" height="5" fill="#474747"/><rect x="437.32" y="215.53" width="5" height="5" fill="#474747"/><rect x="437.61" y="215.5" width="5" height="5" fill="#474747"/><rect x="437.89" y="215.49" width="5" height="5" fill="#474747"/><rect x="438.17" y="215.47" width="5" height="5" fill="#474747"/><rect x="438.46" y="215.45" width="5" height="5" fill="#474747"/><rect x="438.74" y="215.44" width="5" height="5" fill="#474747"/><rect x="439.03" y="215.43" width="5" height="5" fill="#474747"/><rect x="439.31" y="215.41" width="5" height="5" fill="#474747"/><rect x="439.59" y="215.4" width="5" height="5" fill="#474747"/><rect x="439.88" y="215.38" width="5" height="5" fill="#474747"/><rect x="440.16" y="215.37" width="5" height="5" fill="#474747"/><rect x="440.44" y="215.35" width="5" height="5" fill="#474747"/><rect x="440.73" y="215.33" width="5" height="5" fill="#474747"/><rect x="441.01" y="215.31" width="5" height="5" fill="#474747"/><rect x="441.29" y="215.28" width="5" height="5" fill="#474747"/><rect x="441.58" y="215.24" width="5" height="5" fill="#474747"/><rect x="441.86" y="215.2" width="5" height="5" fill="#474747"/><rect x="442.14" y="215.16" width="5" height="5" fill="#474747"/><rect x="442.43" y="215.1" width="5" height="5" fill="#474747"/><rect x="442.71" y="215.05" width="5" height="5" fill="#474747"/><rect x="442.99" y="214.98" width="5" height="5" fill="#474747"/><rect x="443.28" y="214.92" width="5" height="5" fill="#474747"/><rect x="443.56" y="214.85" width="5" height="5" fill="#474747"/><rect x="443.84" y="214.77" width="5" height="5" fill="#474747"/><rect x="444.13" y="214.7" width="5" height="5" fill="#474747"/><rect x="444.41" y="214.61" width="5" height="5" fill="#474747"/><rect x="444.7" y="214.53" width="5" height="5" fill="#474747"/><rect x="444.98" y="214.44" width="5" height="5" fill="#474747"/><rect x="445.26" y="214.35" width="5" height="5" fill="#474747"/><rect x="445.55" y="214.26" width="5" height="5" fill="#474747"/><rect x="445.83" y="214.17" width="5" height="5" fill="#474747"/><rect x="446.11" y="214.07" width="5" height="5" fill="#474747"/><rect x="446.4" y="213.98" width="5" height="5" fill="#474747"/><rect x="446.68" y="213.88" width="5" height="5" fill="#474747"/><rect x="446.96" y="213.78" width="5" height="5" fill="#474747"/><rect x="447.25" y="213.68" width="5" height="5" fill="#474747"/><rect x="447.53" y="213.58" width="5" height="5" fill="#474747"/><rect x="447.81" y="213.49" width="5" height="5" fill="#474747"/><rect x="448.1" y="213.39" width="5" height="5" fill="#474747"/><rect x="448.38" y="213.29" width="5" height="5" fill="#474747"/><rect x="448.66" y="213.2" width="5" height="5" fill="#474747"/><rect x="448.95" y="213.11" width="5" height="5" fill="#474747"/><rect x="449.23" y="213.01" width="5" height="5" fill="#474747"/><rect x="449.51" y="212.92" width="5" height="5" fill="#474747"/><rect x="449.8" y="212.84" width="5" height="5" fill="#474747"/><rect x="450.08" y="212.75" width="5" height="5" fill="#474747"/><rect x="450.37" y="212.66" width="5" height="5" fill="#474747"/><rect x="450.65" y="212.57" width="5" height="5" fill="#474747"/><rect x="450.93" y="212.48" width="5" height="5" fill="#474747"/><rect x="451.22" y="212.39" width="5" height="5" fill="#474747"/><rect x="451.5" y="212.31" width="5" height="5" fill="#474747"/><rect x="451.78" y="212.22" width="5" height="5" fill="#474747"/><rect x="452.07" y="212.13" width="5" height="5" fill="#474747"/><rect x="452.35" y="212.04" width="5" height="5" fill="#474747"/><rect x="452.63" y="211.94" width="5" height="5" fill="#474747"/><rect x="452.92" y="211.85" width="5" height="5" fill="#474747"/><rect x="453.2" y="211.76" width="5" height="5" fill="#474747"/><rect x="453.48" y="211.67" width="5" height="5" fill="#474747"/><rect x="453.77" y="211.57" width="5" height="5" fill="#474747"/><rect x="454.05" y="211.48" width="5" height="5" fill="#474747"/><rect x="454.33" y="211.38" width="5" height="5" fill="#474747"/><rect x="454.62" y="211.28" width="5" height="5" fill="#474747"/><rect x="454.9" y="211.18" width="5" height="5" fill="#474747"/><rect x="455.18" y="211.08" width="5" height="5" fill="#474747"/><rect x="455.47" y="210.98" width="5" height="5" fill="#474747"/><rect x="455.75" y="210.87" width="5" height="5" fill="#474747"/><rect x="456.04" y="210.77" width="5" height="5" fill="#474747"/><rect x="456.32" y="210.66" width="5" height="5" fill="#474747"/><rect x="456.6" y="210.55" width="5" height="5" fill="#474747"/><rect x="456.89" y="210.44" width="5" height="5" fill="#474747"/><rect x="457.17" y="210.32" width="5" height="5" fill="#474747"/><rect x="457.45" y="210.21" width="5" height="5" fill="#474747"/><rect x="457.74" y="210.09" width="5" height="5" fill="#474747"/><rect x="458.02" y="209.97" width="5" height="5" fill="#474747"/><rect x="458.3" y="209.85" width="5" height="5" fill="#474747"/><rect x="458.59" y="209.72" width="5" height="5" fill="#474747"/><rect x="458.87" y="209.59" width="5" height="5" fill="#474747"/><rect x="459.15" y="209.46" width="5" height="5" fill="#474747"/><rect x="459.44" y="209.33" width="5" height="5" fill="#474747"/><rect x="459.72" y="209.19" width="5" height="5" fill="#474747"/><rect x="460" y="209.05" width="5" height="5" fill="#474747"/><rect x="460.29" y="208.91" width="5" height="5" fill="#474747"/><rect x="460.57" y="208.77" width="5" height="5" fill="#474747"/><rect x="460.85" y="208.62" width="5" height="5" fill="#474747"/><rect x="461.14" y="208.48" width="5" height="5" fill="#474747"/><rect x="461.42" y="208.32" width="5" height="5" fill="#474747"/><rect x="461.71" y="208.17" width="5" height="5" fill="#474747"/><rect x="461.99" y="208.01" width="5" height="5" fill="#474747"/><rect x="462.27" y="207.85" width="5" height="5" fill="#474747"/><rect x="462.56" y="207.69" width="5" height="5" fill="#474747"/><rect x="462.84" y="207.53" width="5" height="5" fill="#474747"/><rect x="463.12" y="207.36" width="5" height="5" fill="#474747"/><rect x="463.41" y="207.19" width="5" height="5" fill="#474747"/><rect x="463.69" y="207.02" width="5" height="5" fill="#474747"/><rect x="463.97" y="206.85" width="5" height="5" fill="#474747"/><rect x="464.26" y="206.67" width="5" height="5" fill="#474747"/><rect x="464.54" y="206.49" width="5" height="5" fill="#474747"/><rect x="464.82" y="206.31" width="5" height="5" fill="#474747"/><rect x="465.11" y="206.13" width="5" height="5" fill="#474747"/><rect x="465.39" y="205.94" width="5" height="5" fill="#474747"/><rect x="465.67" y="205.75" width="5" height="5" fill="#474747"/><rect x="465.96" y="205.56" width="5" height="5" fill="#474747"/><rect x="466.24" y="205.36" width="5" height="5" fill="#474747"/><rect x="466.52" y="205.17" width="5" height="5" fill="#474747"/><rect x="466.81" y="204.97" width="5" height="5" fill="#474747"/><rect x="467.09" y="204.77" width="5" height="5" fill="#474747"/><rect x="467.38" y="204.56" width="5" height="5" fill="#474747"/><rect x="467.66" y="204.36" width="5" height="5" fill="#474747"/><rect x="467.94" y="204.15" width="5" height="5" fill="#474747"/><rect x="468.23" y="203.94" width="5" height="5" fill="#474747"/><rect x="468.51" y="203.72" width="5" height="5" fill="#474747"/><rect x="468.79" y="203.51" width="5" height="5" fill="#474747"/><rect x="469.08" y="203.28" width="5" height="5" fill="#474747"/><rect x="469.36" y="203.06" width="5" height="5" fill="#474747"/><rect x="469.64" y="202.83" width="5" height="5" fill="#474747"/><rect x="469.93" y="202.59" width="5" height="5" fill="#474747"/><rect x="470.21" y="202.35" width="5" height="5" fill="#474747"/><rect x="470.49" y="202.1" width="5" height="5" fill="#474747"/><rect x="470.78" y="201.85" width="5" height="5" fill="#474747"/><rect x="471.06" y="201.59" width="5" height="5" fill="#474747"/><rect x="471.34" y="201.32" width="5" height="5" fill="#474747"/><rect x="471.63" y="201.04" width="5" height="5" fill="#474747"/><rect x="471.91" y="200.76" width="5" height="5" fill="#474747"/><rect x="472.19" y="200.46" width="5" height="5" fill="#474747"/><rect x="472.48" y="200.16" width="5" height="5" fill="#474747"/><rect x="472.76" y="199.85" width="5" height="5" fill="#474747"/><rect x="473.05" y="199.52" width="5" height="5" fill="#474747"/><rect x="473.33" y="199.19" width="5" height="5" fill="#474747"/><rect x="473.61" y="198.84" width="5" height="5" fill="#474747"/><rect x="473.9" y="198.48" width="5" height="5" fill="#474747"/><rect x="474.18" y="198.08" width="5" height="5" fill="#474747"/><rect x="474.46" y="197.66" width="5" height="5" fill="#474747"/><rect x="474.75" y="197.21" width="5" height="5" fill="#474747"/><rect x="475.03" y="196.74" width="5" height="5" fill="#474747"/><rect x="475.31" y="196.25" width="5" height="5" fill="#474747"/><rect x="475.6" y="195.74" width="5" height="5" fill="#474747"/><rect x="475.88" y="195.22" width="5" height="5" fill="#474747"/><rect x="476.16" y="194.69" width="5" height="5" fill="#474747"/><rect x="476.45" y="194.15" width="5" height="5" fill="#474747"/><rect x="476.73" y="193.6" width="5" height="5" fill="#474747"/><rect x="477.01" y="193.05" width="5" height="5" fill="#474747"/><rect x="477.3" y="192.49" width="5" height="5" fill="#474747"/><rect x="477.58" y="191.94" width="5" height="5" fill="#474747"/><rect x="477.86" y="191.38" width="5" height="5" fill="#474747"/><rect x="478.15" y="190.82" width="5" height="5" fill="#474747"/><rect x="478.43" y="190.24" width="5" height="5" fill="#474747"/><rect x="478.72" y="189.66" width="5" height="5" fill="#474747"/><rect x="479" y="189.06" width="5" height="5" fill="#474747"/><rect x="479.28" y="188.46" width="5" height="5" fill="#474747"/><rect x="479.57" y="187.85" width="5" height="5" fill="#474747"/><rect x="479.85" y="187.23" width="5" height="5" fill="#474747"/><rect x="480.13" y="186.61" width="5" height="5" fill="#474747"/><rect x="480.42" y="185.97" width="5" height="5" fill="#474747"/><rect x="480.7" y="185.33" width="5" height="5" fill="#474747"/><rect x="480.98" y="184.69" width="5" height="5" fill="#474747"/><rect x="481.27" y="184.03" width="5" height="5" fill="#474747"/><rect x="481.55" y="183.37" width="5" height="5" fill="#474747"/><rect x="481.83" y="182.7" width="5" height="5" fill="#474747"/><rect x="482.12" y="182.03" width="5" height="5" fill="#474747"/><rect x="482.4" y="181.34" width="5" height="5" fill="#474747"/><rect x="482.68" y="180.66" width="5" height="5" fill="#474747"/><rect x="482.97" y="179.96" width="5" height="5" fill="#474747"/><rect x="483.25" y="179.26" width="5" height="5" fill="#474747"/><rect x="483.53" y="178.56" width="5" height="5" fill="#474747"/><rect x="483.82" y="177.87" width="5" height="5" fill="#474747"/><rect x="484.1" y="177.18" width="5" height="5" fill="#474747"/><rect x="484.39" y="176.49" width="5" height="5" fill="#474747"/><rect x="484.67" y="175.81" width="5" height="5" fill="#474747"/><rect x="484.95" y="175.12" width="5" height="5" fill="#474747"/><rect x="485.24" y="174.43" width="5" height="5" fill="#474747"/><rect x="485.52" y="173.72" width="5" height="5" fill="#474747"/><rect x="485.8" y="173" width="5" height="5" fill="#474747"/><rect x="486.09" y="172.27" width="5" height="5" fill="#474747"/><rect x="486.37" y="171.51" width="5" height="5" fill="#474747"/><rect x="486.65" y="170.73" width="5" height="5" fill="#474747"/><rect x="486.94" y="169.92" width="5" height="5" fill="#474747"/><rect x="487.22" y="169.08" width="5" height="5" fill="#474747"/><rect x="487.5" y="168.2" width="5" height="5" fill="#474747"/><rect x="487.79" y="167.29" width="5" height="5" fill="#474747"/><rect x="488.07" y="166.34" width="5" height="5" fill="#474747"/><rect x="488.35" y="165.34" width="5" height="5" fill="#474747"/><rect x="488.64" y="164.29" width="5" height="5" fill="#474747"/><rect x="488.92" y="163.13" width="5" height="5" fill="#474747"/><rect x="489.2" y="161.79" width="5" height="5" fill="#474747"/><rect x="489.49" y="160.32" width="5" height="5" fill="#474747"/><rect x="489.77" y="158.75" width="5" height="5" fill="#474747"/><rect x="490.06" y="157.1" width="5" height="5" fill="#474747"/><rect x="490.34" y="155.41" width="5" height="5" fill="#474747"/><rect x="490.62" y="153.71" width="5" height="5" fill="#474747"/><rect x="490.91" y="152.03" width="5" height="5" fill="#474747"/><rect x="491.19" y="150.4" width="5" height="5" fill="#474747"/><rect x="491.47" y="148.85" width="5" height="5" fill="#474747"/><rect x="491.76" y="147.42" width="5" height="5" fill="#474747"/><rect x="492.04" y="146.09" width="5" height="5" fill="#474747"/><rect x="492.32" y="144.82" width="5" height="5" fill="#474747"/><rect x="492.61" y="143.59" width="5" height="5" fill="#474747"/><rect x="492.89" y="142.38" width="5" height="5" fill="#474747"/><rect x="493.17" y="141.19" width="5" height="5" fill="#474747"/><rect x="493.46" y="139.98" width="5" height="5" fill="#474747"/><rect x="493.74" y="138.76" width="5" height="5" fill="#474747"/><rect x="494.02" y="137.49" width="5" height="5" fill="#474747"/><rect x="494.31" y="136.2" width="5" height="5" fill="#474747"/><rect x="494.59" y="134.9" width="5" height="5" fill="#474747"/><rect x="494.87" y="133.58" width="5" height="5" fill="#474747"/><rect x="495.16" y="132.26" width="5" height="5" fill="#474747"/><rect x="495.44" y="130.93" width="5" height="5" fill="#474747"/><rect x="495.73" y="129.59" width="5" height="5" fill="#474747"/><rect x="496.01" y="128.24" width="5" height="5" fill="#474747"/><rect x="496.29" y="126.89" width="5" height="5" fill="#474747"/><rect x="496.58" y="125.53" width="5" height="5" fill="#474747"/><rect x="496.86" y="124.17" width="5" height="5" fill="#474747"/><rect x="497.14" y="122.8" width="5" height="5" fill="#474747"/><rect x="497.43" y="121.42" width="5" height="5" fill="#474747"/><rect x="497.71" y="120.04" width="5" height="5" fill="#474747"/><rect x="497.99" y="118.66" width="5" height="5" fill="#474747"/><rect x="498.28" y="117.27" width="5" height="5" fill="#474747"/><rect x="498.56" y="115.88" width="5" height="5" fill="#474747"/><rect x="498.84" y="114.49" width="5" height="5" fill="#474747"/><rect x="499.13" y="113.1" width="5" height="5" fill="#474747"/><rect x="499.41" y="111.71" width="5" height="5" fill="#474747"/><rect x="499.69" y="110.31" width="5" height="5" fill="#474747"/><rect x="499.98" y="108.92" width="5" height="5" fill="#474747"/><rect x="500.26" y="107.52" width="5" height="5" fill="#474747"/><rect x="500.54" y="106.11" width="5" height="5" fill="#474747"/><rect x="500.83" y="104.68" width="5" height="5" fill="#474747"/><rect x="501.11" y="103.23" width="5" height="5" fill="#474747"/><rect x="501.4" y="101.77" width="5" height="5" fill="#474747"/><rect x="501.68" y="100.29" width="5" height="5" fill="#474747"/><rect x="501.96" y="98.8" width="5" height="5" fill="#474747"/><rect x="502.25" y="97.3" width="5" height="5" fill="#474747"/><rect x="502.53" y="95.81" width="5" height="5" fill="#474747"/><rect x="502.81" y="94.31" width="5" height="5" fill="#474747"/><rect x="503.1" y="92.81" width="5" height="5" fill="#474747"/><rect x="503.38" y="91.32" width="5" height="5" fill="#474747"/><rect x="503.66" y="89.85" width="5" height="5" fill="#474747"/><rect x="503.95" y="88.38" width="5" height="5" fill="#474747"/><rect x="504.23" y="86.93" width="5" height="5" fill="#474747"/><rect x="504.51" y="85.51" width="5" height="5" fill="#474747"/><rect x="504.8" y="84.1" width="5" height="5" fill="#474747"/><rect x="505.08" y="82.72" width="5" height="5" fill="#474747"/><rect x="505.36" y="81.38" width="5" height="5" fill="#474747"/><rect x="505.65" y="80.06" width="5" height="5" fill="#474747"/><rect x="505.93" y="78.78" width="5" height="5" fill="#474747"/><rect x="506.21" y="77.55" width="5" height="5" fill="#474747"/><rect x="506.5" y="76.34" width="5" height="5" fill="#474747"/><rect x="506.78" y="75.16" width="5" height="5" fill="#474747"/><rect x="507.07" y="74.01" width="5" height="5" fill="#474747"/><rect x="507.35" y="72.87" width="5" height="5" fill="#474747"/><rect x="507.63" y="71.76" width="5" height="5" fill="#474747"/><rect x="507.92" y="70.66" width="5" height="5" fill="#474747"/><rect x="508.2" y="69.58" width="5" height="5" fill="#474747"/><rect x="508.48" y="68.52" width="5" height="5" fill="#474747"/><rect x="508.77" y="67.46" width="5" height="5" fill="#474747"/><rect x="509.05" y="66.42" width="5" height="5" fill="#474747"/><rect x="509.33" y="65.39" width="5" height="5" fill="#474747"/><rect x="509.62" y="64.37" width="5" height="5" fill="#474747"/><rect x="509.9" y="63.36" width="5" height="5" fill="#474747"/><rect x="510.18" y="62.35" width="5" height="5" fill="#474747"/><rect x="510.47" y="61.34" width="5" height="5" fill="#474747"/><rect x="510.75" y="60.34" width="5" height="5" fill="#474747"/><rect x="511.03" y="59.33" width="5" height="5" fill="#474747"/><rect x="511.32" y="58.33" width="5" height="5" fill="#474747"/><rect x="511.6" y="57.32" width="5" height="5" fill="#474747"/><rect x="511.88" y="56.31" width="5" height="5" fill="#474747"/><rect x="512.17" y="55.3" width="5" height="5" fill="#474747"/><rect x="512.45" y="54.32" width="5" height="5" fill="#474747"/><rect x="512.74" y="53.36" width="5" height="5" fill="#474747"/><rect x="513.02" y="52.41" width="5" height="5" fill="#474747"/><rect x="513.3" y="51.47" width="5" height="5" fill="#474747"/><rect x="513.59" y="50.53" width="5" height="5" fill="#474747"/><rect x="513.87" y="49.59" width="5" height="5" fill="#474747"/><rect x="514.15" y="48.64" width="5" height="5" fill="#474747"/><rect x="514.44" y="47.68" width="5" height="5" fill="#474747"/><rect x="514.72" y="46.71" width="5" height="5" fill="#474747"/><rect x="515" y="45.71" width="5" height="5" fill="#474747"/><rect x="515.29" y="44.69" width="5" height="5" fill="#474747"/><rect x="515.57" y="43.64" width="5" height="5" fill="#474747"/><rect x="515.85" y="42.53" width="5" height="5" fill="#474747"/><rect x="516.14" y="41.29" width="5" height="5" fill="#474747"/><rect x="516.42" y="39.94" width="5" height="5" fill="#474747"/><rect x="516.7" y="38.5" width="5" height="5" fill="#474747"/><rect x="516.99" y="37" width="5" height="5" fill="#474747"/><rect x="517.27" y="35.46" width="5" height="5" fill="#474747"/><rect x="517.55" y="33.91" width="5" height="5" fill="#474747"/><rect x="517.84" y="32.37" width="5" height="5" fill="#474747"/><rect x="518.12" y="30.87" width="5" height="5" fill="#474747"/><rect x="518.41" y="29.43" width="5" height="5" fill="#474747"/><rect x="518.69" y="28.08" width="5" height="5" fill="#474747"/><rect x="518.97" y="26.84" width="5" height="5" fill="#474747"/><rect x="519.26" y="25.75" width="5" height="5" fill="#474747"/><rect x="519.54" y="24.82" width="5" height="5" fill="#474747"/><rect x="519.82" y="24.08" width="5" height="5" fill="#474747"/><rect x="520.11" y="23.56" width="5" height="5" fill="#474747"/><rect x="520.39" y="23.25" width="5" height="5" fill="#474747"/><rect x="520.67" y="23" width="5" height="5" fill="#474747"/><rect x="520.96" y="22.76" width="5" height="5" fill="#474747"/><rect x="521.24" y="22.53" width="5" height="5" fill="#474747"/><rect x="521.52" y="22.3" width="5" height="5" fill="#474747"/><rect x="521.81" y="22.08" width="5" height="5" fill="#474747"/><rect x="522.09" y="21.87" width="5" height="5" fill="#474747"/><rect x="522.37" y="21.67" width="5" height="5" fill="#474747"/><rect x="522.66" y="21.47" width="5" height="5" fill="#474747"/><rect x="522.94" y="21.28" width="5" height="5" fill="#474747"/><rect x="523.22" y="21.1" width="5" height="5" fill="#474747"/><rect x="523.51" y="20.93" width="5" height="5" fill="#474747"/><rect x="523.79" y="20.76" width="5" height="5" fill="#474747"/><rect x="524.08" y="20.6" width="5" height="5" fill="#474747"/><rect x="524.36" y="20.44" width="5" height="5" fill="#474747"/><rect x="524.64" y="20.29" width="5" height="5" fill="#474747"/><rect x="524.93" y="20.15" width="5" height="5" fill="#474747"/><rect x="525.21" y="20.01" width="5" height="5" fill="#474747"/><rect x="525.49" y="19.88" width="5" height="5" fill="#474747"/><rect x="525.78" y="19.75" width="5" height="5" fill="#474747"/><rect x="526.06" y="19.63" width="5" height="5" fill="#474747"/><rect x="526.34" y="19.51" width="5" height="5" fill="#474747"/><rect x="526.63" y="19.4" width="5" height="5" fill="#474747"/><rect x="526.91" y="19.29" width="5" height="5" fill="#474747"/><rect x="527.19" y="19.19" width="5" height="5" fill="#474747"/><rect x="527.48" y="19.09" width="5" height="5" fill="#474747"/><rect x="527.76" y="19" width="5" height="5" fill="#474747"/><rect x="528.04" y="18.9" width="5" height="5" fill="#474747"/><rect x="528.33" y="18.82" width="5" height="5" fill="#474747"/><rect x="528.61" y="18.74" width="5" height="5" fill="#474747"/><rect x="528.89" y="18.66" width="5" height="5" fill="#474747"/><rect x="529.18" y="18.58" width="5" height="5" fill="#474747"/><rect x="529.46" y="18.51" width="5" height="5" fill="#474747"/><rect x="529.75" y="18.44" width="5" height="5" fill="#474747"/><rect x="530.03" y="18.37" width="5" height="5" fill="#474747"/><rect x="530.31" y="18.31" width="5" height="5" fill="#474747"/><rect x="530.6" y="18.24" width="5" height="5" fill="#474747"/><rect x="530.88" y="18.19" width="5" height="5" fill="#474747"/><rect x="531.16" y="18.13" width="5" height="5" fill="#474747"/><rect x="531.45" y="18.07" width="5" height="5" fill="#474747"/><rect x="531.73" y="18.02" width="5" height="5" fill="#474747"/><rect x="532.01" y="17.97" width="5" height="5" fill="#474747"/><rect x="532.3" y="17.92" width="5" height="5" fill="#474747"/><rect x="532.58" y="17.87" width="5" height="5" fill="#474747"/><rect x="532.86" y="17.82" width="5" height="5" fill="#474747"/><rect x="533.15" y="17.77" width="5" height="5" fill="#474747"/><rect x="533.43" y="17.72" width="5" height="5" fill="#474747"/><rect x="533.71" y="17.68" width="5" height="5" fill="#474747"/><rect x="534" y="17.63" width="5" height="5" fill="#474747"/><rect x="534.28" y="17.58" width="5" height="5" fill="#474747"/><rect x="534.56" y="17.54" width="5" height="5" fill="#474747"/><rect x="534.85" y="17.49" width="5" height="5" fill="#474747"/><rect x="535.13" y="17.45" width="5" height="5" fill="#474747"/><rect x="535.42" y="17.41" width="5" height="5" fill="#474747"/><rect x="535.7" y="17.37" width="5" height="5" fill="#474747"/><rect x="535.98" y="17.33" width="5" height="5" fill="#474747"/><rect x="536.27" y="17.29" width="5" height="5" fill="#474747"/><rect x="536.55" y="17.25" width="5" height="5" fill="#474747"/><rect x="536.83" y="17.22" width="5" height="5" fill="#474747"/><rect x="537.12" y="17.18" width="5" height="5" fill="#474747"/><rect x="537.4" y="17.15" width="5" height="5" fill="#474747"/><rect x="537.68" y="17.13" width="5" height="5" fill="#474747"/><rect x="537.97" y="17.1" width="5" height="5" fill="#474747"/><rect x="538.25" y="17.08" width="5" height="5" fill="#474747"/><rect x="538.53" y="17.06" width="5" height="5" fill="#474747"/><rect x="538.82" y="17.04" width="5" height="5" fill="#474747"/><rect x="539.1" y="17.03" width="5" height="5" fill="#474747"/><rect x="539.38" y="17.02" width="5" height="5" fill="#474747"/><rect x="539.67" y="17.01" width="5" height="5" fill="#474747"/><rect x="539.95" y="17.01" width="5" height="5" fill="#474747"/><rect x="540.23" y="17.03" width="5" height="5" fill="#474747"/><rect x="540.52" y="17.31" width="5" height="5" fill="#474747"/><rect x="540.8" y="17.84" width="5" height="5" fill="#474747"/><rect x="541.09" y="18.58" width="5" height="5" fill="#474747"/><rect x="541.37" y="19.45" width="5" height="5" fill="#474747"/><rect x="541.65" y="20.42" width="5" height="5" fill="#474747"/><rect x="541.94" y="21.43" width="5" height="5" fill="#474747"/><rect x="542.22" y="22.4" width="5" height="5" fill="#474747"/><rect x="542.5" y="23.3" width="5" height="5" fill="#474747"/><rect x="542.79" y="24.07" width="5" height="5" fill="#474747"/><rect x="543.07" y="24.65" width="5" height="5" fill="#474747"/><rect x="543.35" y="25.14" width="5" height="5" fill="#474747"/><rect x="543.64" y="25.61" width="5" height="5" fill="#474747"/><rect x="543.92" y="26.06" width="5" height="5" fill="#474747"/><rect x="544.2" y="26.48" width="5" height="5" fill="#474747"/><rect x="544.49" y="26.89" width="5" height="5" fill="#474747"/><rect x="544.77" y="27.29" width="5" height="5" fill="#474747"/><rect x="545.05" y="27.66" width="5" height="5" fill="#474747"/><rect x="545.34" y="28.03" width="5" height="5" fill="#474747"/><rect x="545.62" y="28.38" width="5" height="5" fill="#474747"/><rect x="545.9" y="28.72" width="5" height="5" fill="#474747"/><rect x="546.19" y="29.06" width="5" height="5" fill="#474747"/><rect x="546.47" y="29.39" width="5" height="5" fill="#474747"/><rect x="546.76" y="29.71" width="5" height="5" fill="#474747"/><rect x="547.04" y="30.03" width="5" height="5" fill="#474747"/><rect x="547.32" y="30.34" width="5" height="5" fill="#474747"/><rect x="547.61" y="30.66" width="5" height="5" fill="#474747"/><rect x="547.89" y="30.98" width="5" height="5" fill="#474747"/><rect x="548.17" y="31.3" width="5" height="5" fill="#474747"/><rect x="548.46" y="31.62" width="5" height="5" fill="#474747"/><rect x="548.74" y="31.95" width="5" height="5" fill="#474747"/><rect x="549.02" y="32.29" width="5" height="5" fill="#474747"/><rect x="554.98" y="39.39" width="5" height="5" fill="#474747"/><rect x="555.26" y="39.92" width="5" height="5" fill="#474747"/><rect x="555.54" y="40.47" width="5" height="5" fill="#474747"/><rect x="555.83" y="41.06" width="5" height="5" fill="#474747"/><rect x="556.11" y="41.68" width="5" height="5" fill="#474747"/><rect x="556.39" y="42.32" width="5" height="5" fill="#474747"/><rect x="556.68" y="42.99" width="5" height="5" fill="#474747"/><rect x="556.96" y="43.67" width="5" height="5" fill="#474747"/><rect x="557.25" y="44.38" width="5" height="5" fill="#474747"/><rect x="557.53" y="45.11" width="5" height="5" fill="#474747"/><rect x="557.81" y="45.85" width="5" height="5" fill="#474747"/><rect x="558.1" y="46.61" width="5" height="5" fill="#474747"/><rect x="558.38" y="47.38" width="5" height="5" fill="#474747"/><rect x="558.66" y="48.17" width="5" height="5" fill="#474747"/><rect x="558.95" y="49.02" width="5" height="5" fill="#474747"/><rect x="559.23" y="49.92" width="5" height="5" fill="#474747"/><rect x="559.51" y="50.85" width="5" height="5" fill="#474747"/><rect x="559.8" y="51.82" width="5" height="5" fill="#474747"/><rect x="560.08" y="52.82" width="5" height="5" fill="#474747"/><rect x="560.36" y="53.84" width="5" height="5" fill="#474747"/><rect x="560.65" y="54.88" width="5" height="5" fill="#474747"/><rect x="560.93" y="55.93" width="5" height="5" fill="#474747"/><rect x="561.21" y="56.99" width="5" height="5" fill="#474747"/><rect x="561.5" y="58.06" width="5" height="5" fill="#474747"/><rect x="561.78" y="59.12" width="5" height="5" fill="#474747"/><rect x="562.06" y="60.18" width="5" height="5" fill="#474747"/><rect x="562.35" y="61.22" width="5" height="5" fill="#474747"/><rect x="562.63" y="62.25" width="5" height="5" fill="#474747"/><rect x="562.91" y="63.26" width="5" height="5" fill="#474747"/><rect x="563.2" y="64.24" width="5" height="5" fill="#474747"/><rect x="563.48" y="65.22" width="5" height="5" fill="#474747"/><rect x="563.77" y="66.19" width="5" height="5" fill="#474747"/><rect x="564.05" y="67.16" width="5" height="5" fill="#474747"/><rect x="564.33" y="68.13" width="5" height="5" fill="#474747"/><rect x="564.62" y="69.09" width="5" height="5" fill="#474747"/><rect x="564.9" y="70.06" width="5" height="5" fill="#474747"/><rect x="565.18" y="71.04" width="5" height="5" fill="#474747"/><rect x="565.47" y="72.02" width="5" height="5" fill="#474747"/><rect x="565.75" y="73.02" width="5" height="5" fill="#474747"/><rect x="566.03" y="74.03" width="5" height="5" fill="#474747"/><rect x="566.32" y="75.05" width="5" height="5" fill="#474747"/><rect x="566.6" y="76.09" width="5" height="5" fill="#474747"/><rect x="566.88" y="77.15" width="5" height="5" fill="#474747"/><rect x="567.17" y="78.23" width="5" height="5" fill="#474747"/><rect x="567.45" y="79.32" width="5" height="5" fill="#474747"/><rect x="567.73" y="80.41" width="5" height="5" fill="#474747"/><rect x="568.02" y="81.52" width="5" height="5" fill="#474747"/><rect x="568.3" y="82.64" width="5" height="5" fill="#474747"/><rect x="568.59" y="83.77" width="5" height="5" fill="#474747"/><rect x="568.87" y="84.91" width="5" height="5" fill="#474747"/><rect x="569.15" y="86.06" width="5" height="5" fill="#474747"/><rect x="569.44" y="87.22" width="5" height="5" fill="#474747"/><rect x="569.72" y="88.39" width="5" height="5" fill="#474747"/><rect x="570" y="89.56" width="5" height="5" fill="#474747"/><rect x="570.29" y="90.75" width="5" height="5" fill="#474747"/><rect x="570.57" y="91.94" width="5" height="5" fill="#474747"/><rect x="570.85" y="93.14" width="5" height="5" fill="#474747"/><rect x="571.14" y="94.34" width="5" height="5" fill="#474747"/><rect x="571.42" y="95.56" width="5" height="5" fill="#474747"/><rect x="571.7" y="96.78" width="5" height="5" fill="#474747"/><rect x="571.99" y="98.01" width="5" height="5" fill="#474747"/><rect x="572.27" y="99.24" width="5" height="5" fill="#474747"/><rect x="572.55" y="100.48" width="5" height="5" fill="#474747"/><rect x="572.84" y="101.72" width="5" height="5" fill="#474747"/><rect x="573.12" y="102.98" width="5" height="5" fill="#474747"/><rect x="573.4" y="104.23" width="5" height="5" fill="#474747"/><rect x="573.69" y="105.49" width="5" height="5" fill="#474747"/><rect x="573.97" y="106.76" width="5" height="5" fill="#474747"/><rect x="574.26" y="108.03" width="5" height="5" fill="#474747"/><rect x="574.54" y="109.32" width="5" height="5" fill="#474747"/><rect x="574.82" y="110.64" width="5" height="5" fill="#474747"/><rect x="575.11" y="111.98" width="5" height="5" fill="#474747"/><rect x="575.39" y="113.34" width="5" height="5" fill="#474747"/><rect x="575.67" y="114.71" width="5" height="5" fill="#474747"/><rect x="575.96" y="116.1" width="5" height="5" fill="#474747"/><rect x="576.24" y="117.49" width="5" height="5" fill="#474747"/><rect x="576.52" y="118.9" width="5" height="5" fill="#474747"/><rect x="576.81" y="120.31" width="5" height="5" fill="#474747"/><rect x="577.09" y="121.72" width="5" height="5" fill="#474747"/><rect x="577.37" y="123.14" width="5" height="5" fill="#474747"/><rect x="577.66" y="124.55" width="5" height="5" fill="#474747"/><rect x="577.94" y="125.96" width="5" height="5" fill="#474747"/><rect x="578.22" y="127.36" width="5" height="5" fill="#474747"/><rect x="578.51" y="128.75" width="5" height="5" fill="#474747"/><rect x="578.79" y="130.13" width="5" height="5" fill="#474747"/><rect x="579.07" y="131.49" width="5" height="5" fill="#474747"/><rect x="579.36" y="132.83" width="5" height="5" fill="#474747"/><rect x="579.64" y="134.16" width="5" height="5" fill="#474747"/><rect x="579.93" y="135.46" width="5" height="5" fill="#474747"/><rect x="580.21" y="136.74" width="5" height="5" fill="#474747"/><rect x="580.49" y="137.99" width="5" height="5" fill="#474747"/><rect x="580.78" y="139.24" width="5" height="5" fill="#474747"/><rect x="581.06" y="140.5" width="5" height="5" fill="#474747"/><rect x="581.34" y="141.75" width="5" height="5" fill="#474747"/><rect x="581.63" y="143.01" width="5" height="5" fill="#474747"/><rect x="581.91" y="144.26" width="5" height="5" fill="#474747"/><rect x="582.19" y="145.51" width="5" height="5" fill="#474747"/><rect x="582.48" y="146.76" width="5" height="5" fill="#474747"/><rect x="582.76" y="148" width="5" height="5" fill="#474747"/><rect x="583.04" y="149.23" width="5" height="5" fill="#474747"/><rect x="583.33" y="150.45" width="5" height="5" fill="#474747"/><rect x="583.61" y="151.66" width="5" height="5" fill="#474747"/><rect x="583.89" y="152.87" width="5" height="5" fill="#474747"/><rect x="584.18" y="154.05" width="5" height="5" fill="#474747"/><rect x="584.46" y="155.23" width="5" height="5" fill="#474747"/><rect x="584.74" y="156.39" width="5" height="5" fill="#474747"/><rect x="585.03" y="157.53" width="5" height="5" fill="#474747"/><rect x="585.31" y="158.65" width="5" height="5" fill="#474747"/><rect x="585.6" y="159.75" width="5" height="5" fill="#474747"/><rect x="585.88" y="160.83" width="5" height="5" fill="#474747"/><rect x="586.16" y="161.88" width="5" height="5" fill="#474747"/><rect x="586.45" y="162.91" width="5" height="5" fill="#474747"/><rect x="586.73" y="163.92" width="5" height="5" fill="#474747"/><rect x="587.01" y="164.89" width="5" height="5" fill="#474747"/><rect x="587.3" y="165.84" width="5" height="5" fill="#474747"/><rect x="587.58" y="166.76" width="5" height="5" fill="#474747"/><rect x="587.86" y="167.64" width="5" height="5" fill="#474747"/><rect x="588.15" y="168.5" width="5" height="5" fill="#474747"/><rect x="588.43" y="169.33" width="5" height="5" fill="#474747"/><rect x="588.71" y="170.13" width="5" height="5" fill="#474747"/><rect x="589" y="170.91" width="5" height="5" fill="#474747"/><rect x="589.28" y="171.67" width="5" height="5" fill="#474747"/><rect x="589.56" y="172.41" width="5" height="5" fill="#474747"/><rect x="589.85" y="173.14" width="5" height="5" fill="#474747"/><rect x="590.13" y="173.85" width="5" height="5" fill="#474747"/><rect x="590.41" y="174.55" width="5" height="5" fill="#474747"/><rect x="590.7" y="175.23" width="5" height="5" fill="#474747"/><rect x="590.98" y="175.91" width="5" height="5" fill="#474747"/><rect x="591.27" y="176.58" width="5" height="5" fill="#474747"/><rect x="591.55" y="177.25" width="5" height="5" fill="#474747"/><rect x="591.83" y="177.91" width="5" height="5" fill="#474747"/><rect x="592.12" y="178.57" width="5" height="5" fill="#474747"/><rect x="592.4" y="179.24" width="5" height="5" fill="#474747"/><rect x="592.68" y="179.9" width="5" height="5" fill="#474747"/><rect x="592.97" y="180.57" width="5" height="5" fill="#474747"/><rect x="593.25" y="181.25" width="5" height="5" fill="#474747"/><rect x="593.53" y="181.94" width="5" height="5" fill="#474747"/><rect x="593.82" y="182.64" width="5" height="5" fill="#474747"/><rect x="594.1" y="183.35" width="5" height="5" fill="#474747"/><rect x="594.38" y="184.08" width="5" height="5" fill="#474747"/><rect x="594.67" y="184.83" width="5" height="5" fill="#474747"/><rect x="594.95" y="185.59" width="5" height="5" fill="#474747"/><rect x="595.23" y="186.36" width="5" height="5" fill="#474747"/><rect x="595.52" y="187.14" width="5" height="5" fill="#474747"/><rect x="595.8" y="187.92" width="5" height="5" fill="#474747"/><rect x="596.08" y="188.68" width="5" height="5" fill="#474747"/><rect x="596.37" y="189.44" width="5" height="5" fill="#474747"/><rect x="596.65" y="190.17" width="5" height="5" fill="#474747"/><rect x="596.94" y="190.88" width="5" height="5" fill="#474747"/><rect x="597.22" y="191.57" width="5" height="5" fill="#474747"/><rect x="597.5" y="192.21" width="5" height="5" fill="#474747"/><rect x="597.79" y="192.82" width="5" height="5" fill="#474747"/><rect x="598.07" y="193.38" width="5" height="5" fill="#474747"/><rect x="598.35" y="193.92" width="5" height="5" fill="#474747"/><rect x="598.64" y="194.43" width="5" height="5" fill="#474747"/><rect x="598.92" y="194.94" width="5" height="5" fill="#474747"/><rect x="599.2" y="195.42" width="5" height="5" fill="#474747"/><rect x="599.49" y="195.88" width="5" height="5" fill="#474747"/><rect x="599.77" y="196.32" width="5" height="5" fill="#474747"/><rect x="600.05" y="196.74" width="5" height="5" fill="#474747"/><rect x="600.34" y="197.13" width="5" height="5" fill="#474747"/><rect x="600.62" y="197.5" width="5" height="5" fill="#474747"/><rect x="600.9" y="197.84" width="5" height="5" fill="#474747"/><rect x="601.19" y="198.16" width="5" height="5" fill="#474747"/><rect x="601.47" y="198.46" width="5" height="5" fill="#474747"/><rect x="601.75" y="198.74" width="5" height="5" fill="#474747"/><rect x="602.04" y="199.02" width="5" height="5" fill="#474747"/><rect x="602.32" y="199.28" width="5" height="5" fill="#474747"/><rect x="602.61" y="199.53" width="5" height="5" fill="#474747"/><rect x="602.89" y="199.77" width="5" height="5" fill="#474747"/><rect x="603.17" y="200.01" width="5" height="5" fill="#474747"/><rect x="603.46" y="200.24" width="5" height="5" fill="#474747"/><rect x="603.74" y="200.46" width="5" height="5" fill="#474747"/><rect x="604.02" y="200.69" width="5" height="5" fill="#474747"/><rect x="604.31" y="200.91" width="5" height="5" fill="#474747"/><rect x="604.59" y="201.13" width="5" height="5" fill="#474747"/><rect x="604.87" y="201.35" width="5" height="5" fill="#474747"/><rect x="605.16" y="201.58" width="5" height="5" fill="#474747"/><rect x="605.44" y="201.81" width="5" height="5" fill="#474747"/><rect x="605.72" y="202.04" width="5" height="5" fill="#474747"/><rect x="606.01" y="202.27" width="5" height="5" fill="#474747"/><rect x="606.29" y="202.5" width="5" height="5" fill="#474747"/><rect x="606.57" y="202.73" width="5" height="5" fill="#474747"/><rect x="606.86" y="202.95" width="5" height="5" fill="#474747"/><rect x="607.14" y="203.17" width="5" height="5" fill="#474747"/><rect x="607.42" y="203.4" width="5" height="5" fill="#474747"/><rect x="607.71" y="203.62" width="5" height="5" fill="#474747"/><rect x="607.99" y="203.84" width="5" height="5" fill="#474747"/><rect x="608.28" y="204.05" width="5" height="5" fill="#474747"/><rect x="608.56" y="204.27" width="5" height="5" fill="#474747"/><rect x="608.84" y="204.49" width="5" height="5" fill="#474747"/><rect x="609.13" y="204.7" width="5" height="5" fill="#474747"/><rect x="609.41" y="204.91" width="5" height="5" fill="#474747"/><rect x="609.69" y="205.13" width="5" height="5" fill="#474747"/><rect x="609.98" y="205.34" width="5" height="5" fill="#474747"/><rect x="610.26" y="205.55" width="5" height="5" fill="#474747"/><rect x="610.54" y="205.76" width="5" height="5" fill="#474747"/><rect x="610.83" y="205.97" width="5" height="5" fill="#474747"/><rect x="611.11" y="206.18" width="5" height="5" fill="#474747"/><rect x="611.39" y="206.38" width="5" height="5" fill="#474747"/><rect x="611.68" y="206.6" width="5" height="5" fill="#474747"/><rect x="611.96" y="206.81" width="5" height="5" fill="#474747"/><rect x="612.24" y="207.03" width="5" height="5" fill="#474747"/><rect x="612.53" y="207.24" width="5" height="5" fill="#474747"/><rect x="612.81" y="207.46" width="5" height="5" fill="#474747"/><rect x="613.09" y="207.67" width="5" height="5" fill="#474747"/><rect x="613.38" y="207.89" width="5" height="5" fill="#474747"/><rect x="613.66" y="208.1" width="5" height="5" fill="#474747"/><rect x="613.95" y="208.31" width="5" height="5" fill="#474747"/><rect x="614.23" y="208.52" width="5" height="5" fill="#474747"/><rect x="614.51" y="208.72" width="5" height="5" fill="#474747"/><rect x="614.8" y="208.92" width="5" height="5" fill="#474747"/><rect x="615.08" y="209.11" width="5" height="5" fill="#474747"/><rect x="615.36" y="209.3" width="5" height="5" fill="#474747"/><rect x="615.65" y="209.49" width="5" height="5" fill="#474747"/><rect x="615.93" y="209.66" width="5" height="5" fill="#474747"/><rect x="616.21" y="209.83" width="5" height="5" fill="#474747"/><rect x="616.5" y="209.99" width="5" height="5" fill="#474747"/><rect x="616.78" y="210.15" width="5" height="5" fill="#474747"/><rect x="617.06" y="210.29" width="5" height="5" fill="#474747"/><rect x="617.35" y="210.44" width="5" height="5" fill="#474747"/><rect x="617.63" y="210.59" width="5" height="5" fill="#474747"/><rect x="617.91" y="210.73" width="5" height="5" fill="#474747"/><rect x="618.2" y="210.88" width="5" height="5" fill="#474747"/><rect x="618.48" y="211.02" width="5" height="5" fill="#474747"/><rect x="618.76" y="211.16" width="5" height="5" fill="#474747"/><rect x="619.05" y="211.3" width="5" height="5" fill="#474747"/><rect x="619.33" y="211.43" width="5" height="5" fill="#474747"/><rect x="619.62" y="211.57" width="5" height="5" fill="#474747"/><rect x="619.9" y="211.7" width="5" height="5" fill="#474747"/><rect x="620.18" y="211.83" width="5" height="5" fill="#474747"/><rect x="620.47" y="211.95" width="5" height="5" fill="#474747"/><rect x="620.75" y="212.08" width="5" height="5" fill="#474747"/><rect x="621.03" y="212.19" width="5" height="5" fill="#474747"/><rect x="621.32" y="212.31" width="5" height="5" fill="#474747"/><rect x="621.6" y="212.42" width="5" height="5" fill="#474747"/><rect x="621.88" y="212.53" width="5" height="5" fill="#474747"/><rect x="622.17" y="212.63" width="5" height="5" fill="#474747"/><rect x="622.45" y="212.73" width="5" height="5" fill="#474747"/><rect x="622.73" y="212.83" width="5" height="5" fill="#474747"/><rect x="623.02" y="212.92" width="5" height="5" fill="#474747"/><rect x="623.3" y="213" width="5" height="5" fill="#474747"/><rect x="623.58" y="213.08" width="5" height="5" fill="#474747"/><rect x="623.87" y="213.16" width="5" height="5" fill="#474747"/><rect x="624.15" y="213.23" width="5" height="5" fill="#474747"/><rect x="624.43" y="213.29" width="5" height="5" fill="#474747"/><rect x="624.72" y="213.35" width="5" height="5" fill="#474747"/><rect x="625" y="213.4" width="5" height="5" fill="#474747"/><rect x="625.29" y="213.46" width="5" height="5" fill="#474747"/><rect x="625.57" y="213.51" width="5" height="5" fill="#474747"/><rect x="625.85" y="213.57" width="5" height="5" fill="#474747"/><rect x="626.14" y="213.62" width="5" height="5" fill="#474747"/><rect x="626.42" y="213.67" width="5" height="5" fill="#474747"/><rect x="626.7" y="213.71" width="5" height="5" fill="#474747"/><rect x="626.99" y="213.76" width="5" height="5" fill="#474747"/><rect x="627.27" y="213.8" width="5" height="5" fill="#474747"/><rect x="627.55" y="213.85" width="5" height="5" fill="#474747"/><rect x="627.84" y="213.89" width="5" height="5" fill="#474747"/><rect x="628.12" y="213.93" width="5" height="5" fill="#474747"/><rect x="628.4" y="213.97" width="5" height="5" fill="#474747"/><rect x="628.69" y="214.01" width="5" height="5" fill="#474747"/><rect x="628.97" y="214.05" width="5" height="5" fill="#474747"/><rect x="629.25" y="214.09" width="5" height="5" fill="#474747"/><rect x="629.54" y="214.13" width="5" height="5" fill="#474747"/><rect x="629.82" y="214.16" width="5" height="5" fill="#474747"/><rect x="630.1" y="214.2" width="5" height="5" fill="#474747"/><rect x="630.39" y="214.23" width="5" height="5" fill="#474747"/><rect x="630.67" y="214.27" width="5" height="5" fill="#474747"/><rect x="630.96" y="214.3" width="5" height="5" fill="#474747"/><rect x="631.24" y="214.33" width="5" height="5" fill="#474747"/><rect x="631.52" y="214.36" width="5" height="5" fill="#474747"/><rect x="631.81" y="214.4" width="5" height="5" fill="#474747"/><rect x="632.09" y="214.43" width="5" height="5" fill="#474747"/><rect x="632.37" y="214.46" width="5" height="5" fill="#474747"/><rect x="632.66" y="214.49" width="5" height="5" fill="#474747"/><rect x="632.94" y="214.52" width="5" height="5" fill="#474747"/><rect x="633.22" y="214.55" width="5" height="5" fill="#474747"/><rect x="633.51" y="214.58" width="5" height="5" fill="#474747"/><rect x="633.79" y="214.61" width="5" height="5" fill="#474747"/><rect x="634.07" y="214.64" width="5" height="5" fill="#474747"/><rect x="634.36" y="214.67" width="5" height="5" fill="#474747"/><rect x="634.64" y="214.7" width="5" height="5" fill="#474747"/><rect x="634.92" y="214.73" width="5" height="5" fill="#474747"/><rect x="635.21" y="214.76" width="5" height="5" fill="#474747"/><rect x="635.49" y="214.79" width="5" height="5" fill="#474747"/><rect x="635.77" y="214.82" width="5" height="5" fill="#474747"/><rect x="636.06" y="214.85" width="5" height="5" fill="#474747"/><rect x="636.34" y="214.88" width="5" height="5" fill="#474747"/><rect x="636.63" y="214.91" width="5" height="5" fill="#474747"/><rect x="636.91" y="214.94" width="5" height="5" fill="#474747"/><rect x="637.19" y="214.97" width="5" height="5" fill="#474747"/><rect x="637.48" y="215" width="5" height="5" fill="#474747"/><rect x="637.76" y="215.03" width="5" height="5" fill="#474747"/><rect x="638.04" y="215.06" width="5" height="5" fill="#474747"/><rect x="638.33" y="215.09" width="5" height="5" fill="#474747"/><rect x="638.61" y="215.13" width="5" height="5" fill="#474747"/><rect x="638.89" y="215.16" width="5" height="5" fill="#474747"/><rect x="639.18" y="215.19" width="5" height="5" fill="#474747"/><rect x="639.46" y="215.22" width="5" height="5" fill="#474747"/><rect x="639.74" y="215.25" width="5" height="5" fill="#474747"/><rect x="640.03" y="215.27" width="5" height="5" fill="#474747"/><rect x="640.31" y="215.3" width="5" height="5" fill="#474747"/><rect x="640.59" y="215.33" width="5" height="5" fill="#474747"/><rect x="640.88" y="215.36" width="5" height="5" fill="#474747"/><rect x="641.16" y="215.39" width="5" height="5" fill="#474747"/><rect x="641.44" y="215.42" width="5" height="5" fill="#474747"/><rect x="641.73" y="215.45" width="5" height="5" fill="#474747"/><rect x="642.01" y="215.48" width="5" height="5" fill="#474747"/><rect x="642.3" y="215.5" width="5" height="5" fill="#474747"/><rect x="642.58" y="215.53" width="5" height="5" fill="#474747"/><rect x="642.86" y="215.56" width="5" height="5" fill="#474747"/><rect x="643.15" y="215.59" width="5" height="5" fill="#474747"/><rect x="643.43" y="215.61" width="5" height="5" fill="#474747"/><rect x="643.71" y="215.64" width="5" height="5" fill="#474747"/><rect x="644" y="215.67" width="5" height="5" fill="#474747"/><rect x="644.28" y="215.69" width="5" height="5" fill="#474747"/><rect x="644.56" y="215.72" width="5" height="5" fill="#474747"/><rect x="644.85" y="215.74" width="5" height="5" fill="#474747"/><rect x="645.13" y="215.77" width="5" height="5" fill="#474747"/><rect x="645.41" y="215.79" width="5" height="5" fill="#474747"/><rect x="645.7" y="215.82" width="5" height="5" fill="#474747"/><rect x="645.98" y="215.84" width="5" height="5" fill="#474747"/><rect x="646.26" y="215.87" width="5" height="5" fill="#474747"/><rect x="646.55" y="215.89" width="5" height="5" fill="#474747"/><rect x="646.83" y="215.92" width="5" height="5" fill="#474747"/><rect x="647.11" y="215.94" width="5" height="5" fill="#474747"/><rect x="647.4" y="215.96" width="5" height="5" fill="#474747"/><rect x="647.68" y="215.99" width="5" height="5" fill="#474747"/><rect x="647.97" y="216.01" width="5" height="5" fill="#474747"/><rect x="648.25" y="216.03" width="5" height="5" fill="#474747"/><rect x="648.53" y="216.06" width="5" height="5" fill="#474747"/><rect x="648.82" y="216.08" width="5" height="5" fill="#474747"/><rect x="649.1" y="216.1" width="5" height="5" fill="#474747"/>
<path d="M443.13 215.26 L444.04 215.03 L444.95 214.78 L445.85 214.54 L446.76 214.29 L447.67 214.03 L448.58 213.77 L449.48 213.5 L450.39 213.23 L451.3 212.95 L452.2 212.67 L453.11 212.39 L454.02 212.1 L454.93 211.81 L455.83 211.51 L456.74 211.2 L457.65 210.88 L458.55 210.55 L459.46 210.2 L460.37 209.84 L461.28 209.46 L462.18 209.07 L463.09 208.67 L464 208.25 L464.9 207.81 L465.81 207.36 L466.72 206.89 L467.63 206.41 L468.53 205.9 L469.44 205.38 L470.35 204.83 L471.26 204.27 L472.16 203.67 L473.07 203.03 L473.98 202.35 L474.88 201.61 L475.79 200.82 L476.7 199.95 L477.61 198.98 L478.51 197.88 L479.42 196.67 L480.33 195.37 L481.23 193.98 L482.14 192.47 L483.05 190.82 L483.96 189.05 L484.86 187.17 L485.77 185.2 L486.68 183.15 L487.58 181.04 L488.49 178.9 L489.4 176.7 L490.31 174.34 L491.21 171.73 L492.12 168.78 L493.03 165.28 L493.94 160.49 L494.84 155.08 L495.75 150.1 L496.66 146.01 L497.56 142.16 L498.47 138.09 L499.38 133.87 L500.29 129.57 L501.19 125.2 L502.1 120.79 L503.01 116.34 L503.91 111.88 L504.82 107.37 L505.73 102.64 L506.64 97.81 L507.54 92.99 L508.45 88.32 L509.36 83.94 L510.26 79.97 L511.17 76.29 L512.08 72.73 L512.99 69.29 L513.89 65.99 L514.8 62.83 L515.71 59.82 L516.62 56.97 L517.52 54.29 L518.43 51.8 L519.34 49.48 L520.24 47.31 L521.15 45.28 L522.06 43.37 L522.97 41.61 L523.87 39.97 L524.78 38.47 L525.69 37.11 L526.59 35.85 L527.5 34.67 L528.41 33.54 L529.32 32.43 L530.22 31.3 L531.13 30.12 L532.04 28.88 L532.94 27.61 L533.85 26.4 L534.76 25.3 L535.67 24.39 L536.57 23.66 L537.48 22.94 L538.39 22.27 L539.3 21.68 L540.2 21.22 L541.11 20.95 L542.02 20.89 L542.92 20.9 L543.83 20.91 L544.74 20.93 L545.65 20.95 L546.55 20.98 L547.46 21.02 L548.37 21.06 L549.27 21.14 L550.18 21.6 L551.09 22.47 L552 23.61 L552.9 24.92 L553.81 26.37 L554.72 28.41 L555.62 30.93 L556.53 33.68 L557.44 36.67 L558.35 40.06 L559.25 43.72 L560.16 47.54 L561.07 51.42 L561.98 55.48 L562.88 59.71 L563.79 64.07 L564.7 68.53 L565.6 73.05 L566.51 77.59 L567.42 82.14 L568.33 86.79 L569.23 91.54 L570.14 96.33 L571.05 101.1 L571.95 105.81 L572.86 110.4 L573.77 114.95 L574.68 119.5 L575.58 124.01 L576.49 128.44 L577.4 132.75 L578.3 136.88 L579.21 140.79 L580.12 144.38 L581.03 147.81 L581.93 151.34 L582.84 155.06 L583.75 158.86 L584.66 162.62 L585.56 166.21 L586.47 169.51 L587.38 172.46 L588.28 175.27 L589.19 177.96 L590.1 180.5 L591.01 182.88 L591.91 185.07 L592.82 187.07 L593.73 188.84 L594.63 190.44 L595.54 191.88 L596.45 193.22 L597.36 194.49 L598.26 195.71 L599.17 196.85 L600.08 197.87 L600.98 198.72 L601.89 199.44 L602.8 200.09 L603.71 200.7 L604.61 201.3 L605.52 201.9 L606.43 202.46 L607.34 203.02 L608.24 203.61 L609.15 204.25 L610.06 204.94 L610.96 205.67 L611.87 206.44 L612.78 207.25 L613.69 208.09" fill="none" stroke="#f4a0a0" stroke-width="0.5"/><circle cx="443.13" cy="215.26" r="3" fill="#ec3a40"/><circle cx="444.04" cy="215.03" r="3" fill="#ec3a40"/><circle cx="444.95" cy="214.78" r="3" fill="#ec3a40"/><circle cx="445.85" cy="214.54" r="3" fill="#ec3a40"/><circle cx="446.76" cy="214.29" r="3" fill="#ec3a40"/><circle cx="447.67" cy="214.03" r="3" fill="#ec3a40"/><circle cx="448.58" cy="213.77" r="3" fill="#ec3a40"/><circle cx="449.48" cy="213.5" r="3" fill="#ec3a40"/><circle cx="450.39" cy="213.23" r="3" fill="#ec3a40"/><circle cx="451.3" cy="212.95" r="3" fill="#ec3a40"/><circle cx="452.2" cy="212.67" r="3" fill="#ec3a40"/><circle cx="453.11" cy="212.39" r="3" fill="#ec3a40"/><circle cx="454.02" cy="212.1" r="3" fill="#ec3a40"/><circle cx="454.93" cy="211.81" r="3" fill="#ec3a40"/><circle cx="455.83" cy="211.51" r="3" fill="#ec3a40"/><circle cx="456.74" cy="211.2" r="3" fill="#ec3a40"/><circle cx="457.65" cy="210.88" r="3" fill="#ec3a40"/><circle cx="458.55" cy="210.55" r="3" fill="#ec3a40"/><circle cx="459.46" cy="210.2" r="3" fill="#ec3a40"/><circle cx="460.37" cy="209.84" r="3" fill="#ec3a40"/><circle cx="461.28" cy="209.46" r="3" fill="#ec3a40"/><circle cx="462.18" cy="209.07" r="3" fill="#ec3a40"/><circle cx="463.09" cy="208.67" r="3" fill="#ec3a40"/><circle cx="464" cy="208.25" r="3" fill="#ec3a40"/><circle cx="464.9" cy="207.81" r="3" fill="#ec3a40"/><circle cx="465.81" cy="207.36" r="3" fill="#ec3a40"/><circle cx="466.72" cy="206.89" r="3" fill="#ec3a40"/><circle cx="467.63" cy="206.41" r="3" fill="#ec3a40"/><circle cx="468.53" cy="205.9" r="3" fill="#ec3a40"/><circle cx="469.44" cy="205.38" r="3" fill="#ec3a40"/><circle cx="470.35" cy="204.83" r="3" fill="#ec3a40"/><circle cx="471.26" cy="204.27" r="3" fill="#ec3a40"/><circle cx="472.16" cy="203.67" r="3" fill="#ec3a40"/><circle cx="473.07" cy="203.03" r="3" fill="#ec3a40"/><circle cx="473.98" cy="202.35" r="3" fill="#ec3a40"/><circle cx="474.88" cy="201.61" r="3" fill="#ec3a40"/><circle cx="475.79" cy="200.82" r="3" fill="#ec3a40"/><circle cx="476.7" cy="199.95" r="3" fill="#ec3a40"/><circle cx="477.61" cy="198.98" r="3" fill="#ec3a40"/><circle cx="478.51" cy="197.88" r="3" fill="#ec3a40"/><circle cx="479.42" cy="196.67" r="3" fill="#ec3a40"/><circle cx="480.33" cy="195.37" r="3" fill="#ec3a40"/><circle cx="481.23" cy="193.98" r="3" fill="#ec3a40"/><circle cx="482.14" cy="192.47" r="3" fill="#ec3a40"/><circle cx="483.05" cy="190.82" r="3" fill="#ec3a40"/><circle cx="483.96" cy="189.05" r="3" fill="#ec3a40"/><circle cx="484.86" cy="187.17" r="3" fill="#ec3a40"/><circle cx="485.77" cy="185.2" r="3" fill="#ec3a40"/><circle cx="486.68" cy="183.15" r="3" fill="#ec3a40"/><circle cx="487.58" cy="181.04" r="3" fill="#ec3a40"/><circle cx="488.49" cy="178.9" r="3" fill="#ec3a40"/><circle cx="489.4" cy="176.7" r="3" fill="#ec3a40"/><circle cx="490.31" cy="174.34" r="3" fill="#ec3a40"/><circle cx="491.21" cy="171.73" r="3" fill="#ec3a40"/><circle cx="492.12" cy="168.78" r="3" fill="#ec3a40"/><circle cx="493.03" cy="165.28" r="3" fill="#ec3a40"/><circle cx="493.94" cy="160.49" r="3" fill="#ec3a40"/><circle cx="494.84" cy="155.08" r="3" fill="#ec3a40"/><circle cx="495.75" cy="150.1" r="3" fill="#ec3a40"/><circle cx="496.66" cy="146.01" r="3" fill="#ec3a40"/><circle cx="497.56" cy="142.16" r="3" fill="#ec3a40"/><circle cx="498.47" cy="138.09" r="3" fill="#ec3a40"/><circle cx="499.38" cy="133.87" r="3" fill="#ec3a40"/><circle cx="500.29" cy="129.57" r="3" fill="#ec3a40"/><circle cx="501.19" cy="125.2" r="3" fill="#ec3a40"/><circle cx="502.1" cy="120.79" r="3" fill="#ec3a40"/><circle cx="503.01" cy="116.34" r="3" fill="#ec3a40"/><circle cx="503.91" cy="111.88" r="3" fill="#ec3a40"/><circle cx="504.82" cy="107.37" r="3" fill="#ec3a40"/><circle cx="505.73" cy="102.64" r="3" fill="#ec3a40"/><circle cx="506.64" cy="97.81" r="3" fill="#ec3a40"/><circle cx="507.54" cy="92.99" r="3" fill="#ec3a40"/><circle cx="508.45" cy="88.32" r="3" fill="#ec3a40"/><circle cx="509.36" cy="83.94" r="3" fill="#ec3a40"/><circle cx="510.26" cy="79.97" r="3" fill="#ec3a40"/><circle cx="511.17" cy="76.29" r="3" fill="#ec3a40"/><circle cx="512.08" cy="72.73" r="3" fill="#ec3a40"/><circle cx="512.99" cy="69.29" r="3" fill="#ec3a40"/><circle cx="513.89" cy="65.99" r="3" fill="#ec3a40"/><circle cx="514.8" cy="62.83" r="3" fill="#ec3a40"/><circle cx="515.71" cy="59.82" r="3" fill="#ec3a40"/><circle cx="516.62" cy="56.97" r="3" fill="#ec3a40"/><circle cx="517.52" cy="54.29" r="3" fill="#ec3a40"/><circle cx="518.43" cy="51.8" r="3" fill="#ec3a40"/><circle cx="519.34" cy="49.48" r="3" fill="#ec3a40"/><circle cx="520.24" cy="47.31" r="3" fill="#ec3a40"/><circle cx="521.15" cy="45.28" r="3" fill="#ec3a40"/><circle cx="522.06" cy="43.37" r="3" fill="#ec3a40"/><circle cx="522.97" cy="41.61" r="3" fill="#ec3a40"/><circle cx="523.87" cy="39.97" r="3" fill="#ec3a40"/><circle cx="524.78" cy="38.47" r="3" fill="#ec3a40"/><circle cx="525.69" cy="37.11" r="3" fill="#ec3a40"/><circle cx="526.59" cy="35.85" r="3" fill="#ec3a40"/><circle cx="527.5" cy="34.67" r="3" fill="#ec3a40"/><circle cx="528.41" cy="33.54" r="3" fill="#ec3a40"/><circle cx="529.32" cy="32.43" r="3" fill="#ec3a40"/><circle cx="530.22" cy="31.3" r="3" fill="#ec3a40"/><circle cx="531.13" cy="30.12" r="3" fill="#ec3a40"/><circle cx="532.04" cy="28.88" r="3" fill="#ec3a40"/><circle cx="532.94" cy="27.61" r="3" fill="#ec3a40"/><circle cx="533.85" cy="26.4" r="3" fill="#ec3a40"/><circle cx="534.76" cy="25.3" r="3" fill="#ec3a40"/><circle cx="535.67" cy="24.39" r="3" fill="#ec3a40"/><circle cx="536.57" cy="23.66" r="3" fill="#ec3a40"/><circle cx="537.48" cy="22.94" r="3" fill="#ec3a40"/><circle cx="538.39" cy="22.27" r="3" fill="#ec3a40"/><circle cx="539.3" cy="21.68" r="3" fill="#ec3a40"/><circle cx="540.2" cy="21.22" r="3" fill="#ec3a40"/><circle cx="541.11" cy="20.95" r="3" fill="#ec3a40"/><circle cx="542.02" cy="20.89" r="3" fill="#ec3a40"/><circle cx="542.92" cy="20.9" r="3" fill="#ec3a40"/><circle cx="543.83" cy="20.91" r="3" fill="#ec3a40"/><circle cx="544.74" cy="20.93" r="3" fill="#ec3a40"/><circle cx="545.65" cy="20.95" r="3" fill="#ec3a40"/><circle cx="546.55" cy="20.98" r="3" fill="#ec3a40"/><circle cx="547.46" cy="21.02" r="3" fill="#ec3a40"/><circle cx="548.37" cy="21.06" r="3" fill="#ec3a40"/><circle cx="549.27" cy="21.14" r="3" fill="#ec3a40"/><circle cx="550.18" cy="21.6" r="3" fill="#ec3a40"/><circle cx="551.09" cy="22.47" r="3" fill="#ec3a40"/><circle cx="552" cy="23.61" r="3" fill="#ec3a40"/><circle cx="552.9" cy="24.92" r="3" fill="#ec3a40"/><circle cx="553.81" cy="26.37" r="3" fill="#ec3a40"/><circle cx="554.72" cy="28.41" r="3" fill="#ec3a40"/><circle cx="555.62" cy="30.93" r="3" fill="#ec3a40"/><circle cx="556.53" cy="33.68" r="3" fill="#ec3a40"/><circle cx="557.44" cy="36.67" r="3" fill="#ec3a40"/><circle cx="558.35" cy="40.06" r="3" fill="#ec3a40"/><circle cx="559.25" cy="43.72" r="3" fill="#ec3a40"/><circle cx="560.16" cy="47.54" r="3" fill="#ec3a40"/><circle cx="561.07" cy="51.42" r="3" fill="#ec3a40"/><circle cx="561.98" cy="55.48" r="3" fill="#ec3a40"/><circle cx="562.88" cy="59.71" r="3" fill="#ec3a40"/><circle cx="563.79" cy="64.07" r="3" fill="#ec3a40"/><circle cx="564.7" cy="68.53" r="3" fill="#ec3a40"/><circle cx="565.6" cy="73.05" r="3" fill="#ec3a40"/><circle cx="566.51" cy="77.59" r="3" fill="#ec3a40"/><circle cx="567.42" cy="82.14" r="3" fill="#ec3a40"/><circle cx="568.33" cy="86.79" r="3" fill="#ec3a40"/><circle cx="569.23" cy="91.54" r="3" fill="#ec3a40"/><circle cx="570.14" cy="96.33" r="3" fill="#ec3a40"/><circle cx="571.05" cy="101.1" r="3" fill="#ec3a40"/><circle cx="571.95" cy="105.81" r="3" fill="#ec3a40"/><circle cx="572.86" cy="110.4" r="3" fill="#ec3a40"/><circle cx="573.77" cy="114.95" r="3" fill="#ec3a40"/><circle cx="574.68" cy="119.5" r="3" fill="#ec3a40"/><circle cx="575.58" cy="124.01" r="3" fill="#ec3a40"/><circle cx="576.49" cy="128.44" r="3" fill="#ec3a40"/><circle cx="577.4" cy="132.75" r="3" fill="#ec3a40"/><circle cx="578.3" cy="136.88" r="3" fill="#ec3a40"/><circle cx="579.21" cy="140.79" r="3" fill="#ec3a40"/><circle cx="580.12" cy="144.38" r="3" fill="#ec3a40"/><circle cx="581.03" cy="147.81" r="3" fill="#ec3a40"/><circle cx="581.93" cy="151.34" r="3" fill="#ec3a40"/><circle cx="582.84" cy="155.06" r="3" fill="#ec3a40"/><circle cx="583.75" cy="158.86" r="3" fill="#ec3a40"/><circle cx="584.66" cy="162.62" r="3" fill="#ec3a40"/><circle cx="585.56" cy="166.21" r="3" fill="#ec3a40"/><circle cx="586.47" cy="169.51" r="3" fill="#ec3a40"/><circle cx="587.38" cy="172.46" r="3" fill="#ec3a40"/><circle cx="588.28" cy="175.27" r="3" fill="#ec3a40"/><circle cx="589.19" cy="177.96" r="3" fill="#ec3a40"/><circle cx="590.1" cy="180.5" r="3" fill="#ec3a40"/><circle cx="591.01" cy="182.88" r="3" fill="#ec3a40"/><circle cx="591.91" cy="185.07" r="3" fill="#ec3a40"/><circle cx="592.82" cy="187.07" r="3" fill="#ec3a40"/><circle cx="593.73" cy="188.84" r="3" fill="#ec3a40"/><circle cx="594.63" cy="190.44" r="3" fill="#ec3a40"/><circle cx="595.54" cy="191.88" r="3" fill="#ec3a40"/><circle cx="596.45" cy="193.22" r="3" fill="#ec3a40"/><circle cx="597.36" cy="194.49" r="3" fill="#ec3a40"/><circle cx="598.26" cy="195.71" r="3" fill="#ec3a40"/><circle cx="599.17" cy="196.85" r="3" fill="#ec3a40"/><circle cx="600.08" cy="197.87" r="3" fill="#ec3a40"/><circle cx="600.98" cy="198.72" r="3" fill="#ec3a40"/><circle cx="601.89" cy="199.44" r="3" fill="#ec3a40"/><circle cx="602.8" cy="200.09" r="3" fill="#ec3a40"/><circle cx="603.71" cy="200.7" r="3" fill="#ec3a40"/><circle cx="604.61" cy="201.3" r="3" fill="#ec3a40"/><circle cx="605.52" cy="201.9" r="3" fill="#ec3a40"/><circle cx="606.43" cy="202.46" r="3" fill="#ec3a40"/><circle cx="607.34" cy="203.02" r="3" fill="#ec3a40"/><circle cx="608.24" cy="203.61" r="3" fill="#ec3a40"/><circle cx="609.15" cy="204.25" r="3" fill="#ec3a40"/><circle cx="610.06" cy="204.94" r="3" fill="#ec3a40"/><circle cx="610.96" cy="205.67" r="3" fill="#ec3a40"/><circle cx="611.87" cy="206.44" r="3" fill="#ec3a40"/><circle cx="612.78" cy="207.25" r="3" fill="#ec3a40"/><circle cx="613.69" cy="208.09" r="3" fill="#ec3a40"/>
<circle cx="449" cy="200.6" r="3" fill="#ec3a40"/>
<circle cx="448.3" cy="205.6" r="3" fill="#ec3a40"/>
<circle cx="450" cy="211" r="3" fill="#ec3a40"/>
<circle cx="445" cy="217.8" r="3" fill="#ec3a40"/>
<path d="M452.51 210.81 L453.41 210.53 L454.32 210.24 L455.23 209.95 L456.14 209.65 L457.04 209.34 L457.95 209.03 L458.86 208.71 L459.76 208.39 L460.67 208.06 L461.58 207.72 L462.49 207.39 L463.39 207.05 L464.3 206.72 L465.21 206.37 L466.11 206.02 L467.02 205.66 L467.93 205.29 L468.84 204.9 L469.74 204.5 L470.65 204.07 L471.56 203.63 L472.46 203.16 L473.37 202.66 L474.28 202.14 L475.19 201.58 L476.09 200.96 L477 200.27 L477.91 199.51 L478.82 198.61 L479.72 197.53 L480.63 196.32 L481.54 195.01 L482.44 193.62 L483.35 192.13 L484.26 190.51 L485.17 188.76 L486.07 186.9 L486.98 184.94 L487.89 182.9 L488.79 180.8 L489.7 178.67 L490.61 176.48 L491.52 174.16 L492.42 171.59 L493.33 168.7 L494.24 165.36 L495.14 160.76 L496.05 155.39 L496.96 150.26 L497.87 146.06 L498.77 142.21 L499.68 138.19 L500.59 133.99 L501.5 129.7 L502.4 125.34 L503.31 120.93 L504.22 116.49 L505.12 112.03 L506.03 107.54 L506.94 102.85 L507.85 98.02 L508.75 93.19 L509.66 88.49 L510.57 84.05 L511.47 80 L512.38 76.3 L513.29 72.72 L514.2 69.26 L515.1 65.93 L516.01 62.75 L516.92 59.71 L517.82 56.84 L518.73 54.13 L519.64 51.61 L520.55 49.26 L521.45 47.07 L522.36 45.01 L523.27 43.09 L524.18 41.3 L525.08 39.64 L525.99 38.12 L526.9 36.73 L527.8 35.46 L528.71 34.27 L529.62 33.13 L530.53 32.02 L531.43 30.89 L532.34 29.73 L533.25 28.49 L534.15 27.23 L535.06 26 L535.97 24.88 L536.88 23.93 L537.78 23.18 L538.69 22.46 L539.6 21.78 L540.5 21.17 L541.41 20.69 L542.32 20.39 L543.23 20.3 L544.13 20.3 L545.04 20.31 L545.95 20.33 L546.86 20.35 L547.76 20.38 L548.67 20.41 L549.58 20.46 L550.48 20.51 L551.39 20.9 L552.3 21.7 L553.21 22.81 L554.11 24.1 L555.02 25.5 L555.93 27.44 L556.83 29.9 L557.74 32.62 L558.65 35.55 L559.56 38.88 L560.46 42.5 L561.37 46.3 L562.28 50.17 L563.18 54.19 L564.09 58.39 L565 62.74 L565.91 67.19 L566.81 71.7 L567.72 76.24 L568.63 80.78 L569.54 85.41 L570.44 90.15 L571.35 94.93 L572.26 99.71 L573.16 104.43 L574.07 109.05 L574.98 113.59 L575.89 118.15 L576.79 122.67 L577.7 127.12 L578.61 131.44 L579.51 135.61 L580.42 139.56 L581.33 143.2 L582.24 146.64 L583.14 150.14 L584.05 153.84 L584.96 157.63 L585.86 161.4 L586.77 165.03 L587.68 168.39 L588.59 171.39 L589.49 174.22 L590.4 176.92 L591.31 179.49 L592.22 181.9 L593.12 184.13 L594.03 186.15 L594.94 187.97 L595.84 189.59 L596.75 191.06 L597.66 192.41 L598.57 193.68 L599.47 194.91 L600.38 196.08 L601.29 197.12 L602.19 197.99 L603.1 198.73 L604.01 199.39 L604.92 200 L605.82 200.61 L606.73 201.21 L607.64 201.78 L608.54 202.33 L609.45 202.91 L610.36 203.54 L611.27 204.23 L612.17 204.95 L613.08 205.72 L613.99 206.52 L614.9 207.36" fill="none" stroke="#9cc0f0" stroke-width="0.8"/><path d="M452.51 207.09L456.23 213.29L448.79 213.29Z" fill="#1d68de"/><path d="M453.41 206.81L457.13 213.01L449.69 213.01Z" fill="#1d68de"/><path d="M454.32 206.52L458.04 212.72L450.6 212.72Z" fill="#1d68de"/><path d="M455.23 206.23L458.95 212.43L451.51 212.43Z" fill="#1d68de"/><path d="M456.14 205.93L459.86 212.13L452.42 212.13Z" fill="#1d68de"/><path d="M457.04 205.62L460.76 211.82L453.32 211.82Z" fill="#1d68de"/><path d="M457.95 205.31L461.67 211.51L454.23 211.51Z" fill="#1d68de"/><path d="M458.86 204.99L462.58 211.19L455.14 211.19Z" fill="#1d68de"/><path d="M459.76 204.67L463.48 210.87L456.04 210.87Z" fill="#1d68de"/><path d="M460.67 204.34L464.39 210.54L456.95 210.54Z" fill="#1d68de"/><path d="M461.58 204L465.3 210.2L457.86 210.2Z" fill="#1d68de"/><path d="M462.49 203.67L466.21 209.87L458.77 209.87Z" fill="#1d68de"/><path d="M463.39 203.33L467.11 209.53L459.67 209.53Z" fill="#1d68de"/><path d="M464.3 203L468.02 209.2L460.58 209.2Z" fill="#1d68de"/><path d="M465.21 202.65L468.93 208.85L461.49 208.85Z" fill="#1d68de"/><path d="M466.11 202.3L469.83 208.5L462.39 208.5Z" fill="#1d68de"/><path d="M467.02 201.94L470.74 208.14L463.3 208.14Z" fill="#1d68de"/><path d="M467.93 201.57L471.65 207.77L464.21 207.77Z" fill="#1d68de"/><path d="M468.84 201.18L472.56 207.38L465.12 207.38Z" fill="#1d68de"/><path d="M469.74 200.78L473.46 206.98L466.02 206.98Z" fill="#1d68de"/><path d="M470.65 200.35L474.37 206.55L466.93 206.55Z" fill="#1d68de"/><path d="M471.56 199.91L475.28 206.11L467.84 206.11Z" fill="#1d68de"/><path d="M472.46 199.44L476.18 205.64L468.74 205.64Z" fill="#1d68de"/><path d="M473.37 198.94L477.09 205.14L469.65 205.14Z" fill="#1d68de"/><path d="M474.28 198.42L478 204.62L470.56 204.62Z" fill="#1d68de"/><path d="M475.19 197.86L478.91 204.06L471.47 204.06Z" fill="#1d68de"/><path d="M476.09 197.24L479.81 203.44L472.37 203.44Z" fill="#1d68de"/><path d="M477 196.55L480.72 202.75L473.28 202.75Z" fill="#1d68de"/><path d="M477.91 195.79L481.63 201.99L474.19 201.99Z" fill="#1d68de"/><path d="M478.82 194.89L482.54 201.09L475.1 201.09Z" fill="#1d68de"/><path d="M479.72 193.81L483.44 200.01L476 200.01Z" fill="#1d68de"/><path d="M480.63 192.6L484.35 198.8L476.91 198.8Z" fill="#1d68de"/><path d="M481.54 191.29L485.26 197.49L477.82 197.49Z" fill="#1d68de"/><path d="M482.44 189.9L486.16 196.1L478.72 196.1Z" fill="#1d68de"/><path d="M483.35 188.41L487.07 194.61L479.63 194.61Z" fill="#1d68de"/><path d="M484.26 186.79L487.98 192.99L480.54 192.99Z" fill="#1d68de"/><path d="M485.17 185.04L488.89 191.24L481.45 191.24Z" fill="#1d68de"/><path d="M486.07 183.18L489.79 189.38L482.35 189.38Z" fill="#1d68de"/><path d="M486.98 181.22L490.7 187.42L483.26 187.42Z" fill="#1d68de"/><path d="M487.89 179.18L491.61 185.38L484.17 185.38Z" fill="#1d68de"/><path d="M488.79 177.08L492.51 183.28L485.07 183.28Z" fill="#1d68de"/><path d="M489.7 174.95L493.42 181.15L485.98 181.15Z" fill="#1d68de"/><path d="M490.61 172.76L494.33 178.96L486.89 178.96Z" fill="#1d68de"/><path d="M491.52 170.44L495.24 176.64L487.8 176.64Z" fill="#1d68de"/><path d="M492.42 167.87L496.14 174.07L488.7 174.07Z" fill="#1d68de"/><path d="M493.33 164.98L497.05 171.18L489.61 171.18Z" fill="#1d68de"/><path d="M494.24 161.64L497.96 167.84L490.52 167.84Z" fill="#1d68de"/><path d="M495.14 157.04L498.86 163.24L491.42 163.24Z" fill="#1d68de"/><path d="M496.05 151.67L499.77 157.87L492.33 157.87Z" fill="#1d68de"/><path d="M496.96 146.54L500.68 152.74L493.24 152.74Z" fill="#1d68de"/><path d="M497.87 142.34L501.59 148.54L494.15 148.54Z" fill="#1d68de"/><path d="M498.77 138.49L502.49 144.69L495.05 144.69Z" fill="#1d68de"/><path d="M499.68 134.47L503.4 140.67L495.96 140.67Z" fill="#1d68de"/><path d="M500.59 130.27L504.31 136.47L496.87 136.47Z" fill="#1d68de"/><path d="M501.5 125.98L505.22 132.18L497.78 132.18Z" fill="#1d68de"/><path d="M502.4 121.62L506.12 127.82L498.68 127.82Z" fill="#1d68de"/><path d="M503.31 117.21L507.03 123.41L499.59 123.41Z" fill="#1d68de"/><path d="M504.22 112.77L507.94 118.97L500.5 118.97Z" fill="#1d68de"/><path d="M505.12 108.31L508.84 114.51L501.4 114.51Z" fill="#1d68de"/><path d="M506.03 103.82L509.75 110.02L502.31 110.02Z" fill="#1d68de"/><path d="M506.94 99.13L510.66 105.33L503.22 105.33Z" fill="#1d68de"/><path d="M507.85 94.3L511.57 100.5L504.13 100.5Z" fill="#1d68de"/><path d="M508.75 89.47L512.47 95.67L505.03 95.67Z" fill="#1d68de"/><path d="M509.66 84.77L513.38 90.97L505.94 90.97Z" fill="#1d68de"/><path d="M510.57 80.33L514.29 86.53L506.85 86.53Z" fill="#1d68de"/><path d="M511.47 76.28L515.19 82.48L507.75 82.48Z" fill="#1d68de"/><path d="M512.38 72.58L516.1 78.78L508.66 78.78Z" fill="#1d68de"/><path d="M513.29 69L517.01 75.2L509.57 75.2Z" fill="#1d68de"/><path d="M514.2 65.54L517.92 71.74L510.48 71.74Z" fill="#1d68de"/><path d="M515.1 62.21L518.82 68.41L511.38 68.41Z" fill="#1d68de"/><path d="M516.01 59.03L519.73 65.23L512.29 65.23Z" fill="#1d68de"/><path d="M516.92 55.99L520.64 62.19L513.2 62.19Z" fill="#1d68de"/><path d="M517.82 53.12L521.54 59.32L514.1 59.32Z" fill="#1d68de"/><path d="M518.73 50.41L522.45 56.61L515.01 56.61Z" fill="#1d68de"/><path d="M519.64 47.89L523.36 54.09L515.92 54.09Z" fill="#1d68de"/><path d="M520.55 45.54L524.27 51.74L516.83 51.74Z" fill="#1d68de"/><path d="M521.45 43.35L525.17 49.55L517.73 49.55Z" fill="#1d68de"/><path d="M522.36 41.29L526.08 47.49L518.64 47.49Z" fill="#1d68de"/><path d="M523.27 39.37L526.99 45.57L519.55 45.57Z" fill="#1d68de"/><path d="M524.18 37.58L527.9 43.78L520.46 43.78Z" fill="#1d68de"/><path d="M525.08 35.92L528.8 42.12L521.36 42.12Z" fill="#1d68de"/><path d="M525.99 34.4L529.71 40.6L522.27 40.6Z" fill="#1d68de"/><path d="M526.9 33.01L530.62 39.21L523.18 39.21Z" fill="#1d68de"/><path d="M527.8 31.74L531.52 37.94L524.08 37.94Z" fill="#1d68de"/><path d="M528.71 30.55L532.43 36.75L524.99 36.75Z" fill="#1d68de"/><path d="M529.62 29.41L533.34 35.61L525.9 35.61Z" fill="#1d68de"/><path d="M530.53 28.3L534.25 34.5L526.81 34.5Z" fill="#1d68de"/><path d="M531.43 27.17L535.15 33.37L527.71 33.37Z" fill="#1d68de"/><path d="M532.34 26.01L536.06 32.21L528.62 32.21Z" fill="#1d68de"/><path d="M533.25 24.77L536.97 30.97L529.53 30.97Z" fill="#1d68de"/><path d="M534.15 23.51L537.87 29.71L530.43 29.71Z" fill="#1d68de"/><path d="M535.06 22.28L538.78 28.48L531.34 28.48Z" fill="#1d68de"/><path d="M535.97 21.16L539.69 27.36L532.25 27.36Z" fill="#1d68de"/><path d="M536.88 20.21L540.6 26.41L533.16 26.41Z" fill="#1d68de"/><path d="M537.78 19.46L541.5 25.66L534.06 25.66Z" fill="#1d68de"/><path d="M538.69 18.74L542.41 24.94L534.97 24.94Z" fill="#1d68de"/><path d="M539.6 18.06L543.32 24.26L535.88 24.26Z" fill="#1d68de"/><path d="M540.5 17.45L544.22 23.65L536.78 23.65Z" fill="#1d68de"/><path d="M541.41 16.97L545.13 23.17L537.69 23.17Z" fill="#1d68de"/><path d="M542.32 16.67L546.04 22.87L538.6 22.87Z" fill="#1d68de"/><path d="M543.23 16.58L546.95 22.78L539.51 22.78Z" fill="#1d68de"/><path d="M544.13 16.58L547.85 22.78L540.41 22.78Z" fill="#1d68de"/><path d="M545.04 16.59L548.76 22.79L541.32 22.79Z" fill="#1d68de"/><path d="M545.95 16.61L549.67 22.81L542.23 22.81Z" fill="#1d68de"/><path d="M546.86 16.63L550.58 22.83L543.14 22.83Z" fill="#1d68de"/><path d="M547.76 16.66L551.48 22.86L544.04 22.86Z" fill="#1d68de"/><path d="M548.67 16.69L552.39 22.89L544.95 22.89Z" fill="#1d68de"/><path d="M549.58 16.74L553.3 22.94L545.86 22.94Z" fill="#1d68de"/><path d="M550.48 16.79L554.2 22.99L546.76 22.99Z" fill="#1d68de"/><path d="M551.39 17.18L555.11 23.38L547.67 23.38Z" fill="#1d68de"/><path d="M552.3 17.98L556.02 24.18L548.58 24.18Z" fill="#1d68de"/><path d="M553.21 19.09L556.93 25.29L549.49 25.29Z" fill="#1d68de"/><path d="M554.11 20.38L557.83 26.58L550.39 26.58Z" fill="#1d68de"/><path d="M555.02 21.78L558.74 27.98L551.3 27.98Z" fill="#1d68de"/><path d="M555.93 23.72L559.65 29.92L552.21 29.92Z" fill="#1d68de"/><path d="M556.83 26.18L560.55 32.38L553.11 32.38Z" fill="#1d68de"/><path d="M557.74 28.9L561.46 35.1L554.02 35.1Z" fill="#1d68de"/><path d="M558.65 31.83L562.37 38.03L554.93 38.03Z" fill="#1d68de"/><path d="M559.56 35.16L563.28 41.36L555.84 41.36Z" fill="#1d68de"/><path d="M560.46 38.78L564.18 44.98L556.74 44.98Z" fill="#1d68de"/><path d="M561.37 42.58L565.09 48.78L557.65 48.78Z" fill="#1d68de"/><path d="M562.28 46.45L566 52.65L558.56 52.65Z" fill="#1d68de"/><path d="M563.18 50.47L566.9 56.67L559.46 56.67Z" fill="#1d68de"/><path d="M564.09 54.67L567.81 60.87L560.37 60.87Z" fill="#1d68de"/><path d="M565 59.02L568.72 65.22L561.28 65.22Z" fill="#1d68de"/><path d="M565.91 63.47L569.63 69.67L562.19 69.67Z" fill="#1d68de"/><path d="M566.81 67.98L570.53 74.18L563.09 74.18Z" fill="#1d68de"/><path d="M567.72 72.52L571.44 78.72L564 78.72Z" fill="#1d68de"/><path d="M568.63 77.06L572.35 83.26L564.91 83.26Z" fill="#1d68de"/><path d="M569.54 81.69L573.26 87.89L565.82 87.89Z" fill="#1d68de"/><path d="M570.44 86.43L574.16 92.63L566.72 92.63Z" fill="#1d68de"/><path d="M571.35 91.21L575.07 97.41L567.63 97.41Z" fill="#1d68de"/><path d="M572.26 95.99L575.98 102.19L568.54 102.19Z" fill="#1d68de"/><path d="M573.16 100.71L576.88 106.91L569.44 106.91Z" fill="#1d68de"/><path d="M574.07 105.33L577.79 111.53L570.35 111.53Z" fill="#1d68de"/><path d="M574.98 109.87L578.7 116.07L571.26 116.07Z" fill="#1d68de"/><path d="M575.89 114.43L579.61 120.63L572.17 120.63Z" fill="#1d68de"/><path d="M576.79 118.95L580.51 125.15L573.07 125.15Z" fill="#1d68de"/><path d="M577.7 123.4L581.42 129.6L573.98 129.6Z" fill="#1d68de"/><path d="M578.61 127.72L582.33 133.92L574.89 133.92Z" fill="#1d68de"/><path d="M579.51 131.89L583.23 138.09L575.79 138.09Z" fill="#1d68de"/><path d="M580.42 135.84L584.14 142.04L576.7 142.04Z" fill="#1d68de"/><path d="M581.33 139.48L585.05 145.68L577.61 145.68Z" fill="#1d68de"/><path d="M582.24 142.92L585.96 149.12L578.52 149.12Z" fill="#1d68de"/><path d="M583.14 146.42L586.86 152.62L579.42 152.62Z" fill="#1d68de"/><path d="M584.05 150.12L587.77 156.32L580.33 156.32Z" fill="#1d68de"/><path d="M584.96 153.91L588.68 160.11L581.24 160.11Z" fill="#1d68de"/><path d="M585.86 157.68L589.58 163.88L582.14 163.88Z" fill="#1d68de"/><path d="M586.77 161.31L590.49 167.51L583.05 167.51Z" fill="#1d68de"/><path d="M587.68 164.67L591.4 170.87L583.96 170.87Z" fill="#1d68de"/><path d="M588.59 167.67L592.31 173.87L584.87 173.87Z" fill="#1d68de"/><path d="M589.49 170.5L593.21 176.7L585.77 176.7Z" fill="#1d68de"/><path d="M590.4 173.2L594.12 179.4L586.68 179.4Z" fill="#1d68de"/><path d="M591.31 175.77L595.03 181.97L587.59 181.97Z" fill="#1d68de"/><path d="M592.22 178.18L595.94 184.38L588.5 184.38Z" fill="#1d68de"/><path d="M593.12 180.41L596.84 186.61L589.4 186.61Z" fill="#1d68de"/><path d="M594.03 182.43L597.75 188.63L590.31 188.63Z" fill="#1d68de"/><path d="M594.94 184.25L598.66 190.45L591.22 190.45Z" fill="#1d68de"/><path d="M595.84 185.87L599.56 192.07L592.12 192.07Z" fill="#1d68de"/><path d="M596.75 187.34L600.47 193.54L593.03 193.54Z" fill="#1d68de"/><path d="M597.66 188.69L601.38 194.89L593.94 194.89Z" fill="#1d68de"/><path d="M598.57 189.96L602.29 196.16L594.85 196.16Z" fill="#1d68de"/><path d="M599.47 191.19L603.19 197.39L595.75 197.39Z" fill="#1d68de"/><path d="M600.38 192.36L604.1 198.56L596.66 198.56Z" fill="#1d68de"/><path d="M601.29 193.4L605.01 199.6L597.57 199.6Z" fill="#1d68de"/><path d="M602.19 194.27L605.91 200.47L598.47 200.47Z" fill="#1d68de"/><path d="M603.1 195.01L606.82 201.21L599.38 201.21Z" fill="#1d68de"/><path d="M604.01 195.67L607.73 201.87L600.29 201.87Z" fill="#1d68de"/><path d="M604.92 196.28L608.64 202.48L601.2 202.48Z" fill="#1d68de"/><path d="M605.82 196.89L609.54 203.09L602.1 203.09Z" fill="#1d68de"/><path d="M606.73 197.49L610.45 203.69L603.01 203.69Z" fill="#1d68de"/><path d="M607.64 198.06L611.36 204.26L603.92 204.26Z" fill="#1d68de"/><path d="M608.54 198.61L612.26 204.81L604.82 204.81Z" fill="#1d68de"/><path d="M609.45 199.19L613.17 205.39L605.73 205.39Z" fill="#1d68de"/><path d="M610.36 199.82L614.08 206.02L606.64 206.02Z" fill="#1d68de"/><path d="M611.27 200.51L614.99 206.71L607.55 206.71Z" fill="#1d68de"/><path d="M612.17 201.23L615.89 207.43L608.45 207.43Z" fill="#1d68de"/><path d="M613.08 202L616.8 208.2L609.36 208.2Z" fill="#1d68de"/><path d="M613.99 202.8L617.71 209L610.27 209Z" fill="#1d68de"/><path d="M614.9 203.64L618.62 209.84L611.18 209.84Z" fill="#1d68de"/>
<path d="M443.74 215.37 L444.64 215.13 L445.55 214.9 L446.46 214.65 L447.37 214.4 L448.27 214.15 L449.18 213.89 L450.09 213.62 L450.99 213.35 L451.9 213.08 L452.81 212.8 L453.72 212.52 L454.62 212.23 L455.53 211.95 L456.44 211.65 L457.34 211.34 L458.25 211.03 L459.16 210.7 L460.07 210.36 L460.97 210 L461.88 209.63 L462.79 209.25 L463.7 208.85 L464.6 208.44 L465.51 208.01 L466.42 207.57 L467.32 207.11 L468.23 206.63 L469.14 206.14 L470.05 205.62 L470.95 205.09 L471.86 204.53 L472.77 203.95 L473.67 203.33 L474.58 202.67 L475.49 201.96 L476.4 201.19 L477.3 200.36 L478.21 199.44 L479.12 198.39 L480.02 197.24 L480.93 195.97 L481.84 194.62 L482.75 193.18 L483.65 191.59 L484.56 189.87 L485.47 188.05 L486.38 186.12 L487.28 184.1 L488.19 182.01 L489.1 179.89 L490 177.73 L490.91 175.45 L491.82 172.97 L492.73 170.18 L493.63 167 L494.54 162.82 L495.45 157.57 L496.35 152.27 L497.26 147.82 L498.17 143.93 L499.08 139.99 L499.98 135.82 L500.89 131.55 L501.8 127.21 L502.7 122.82 L503.61 118.38 L504.52 113.93 L505.43 109.46 L506.33 104.83 L507.24 100.03 L508.15 95.19 L509.06 90.44 L509.96 85.91 L510.87 81.73 L511.78 77.96 L512.68 74.35 L513.59 70.85 L514.5 67.49 L515.41 64.26 L516.31 61.18 L517.22 58.25 L518.13 55.5 L519.03 52.92 L519.94 50.52 L520.85 48.29 L521.76 46.19 L522.66 44.23 L523.57 42.4 L524.48 40.7 L525.38 39.14 L526.29 37.72 L527.2 36.41 L528.11 35.2 L529.01 34.05 L529.92 32.94 L530.83 31.82 L531.74 30.67 L532.64 29.45 L533.55 28.19 L534.46 26.95 L535.36 25.79 L536.27 24.78 L537.18 23.98 L538.09 23.27 L538.99 22.57 L539.9 21.93 L540.81 21.41 L541.71 21.05 L542.62 20.9 L543.53 20.9 L544.44 20.9 L545.34 20.92 L546.25 20.94 L547.16 20.96 L548.06 21 L548.97 21.04 L549.88 21.09 L550.79 21.34 L551.69 22.03 L552.6 23.06 L553.51 24.31 L554.42 25.66 L555.32 27.4 L556.23 29.74 L557.14 32.41 L558.04 35.25 L558.95 38.46 L559.86 42.01 L560.77 45.78 L561.67 49.63 L562.58 53.59 L563.49 57.75 L564.39 62.05 L565.3 66.48 L566.21 70.98 L567.12 75.51 L568.02 80.05 L568.93 84.64 L569.84 89.36 L570.74 94.13 L571.65 98.92 L572.56 103.66 L573.47 108.31 L574.37 112.86 L575.28 117.41 L576.19 121.95 L577.1 126.43 L578 130.79 L578.91 135.01 L579.82 139.03 L580.72 142.76 L581.63 146.24 L582.54 149.7 L583.45 153.34 L584.35 157.12 L585.26 160.91 L586.17 164.59 L587.07 168.04 L587.98 171.14 L588.89 174 L589.8 176.74 L590.7 179.35 L591.61 181.81 L592.52 184.09 L593.42 186.18 L594.33 188.05 L595.24 189.73 L596.15 191.24 L597.05 192.62 L597.96 193.91 L598.87 195.15 L599.78 196.34 L600.68 197.43 L601.59 198.35 L602.5 199.12 L603.4 199.8 L604.31 200.42 L605.22 201.02 L606.13 201.63 L607.03 202.21 L607.94 202.76 L608.85 203.33 L609.75 203.95 L610.66 204.61 L611.57 205.29 L612.48 206.01 L613.38 206.79 L614.29 207.63 L615.2 208.55 L616.1 209.61 L617.01 210.85 L617.92 212.26 L618.83 214.15 L619.73 216.08 L620.64 217.03 L621.55 217.67" fill="none" stroke="#a8dcb8" stroke-width="0.8"/><path d="M443.74 219.21L447.58 212.81L439.9 212.81Z" fill="#2f9e5e"/><path d="M444.64 218.97L448.48 212.57L440.8 212.57Z" fill="#2f9e5e"/><path d="M445.55 218.74L449.39 212.34L441.71 212.34Z" fill="#2f9e5e"/><path d="M446.46 218.49L450.3 212.09L442.62 212.09Z" fill="#2f9e5e"/><path d="M447.37 218.24L451.21 211.84L443.53 211.84Z" fill="#2f9e5e"/><path d="M448.27 217.99L452.11 211.59L444.43 211.59Z" fill="#2f9e5e"/><path d="M449.18 217.73L453.02 211.33L445.34 211.33Z" fill="#2f9e5e"/><path d="M450.09 217.46L453.93 211.06L446.25 211.06Z" fill="#2f9e5e"/><path d="M450.99 217.19L454.83 210.79L447.15 210.79Z" fill="#2f9e5e"/><path d="M451.9 216.92L455.74 210.52L448.06 210.52Z" fill="#2f9e5e"/><path d="M452.81 216.64L456.65 210.24L448.97 210.24Z" fill="#2f9e5e"/><path d="M453.72 216.36L457.56 209.96L449.88 209.96Z" fill="#2f9e5e"/><path d="M454.62 216.07L458.46 209.67L450.78 209.67Z" fill="#2f9e5e"/><path d="M455.53 215.79L459.37 209.39L451.69 209.39Z" fill="#2f9e5e"/><path d="M456.44 215.49L460.28 209.09L452.6 209.09Z" fill="#2f9e5e"/><path d="M457.34 215.18L461.18 208.78L453.5 208.78Z" fill="#2f9e5e"/><path d="M458.25 214.87L462.09 208.47L454.41 208.47Z" fill="#2f9e5e"/><path d="M459.16 214.54L463 208.14L455.32 208.14Z" fill="#2f9e5e"/><path d="M460.07 214.2L463.91 207.8L456.23 207.8Z" fill="#2f9e5e"/><path d="M460.97 213.84L464.81 207.44L457.13 207.44Z" fill="#2f9e5e"/><path d="M461.88 213.47L465.72 207.07L458.04 207.07Z" fill="#2f9e5e"/><path d="M462.79 213.09L466.63 206.69L458.95 206.69Z" fill="#2f9e5e"/><path d="M463.7 212.69L467.54 206.29L459.86 206.29Z" fill="#2f9e5e"/><path d="M464.6 212.28L468.44 205.88L460.76 205.88Z" fill="#2f9e5e"/><path d="M465.51 211.85L469.35 205.45L461.67 205.45Z" fill="#2f9e5e"/><path d="M466.42 211.41L470.26 205.01L462.58 205.01Z" fill="#2f9e5e"/><path d="M467.32 210.95L471.16 204.55L463.48 204.55Z" fill="#2f9e5e"/><path d="M468.23 210.47L472.07 204.07L464.39 204.07Z" fill="#2f9e5e"/><path d="M469.14 209.98L472.98 203.58L465.3 203.58Z" fill="#2f9e5e"/><path d="M470.05 209.46L473.89 203.06L466.21 203.06Z" fill="#2f9e5e"/><path d="M470.95 208.93L474.79 202.53L467.11 202.53Z" fill="#2f9e5e"/><path d="M471.86 208.37L475.7 201.97L468.02 201.97Z" fill="#2f9e5e"/><path d="M472.77 207.79L476.61 201.39L468.93 201.39Z" fill="#2f9e5e"/><path d="M473.67 207.17L477.51 200.77L469.83 200.77Z" fill="#2f9e5e"/><path d="M474.58 206.51L478.42 200.11L470.74 200.11Z" fill="#2f9e5e"/><path d="M475.49 205.8L479.33 199.4L471.65 199.4Z" fill="#2f9e5e"/><path d="M476.4 205.03L480.24 198.63L472.56 198.63Z" fill="#2f9e5e"/><path d="M477.3 204.2L481.14 197.8L473.46 197.8Z" fill="#2f9e5e"/><path d="M478.21 203.28L482.05 196.88L474.37 196.88Z" fill="#2f9e5e"/><path d="M479.12 202.23L482.96 195.83L475.28 195.83Z" fill="#2f9e5e"/><path d="M480.02 201.08L483.86 194.68L476.18 194.68Z" fill="#2f9e5e"/><path d="M480.93 199.81L484.77 193.41L477.09 193.41Z" fill="#2f9e5e"/><path d="M481.84 198.46L485.68 192.06L478 192.06Z" fill="#2f9e5e"/><path d="M482.75 197.02L486.59 190.62L478.91 190.62Z" fill="#2f9e5e"/><path d="M483.65 195.43L487.49 189.03L479.81 189.03Z" fill="#2f9e5e"/><path d="M484.56 193.71L488.4 187.31L480.72 187.31Z" fill="#2f9e5e"/><path d="M485.47 191.89L489.31 185.49L481.63 185.49Z" fill="#2f9e5e"/><path d="M486.38 189.96L490.22 183.56L482.54 183.56Z" fill="#2f9e5e"/><path d="M487.28 187.94L491.12 181.54L483.44 181.54Z" fill="#2f9e5e"/><path d="M488.19 185.85L492.03 179.45L484.35 179.45Z" fill="#2f9e5e"/><path d="M489.1 183.73L492.94 177.33L485.26 177.33Z" fill="#2f9e5e"/><path d="M490 181.57L493.84 175.17L486.16 175.17Z" fill="#2f9e5e"/><path d="M490.91 179.29L494.75 172.89L487.07 172.89Z" fill="#2f9e5e"/><path d="M491.82 176.81L495.66 170.41L487.98 170.41Z" fill="#2f9e5e"/><path d="M492.73 174.02L496.57 167.62L488.89 167.62Z" fill="#2f9e5e"/><path d="M493.63 170.84L497.47 164.44L489.79 164.44Z" fill="#2f9e5e"/><path d="M494.54 166.66L498.38 160.26L490.7 160.26Z" fill="#2f9e5e"/><path d="M495.45 161.41L499.29 155.01L491.61 155.01Z" fill="#2f9e5e"/><path d="M496.35 156.11L500.19 149.71L492.51 149.71Z" fill="#2f9e5e"/><path d="M497.26 151.66L501.1 145.26L493.42 145.26Z" fill="#2f9e5e"/><path d="M498.17 147.77L502.01 141.37L494.33 141.37Z" fill="#2f9e5e"/><path d="M499.08 143.83L502.92 137.43L495.24 137.43Z" fill="#2f9e5e"/><path d="M499.98 139.66L503.82 133.26L496.14 133.26Z" fill="#2f9e5e"/><path d="M500.89 135.39L504.73 128.99L497.05 128.99Z" fill="#2f9e5e"/><path d="M501.8 131.05L505.64 124.65L497.96 124.65Z" fill="#2f9e5e"/><path d="M502.7 126.66L506.54 120.26L498.86 120.26Z" fill="#2f9e5e"/><path d="M503.61 122.22L507.45 115.82L499.77 115.82Z" fill="#2f9e5e"/><path d="M504.52 117.77L508.36 111.37L500.68 111.37Z" fill="#2f9e5e"/><path d="M505.43 113.3L509.27 106.9L501.59 106.9Z" fill="#2f9e5e"/><path d="M506.33 108.67L510.17 102.27L502.49 102.27Z" fill="#2f9e5e"/><path d="M507.24 103.87L511.08 97.47L503.4 97.47Z" fill="#2f9e5e"/><path d="M508.15 99.03L511.99 92.63L504.31 92.63Z" fill="#2f9e5e"/><path d="M509.06 94.28L512.9 87.88L505.22 87.88Z" fill="#2f9e5e"/><path d="M509.96 89.75L513.8 83.35L506.12 83.35Z" fill="#2f9e5e"/><path d="M510.87 85.57L514.71 79.17L507.03 79.17Z" fill="#2f9e5e"/><path d="M511.78 81.8L515.62 75.4L507.94 75.4Z" fill="#2f9e5e"/><path d="M512.68 78.19L516.52 71.79L508.84 71.79Z" fill="#2f9e5e"/><path d="M513.59 74.69L517.43 68.29L509.75 68.29Z" fill="#2f9e5e"/><path d="M514.5 71.33L518.34 64.93L510.66 64.93Z" fill="#2f9e5e"/><path d="M515.41 68.1L519.25 61.7L511.57 61.7Z" fill="#2f9e5e"/><path d="M516.31 65.02L520.15 58.62L512.47 58.62Z" fill="#2f9e5e"/><path d="M517.22 62.09L521.06 55.69L513.38 55.69Z" fill="#2f9e5e"/><path d="M518.13 59.34L521.97 52.94L514.29 52.94Z" fill="#2f9e5e"/><path d="M519.03 56.76L522.87 50.36L515.19 50.36Z" fill="#2f9e5e"/><path d="M519.94 54.36L523.78 47.96L516.1 47.96Z" fill="#2f9e5e"/><path d="M520.85 52.13L524.69 45.73L517.01 45.73Z" fill="#2f9e5e"/><path d="M521.76 50.03L525.6 43.63L517.92 43.63Z" fill="#2f9e5e"/><path d="M522.66 48.07L526.5 41.67L518.82 41.67Z" fill="#2f9e5e"/><path d="M523.57 46.24L527.41 39.84L519.73 39.84Z" fill="#2f9e5e"/><path d="M524.48 44.54L528.32 38.14L520.64 38.14Z" fill="#2f9e5e"/><path d="M525.38 42.98L529.22 36.58L521.54 36.58Z" fill="#2f9e5e"/><path d="M526.29 41.56L530.13 35.16L522.45 35.16Z" fill="#2f9e5e"/><path d="M527.2 40.25L531.04 33.85L523.36 33.85Z" fill="#2f9e5e"/><path d="M528.11 39.04L531.95 32.64L524.27 32.64Z" fill="#2f9e5e"/><path d="M529.01 37.89L532.85 31.49L525.17 31.49Z" fill="#2f9e5e"/><path d="M529.92 36.78L533.76 30.38L526.08 30.38Z" fill="#2f9e5e"/><path d="M530.83 35.66L534.67 29.26L526.99 29.26Z" fill="#2f9e5e"/><path d="M531.74 34.51L535.58 28.11L527.9 28.11Z" fill="#2f9e5e"/><path d="M532.64 33.29L536.48 26.89L528.8 26.89Z" fill="#2f9e5e"/><path d="M533.55 32.03L537.39 25.63L529.71 25.63Z" fill="#2f9e5e"/><path d="M534.46 30.79L538.3 24.39L530.62 24.39Z" fill="#2f9e5e"/><path d="M535.36 29.63L539.2 23.23L531.52 23.23Z" fill="#2f9e5e"/><path d="M536.27 28.62L540.11 22.22L532.43 22.22Z" fill="#2f9e5e"/><path d="M537.18 27.82L541.02 21.42L533.34 21.42Z" fill="#2f9e5e"/><path d="M538.09 27.11L541.93 20.71L534.25 20.71Z" fill="#2f9e5e"/><path d="M538.99 26.41L542.83 20.01L535.15 20.01Z" fill="#2f9e5e"/><path d="M539.9 25.77L543.74 19.37L536.06 19.37Z" fill="#2f9e5e"/><path d="M540.81 25.25L544.65 18.85L536.97 18.85Z" fill="#2f9e5e"/><path d="M541.71 24.89L545.55 18.49L537.87 18.49Z" fill="#2f9e5e"/><path d="M542.62 24.74L546.46 18.34L538.78 18.34Z" fill="#2f9e5e"/><path d="M543.53 24.74L547.37 18.34L539.69 18.34Z" fill="#2f9e5e"/><path d="M544.44 24.74L548.28 18.34L540.6 18.34Z" fill="#2f9e5e"/><path d="M545.34 24.76L549.18 18.36L541.5 18.36Z" fill="#2f9e5e"/><path d="M546.25 24.78L550.09 18.38L542.41 18.38Z" fill="#2f9e5e"/><path d="M547.16 24.8L551 18.4L543.32 18.4Z" fill="#2f9e5e"/><path d="M548.06 24.84L551.9 18.44L544.22 18.44Z" fill="#2f9e5e"/><path d="M548.97 24.88L552.81 18.48L545.13 18.48Z" fill="#2f9e5e"/><path d="M549.88 24.93L553.72 18.53L546.04 18.53Z" fill="#2f9e5e"/><path d="M550.79 25.18L554.63 18.78L546.95 18.78Z" fill="#2f9e5e"/><path d="M551.69 25.87L555.53 19.47L547.85 19.47Z" fill="#2f9e5e"/><path d="M552.6 26.9L556.44 20.5L548.76 20.5Z" fill="#2f9e5e"/><path d="M553.51 28.15L557.35 21.75L549.67 21.75Z" fill="#2f9e5e"/><path d="M554.42 29.5L558.26 23.1L550.58 23.1Z" fill="#2f9e5e"/><path d="M555.32 31.24L559.16 24.84L551.48 24.84Z" fill="#2f9e5e"/><path d="M556.23 33.58L560.07 27.18L552.39 27.18Z" fill="#2f9e5e"/><path d="M557.14 36.25L560.98 29.85L553.3 29.85Z" fill="#2f9e5e"/><path d="M558.04 39.09L561.88 32.69L554.2 32.69Z" fill="#2f9e5e"/><path d="M558.95 42.3L562.79 35.9L555.11 35.9Z" fill="#2f9e5e"/><path d="M559.86 45.85L563.7 39.45L556.02 39.45Z" fill="#2f9e5e"/><path d="M560.77 49.62L564.61 43.22L556.93 43.22Z" fill="#2f9e5e"/><path d="M561.67 53.47L565.51 47.07L557.83 47.07Z" fill="#2f9e5e"/><path d="M562.58 57.43L566.42 51.03L558.74 51.03Z" fill="#2f9e5e"/><path d="M563.49 61.59L567.33 55.19L559.65 55.19Z" fill="#2f9e5e"/><path d="M564.39 65.89L568.23 59.49L560.55 59.49Z" fill="#2f9e5e"/><path d="M565.3 70.32L569.14 63.92L561.46 63.92Z" fill="#2f9e5e"/><path d="M566.21 74.82L570.05 68.42L562.37 68.42Z" fill="#2f9e5e"/><path d="M567.12 79.35L570.96 72.95L563.28 72.95Z" fill="#2f9e5e"/><path d="M568.02 83.89L571.86 77.49L564.18 77.49Z" fill="#2f9e5e"/><path d="M568.93 88.48L572.77 82.08L565.09 82.08Z" fill="#2f9e5e"/><path d="M569.84 93.2L573.68 86.8L566 86.8Z" fill="#2f9e5e"/><path d="M570.74 97.97L574.58 91.57L566.9 91.57Z" fill="#2f9e5e"/><path d="M571.65 102.76L575.49 96.36L567.81 96.36Z" fill="#2f9e5e"/><path d="M572.56 107.5L576.4 101.1L568.72 101.1Z" fill="#2f9e5e"/><path d="M573.47 112.15L577.31 105.75L569.63 105.75Z" fill="#2f9e5e"/><path d="M574.37 116.7L578.21 110.3L570.53 110.3Z" fill="#2f9e5e"/><path d="M575.28 121.25L579.12 114.85L571.44 114.85Z" fill="#2f9e5e"/><path d="M576.19 125.79L580.03 119.39L572.35 119.39Z" fill="#2f9e5e"/><path d="M577.1 130.27L580.94 123.87L573.26 123.87Z" fill="#2f9e5e"/><path d="M578 134.63L581.84 128.23L574.16 128.23Z" fill="#2f9e5e"/><path d="M578.91 138.85L582.75 132.45L575.07 132.45Z" fill="#2f9e5e"/><path d="M579.82 142.87L583.66 136.47L575.98 136.47Z" fill="#2f9e5e"/><path d="M580.72 146.6L584.56 140.2L576.88 140.2Z" fill="#2f9e5e"/><path d="M581.63 150.08L585.47 143.68L577.79 143.68Z" fill="#2f9e5e"/><path d="M582.54 153.54L586.38 147.14L578.7 147.14Z" fill="#2f9e5e"/><path d="M583.45 157.18L587.29 150.78L579.61 150.78Z" fill="#2f9e5e"/><path d="M584.35 160.96L588.19 154.56L580.51 154.56Z" fill="#2f9e5e"/><path d="M585.26 164.75L589.1 158.35L581.42 158.35Z" fill="#2f9e5e"/><path d="M586.17 168.43L590.01 162.03L582.33 162.03Z" fill="#2f9e5e"/><path d="M587.07 171.88L590.91 165.48L583.23 165.48Z" fill="#2f9e5e"/><path d="M587.98 174.98L591.82 168.58L584.14 168.58Z" fill="#2f9e5e"/><path d="M588.89 177.84L592.73 171.44L585.05 171.44Z" fill="#2f9e5e"/><path d="M589.8 180.58L593.64 174.18L585.96 174.18Z" fill="#2f9e5e"/><path d="M590.7 183.19L594.54 176.79L586.86 176.79Z" fill="#2f9e5e"/><path d="M591.61 185.65L595.45 179.25L587.77 179.25Z" fill="#2f9e5e"/><path d="M592.52 187.93L596.36 181.53L588.68 181.53Z" fill="#2f9e5e"/><path d="M593.42 190.02L597.26 183.62L589.58 183.62Z" fill="#2f9e5e"/><path d="M594.33 191.89L598.17 185.49L590.49 185.49Z" fill="#2f9e5e"/><path d="M595.24 193.57L599.08 187.17L591.4 187.17Z" fill="#2f9e5e"/><path d="M596.15 195.08L599.99 188.68L592.31 188.68Z" fill="#2f9e5e"/><path d="M597.05 196.46L600.89 190.06L593.21 190.06Z" fill="#2f9e5e"/><path d="M597.96 197.75L601.8 191.35L594.12 191.35Z" fill="#2f9e5e"/><path d="M598.87 198.99L602.71 192.59L595.03 192.59Z" fill="#2f9e5e"/><path d="M599.78 200.18L603.62 193.78L595.94 193.78Z" fill="#2f9e5e"/><path d="M600.68 201.27L604.52 194.87L596.84 194.87Z" fill="#2f9e5e"/><path d="M601.59 202.19L605.43 195.79L597.75 195.79Z" fill="#2f9e5e"/><path d="M602.5 202.96L606.34 196.56L598.66 196.56Z" fill="#2f9e5e"/><path d="M603.4 203.64L607.24 197.24L599.56 197.24Z" fill="#2f9e5e"/><path d="M604.31 204.26L608.15 197.86L600.47 197.86Z" fill="#2f9e5e"/><path d="M605.22 204.86L609.06 198.46L601.38 198.46Z" fill="#2f9e5e"/><path d="M606.13 205.47L609.97 199.07L602.29 199.07Z" fill="#2f9e5e"/><path d="M607.03 206.05L610.87 199.65L603.19 199.65Z" fill="#2f9e5e"/><path d="M607.94 206.6L611.78 200.2L604.1 200.2Z" fill="#2f9e5e"/><path d="M608.85 207.17L612.69 200.77L605.01 200.77Z" fill="#2f9e5e"/><path d="M609.75 207.79L613.59 201.39L605.91 201.39Z" fill="#2f9e5e"/><path d="M610.66 208.45L614.5 202.05L606.82 202.05Z" fill="#2f9e5e"/><path d="M611.57 209.13L615.41 202.73L607.73 202.73Z" fill="#2f9e5e"/><path d="M612.48 209.85L616.32 203.45L608.64 203.45Z" fill="#2f9e5e"/><path d="M613.38 210.63L617.22 204.23L609.54 204.23Z" fill="#2f9e5e"/><path d="M614.29 211.47L618.13 205.07L610.45 205.07Z" fill="#2f9e5e"/><path d="M615.2 212.39L619.04 205.99L611.36 205.99Z" fill="#2f9e5e"/><path d="M616.1 213.45L619.94 207.05L612.26 207.05Z" fill="#2f9e5e"/><path d="M617.01 214.69L620.85 208.29L613.17 208.29Z" fill="#2f9e5e"/><path d="M617.92 216.1L621.76 209.7L614.08 209.7Z" fill="#2f9e5e"/><path d="M618.83 217.99L622.67 211.59L614.99 211.59Z" fill="#2f9e5e"/><path d="M619.73 219.92L623.57 213.52L615.89 213.52Z" fill="#2f9e5e"/><path d="M620.64 220.87L624.48 214.47L616.8 214.47Z" fill="#2f9e5e"/><path d="M621.55 221.51L625.39 215.11L617.71 215.11Z" fill="#2f9e5e"/>
<line x1="623.6" y1="192" x2="623.6" y2="204" stroke="#f8d4d4" stroke-width="1"/>
<circle cx="621.6" cy="190.5" r="3" fill="#ec3a40"/>
<circle cx="622.2" cy="203.4" r="3" fill="#ec3a40"/>
<path d="M623.6 186.58L627.32 192.78L619.88 192.78Z" fill="#1d68de"/>
<path d="M624.4 199.28L628.12 205.48L620.68 205.48Z" fill="#1d68de"/>
<path d="M619.5 207.66L623.34 214.06L615.66 214.06Z" fill="#1d68de"/>
<path d="M622.5 208.66L626.34 215.06L618.66 215.06Z" fill="#1d68de"/>
<path d="M621 205.66L624.84 212.06L617.16 212.06Z" fill="#1d68de"/>
<path d="M617.5 221.44L621.34 215.04L613.66 215.04Z" fill="#2f9e5e"/>
<path d="M622.5 221.44L626.34 215.04L618.66 215.04Z" fill="#2f9e5e"/>
<text x="494.9" y="269.7" font-size="9.5" font-weight="bold" textLength="62.2" lengthAdjust="spacingAndGlyphs" class="axl">Position (mm)</text>
<text x="0" y="0" font-size="9.6" font-weight="bold" textLength="39" lengthAdjust="spacingAndGlyphs" class="axl" transform="translate(341.3,138.3) rotate(-90)">Dose (%)</text>
<text x="656.6" y="89.6" font-size="12.9" class="lb">B)</text>
<rect x="583.7" y="1.2" width="100.3" height="62.9" fill="#fff" stroke="#a8a8a8" stroke-width="1"/>
<line x1="585.7" y1="10.2" x2="614.9" y2="10.2" stroke="#e6e6e6" stroke-width="1"/>
<rect x="597.4" y="7.5" width="5.4" height="5.4" fill="#474747"/>
<text x="619" y="14.5" font-size="12.85" class="lg">RayStation</text>
<line x1="585.7" y1="25.4" x2="614.9" y2="25.4" stroke="#f3a0a0" stroke-width="1"/>
<circle cx="600.1" cy="25.4" r="3.15" fill="#ec3a40"/>
<text x="619" y="29.7" font-size="12.85" class="lg">Vigo AH4</text>
<line x1="585.7" y1="41.1" x2="614.9" y2="41.1" stroke="#b9d2f4" stroke-width="2"/>
<path d="M600.1 37.32L603.88 43.62L596.32 43.62Z" fill="#1d68de"/>
<text x="619" y="45.4" font-size="12.85" class="lg">Vigo AH5</text>
<line x1="585.7" y1="56.3" x2="614.9" y2="56.3" stroke="#d8efe0" stroke-width="1"/>
<path d="M600.1 60.08L603.88 53.78L596.32 53.78Z" fill="#2f9e5e"/>
<text x="619" y="60.6" font-size="12.85" class="lg">Vigo AH6</text>
<g class="tb"><line x1="56" y1="276.4" x2="276.9" y2="276.4" stroke="#b4b4b4" stroke-width="1"/><text x="61.4" y="285.4" font-size="8.3" font-weight="bold" textLength="210.2" lengthAdjust="spacingAndGlyphs">EBT3 film 2 cm below Ta Collimator (Average AH1 to AH3)</text><line x1="56" y1="288.3" x2="276.9" y2="288.3" stroke="#8c8c8c" stroke-width="1.6"/><text x="162.7" y="298" font-size="8.2" text-anchor="middle" textLength="37.7" lengthAdjust="spacingAndGlyphs">RayStation</text><text x="208.4" y="298" font-size="8.2" text-anchor="middle" textLength="16.4" lengthAdjust="spacingAndGlyphs">Vigo</text><text x="254.1" y="298" font-size="8.2" text-anchor="middle" textLength="33.5" lengthAdjust="spacingAndGlyphs">Diff (mm)</text><line x1="56" y1="300.4" x2="276.9" y2="300.4" stroke="#8c8c8c" stroke-width="1.6"/><text x="98.4" y="309.8" font-size="8.2" text-anchor="middle" textLength="78.5" lengthAdjust="spacingAndGlyphs">Right Penumbra (mm)</text><text x="162.7" y="309.8" font-size="8.2" text-anchor="middle" textLength="19.8" lengthAdjust="spacingAndGlyphs">0.689</text><text x="208.4" y="309.8" font-size="8.2" text-anchor="middle" textLength="19.8" lengthAdjust="spacingAndGlyphs">0.626</text><text x="254.1" y="309.8" font-size="8.2" text-anchor="middle" textLength="19.8" lengthAdjust="spacingAndGlyphs">0.063</text><text x="98.4" y="321.2" font-size="8.2" text-anchor="middle" textLength="73.6" lengthAdjust="spacingAndGlyphs">Left Penumbra (mm)</text><text x="162.7" y="321.2" font-size="8.2" text-anchor="middle" textLength="19.8" lengthAdjust="spacingAndGlyphs">0.654</text><text x="208.4" y="321.2" font-size="8.2" text-anchor="middle" textLength="19.8" lengthAdjust="spacingAndGlyphs">0.575</text><text x="254.1" y="321.2" font-size="8.2" text-anchor="middle" textLength="19.8" lengthAdjust="spacingAndGlyphs">0.079</text><text x="98.4" y="332.6" font-size="8.2" text-anchor="middle" textLength="53.8" lengthAdjust="spacingAndGlyphs">Field Size (mm)</text><text x="162.7" y="332.6" font-size="8.2" text-anchor="middle" textLength="19.8" lengthAdjust="spacingAndGlyphs">0.653</text><text x="208.4" y="332.6" font-size="8.2" text-anchor="middle" textLength="19.8" lengthAdjust="spacingAndGlyphs">0.622</text><text x="254.1" y="332.6" font-size="8.2" text-anchor="middle" textLength="19.8" lengthAdjust="spacingAndGlyphs">0.031</text><line x1="56" y1="335" x2="276.9" y2="335" stroke="#777" stroke-width="1.1"/></g>
<g class="tb"><line x1="388.7" y1="274.5" x2="643" y2="274.5" stroke="#b4b4b4" stroke-width="1"/><text x="406.4" y="283.8" font-size="8.7" font-weight="bold" textLength="218.6" lengthAdjust="spacingAndGlyphs">EBT3 film just below Ta Collimator (Average AH4 to AH6)</text><line x1="388.7" y1="286.9" x2="643" y2="286.9" stroke="#8c8c8c" stroke-width="1.6"/><text x="506" y="295.9" font-size="8.2" text-anchor="middle" textLength="40" lengthAdjust="spacingAndGlyphs">RayStation</text><text x="560.2" y="295.9" font-size="8.2" text-anchor="middle" textLength="17.4" lengthAdjust="spacingAndGlyphs">Vigo</text><text x="615.4" y="295.9" font-size="8.2" text-anchor="middle" textLength="35.5" lengthAdjust="spacingAndGlyphs">Diff (mm)</text><line x1="388.7" y1="299.9" x2="643" y2="299.9" stroke="#8c8c8c" stroke-width="1.6"/><text x="433.5" y="309.1" font-size="8.2" text-anchor="middle" textLength="83.3" lengthAdjust="spacingAndGlyphs">Right Penumbra (mm)</text><text x="506" y="309.1" font-size="8.2" text-anchor="middle" textLength="21.5" lengthAdjust="spacingAndGlyphs">1.406</text><text x="560.2" y="309.1" font-size="8.2" text-anchor="middle" textLength="21.5" lengthAdjust="spacingAndGlyphs">1.319</text><text x="615.4" y="309.1" font-size="8.2" text-anchor="middle" textLength="21.5" lengthAdjust="spacingAndGlyphs">0.086</text><text x="433.5" y="320.8" font-size="8.2" text-anchor="middle" textLength="78" lengthAdjust="spacingAndGlyphs">Left Penumbra (mm)</text><text x="506" y="320.8" font-size="8.2" text-anchor="middle" textLength="21.5" lengthAdjust="spacingAndGlyphs">1.303</text><text x="560.2" y="320.8" font-size="8.2" text-anchor="middle" textLength="17.2" lengthAdjust="spacingAndGlyphs">1.31</text><text x="615.4" y="320.8" font-size="8.2" text-anchor="middle" textLength="25.8" lengthAdjust="spacingAndGlyphs">-0.007</text><text x="433.5" y="332.5" font-size="8.2" text-anchor="middle" textLength="57" lengthAdjust="spacingAndGlyphs">Field Size (mm)</text><text x="506" y="332.5" font-size="8.2" text-anchor="middle" textLength="21.5" lengthAdjust="spacingAndGlyphs">1.332</text><text x="560.2" y="332.5" font-size="8.2" text-anchor="middle" textLength="17.2" lengthAdjust="spacingAndGlyphs">1.26</text><text x="615.4" y="332.5" font-size="8.2" text-anchor="middle" textLength="21.5" lengthAdjust="spacingAndGlyphs">0.072</text><line x1="388.7" y1="334.8" x2="643" y2="334.8" stroke="#777" stroke-width="1.1"/></g>
</svg></body></html>
